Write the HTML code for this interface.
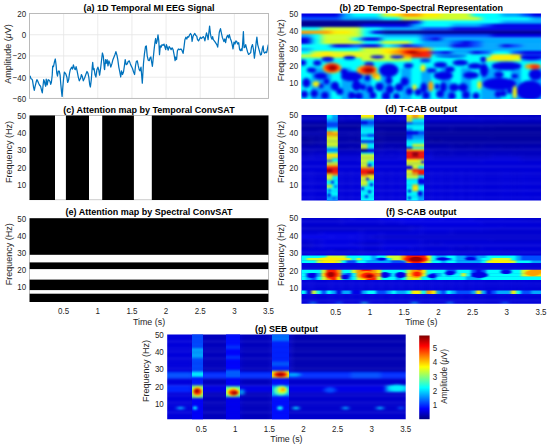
<!DOCTYPE html>
<html><head><meta charset="utf-8"><title>figure</title>
<style>html,body{margin:0;padding:0;background:#fff;width:550px;height:446px;overflow:hidden}svg{display:block}</style>
</head><body>
<svg width="550" height="446" viewBox="0 0 550 446">
<rect x="0" y="0" width="550" height="446" fill="#fff"/>
<line x1="63.64" y1="13.5" x2="63.64" y2="98.4" stroke="#e6e6e6" stroke-width="0.8"/>
<line x1="97.79" y1="13.5" x2="97.79" y2="98.4" stroke="#e6e6e6" stroke-width="0.8"/>
<line x1="131.93" y1="13.5" x2="131.93" y2="98.4" stroke="#e6e6e6" stroke-width="0.8"/>
<line x1="166.07" y1="13.5" x2="166.07" y2="98.4" stroke="#e6e6e6" stroke-width="0.8"/>
<line x1="200.21" y1="13.5" x2="200.21" y2="98.4" stroke="#e6e6e6" stroke-width="0.8"/>
<line x1="234.36" y1="13.5" x2="234.36" y2="98.4" stroke="#e6e6e6" stroke-width="0.8"/>
<line x1="29.5" y1="34.73" x2="268.5" y2="34.73" stroke="#e6e6e6" stroke-width="0.8"/>
<line x1="29.5" y1="55.95" x2="268.5" y2="55.95" stroke="#e6e6e6" stroke-width="0.8"/>
<line x1="29.5" y1="77.18" x2="268.5" y2="77.18" stroke="#e6e6e6" stroke-width="0.8"/>
<polyline points="29.5,77.2 30.2,76.2 31.0,78.7 32.0,79.2 32.5,80.3 33.6,87.3 34.3,90.4 35.1,86.3 36.1,82.3 36.9,79.7 37.6,80.8 38.6,83.3 39.6,85.3 40.6,86.3 41.6,90.4 42.3,92.9 43.2,84.3 43.7,79.7 44.4,81.3 45.0,84.3 45.7,86.3 46.2,79.2 46.7,81.3 47.2,84.8 48.2,79.7 49.2,80.3 50.0,81.3 50.7,84.3 51.4,82.3 52.2,75.2 52.7,66.1 53.5,66.6 54.5,61.6 55.3,59.0 56.1,65.1 56.8,73.2 57.5,76.2 58.3,71.2 59.3,71.2 60.1,75.2 60.8,84.3 61.6,92.4 62.1,96.4 62.8,87.3 63.6,78.2 64.4,72.2 65.9,74.2 66.9,77.2 67.6,82.3 67.9,82.0 68.7,79.6 69.5,73.4 70.3,69.7 71.6,67.2 72.4,69.1 73.4,64.8 74.4,68.5 75.3,69.7 76.1,66.6 77.1,70.9 78.3,77.1 79.3,80.8 80.6,78.3 81.4,74.6 82.3,76.5 83.3,80.8 84.5,78.3 85.8,74.6 87.0,71.5 88.0,73.4 88.8,77.1 89.7,84.5 90.4,87.0 91.3,79.6 92.2,67.2 92.7,62.3 93.4,69.7 94.1,68.5 95.0,74.6 95.9,77.1 96.9,69.7 97.9,67.2 98.7,69.7 99.6,75.2 100.6,68.5 101.6,59.8 102.4,53.0 103.3,56.1 104.3,68.5 104.6,69.6 105.5,59.7 106.2,63.4 107.1,59.7 108.0,65.9 108.9,60.9 109.9,63.4 110.8,67.1 112.0,63.4 112.9,59.7 113.9,57.2 114.9,54.8 115.9,51.7 117.0,55.4 117.8,59.7 118.8,67.1 119.8,72.0 120.7,77.0 121.5,70.8 122.5,74.5 123.5,72.0 124.4,65.9 125.2,59.7 126.2,64.6 127.2,64.0 128.2,61.5 129.3,60.9 130.2,63.4 131.2,65.9 132.4,68.3 133.6,72.0 134.6,74.5 135.5,65.9 136.3,61.5 137.3,60.9 138.3,65.9 139.2,69.6 140.0,70.8 141.0,67.1 141.7,75.7 142.3,83.1 143.5,63.2 144.5,53.3 145.5,46.5 146.3,45.9 147.2,55.8 148.2,60.1 149.2,60.7 150.1,57.7 150.9,57.0 151.6,62.0 152.4,66.3 153.1,59.5 154.1,49.6 155.0,42.2 155.6,38.5 156.3,43.5 157.1,41.0 158.0,34.8 158.8,41.0 159.5,54.6 160.3,45.9 161.1,47.2 162.0,44.7 163.0,45.3 164.0,44.1 164.8,46.5 165.7,49.6 166.4,44.7 167.3,47.2 168.2,50.2 169.2,46.5 170.1,47.8 171.1,49.6 172.1,47.8 173.1,49.6 174.1,54.6 175.1,60.7 175.8,57.0 176.6,59.5 177.4,50.9 178.4,49.0 179.7,49.6 180.9,49.0 181.9,50.2 183.1,53.3 184.0,47.1 184.9,39.7 185.9,37.2 186.8,39.1 187.7,36.6 188.6,37.2 189.6,34.8 190.5,33.5 191.4,34.8 192.1,41.5 193.0,36.6 193.8,34.8 194.8,33.5 195.8,35.4 196.7,36.0 197.5,39.7 198.5,40.9 199.5,39.1 200.4,37.2 201.2,38.5 202.2,37.8 203.2,36.6 204.1,37.8 204.9,40.9 205.7,36.6 206.5,32.9 207.4,36.0 208.1,39.7 208.9,32.3 209.6,26.1 210.4,33.5 211.1,37.2 211.9,39.1 212.6,36.6 213.3,39.7 214.3,40.9 215.2,42.2 216.0,43.4 216.8,44.6 217.7,47.1 218.5,39.7 219.3,32.3 220.5,28.6 221.5,33.5 222.3,37.2 223.2,39.6 223.9,41.5 224.8,39.0 225.6,42.7 226.6,37.2 227.6,35.3 228.5,37.8 229.3,34.7 230.3,38.4 231.3,40.9 232.2,44.6 233.0,48.9 234.0,42.1 235.0,44.0 235.9,40.9 236.7,41.5 237.7,44.0 238.7,42.7 239.6,49.5 240.4,50.7 241.2,48.9 242.0,50.7 242.6,44.6 243.4,31.6 244.1,47.7 244.9,47.0 245.7,44.6 246.6,48.3 247.6,52.0 248.6,54.4 249.5,53.8 250.7,52.6 251.5,47.0 252.5,44.6 253.5,49.5 254.4,58.1 255.2,52.0 256.2,42.1 256.9,37.2 257.7,44.6 258.7,48.3 259.7,52.0 260.5,55.0 261.4,54.4 262.4,48.3 263.1,45.8 263.8,52.0 264.6,53.2 265.6,52.0 266.6,52.6 267.3,49.5 268.3,44.6" fill="none" stroke="#0072bd" stroke-width="1.25" stroke-linejoin="round"/>
<rect x="29.5" y="13.5" width="239.0" height="84.90" fill="none" stroke="#b3b3b3" stroke-width="0.9"/>
<text x="149.00" y="10.60" font-family="Liberation Sans, sans-serif" font-size="9" font-weight="bold" fill="#000" text-anchor="middle">(a) 1D Temporal MI EEG Signal</text>
<text transform="translate(26.10,16.85) scale(1,1.15)" font-family="Liberation Sans, sans-serif" font-size="8.0" fill="#262626" text-anchor="end">20</text>
<text transform="translate(26.10,38.08) scale(1,1.15)" font-family="Liberation Sans, sans-serif" font-size="8.0" fill="#262626" text-anchor="end">0</text>
<text transform="translate(26.10,59.30) scale(1,1.15)" font-family="Liberation Sans, sans-serif" font-size="8.0" fill="#262626" text-anchor="end">−20</text>
<text transform="translate(26.10,80.53) scale(1,1.15)" font-family="Liberation Sans, sans-serif" font-size="8.0" fill="#262626" text-anchor="end">−40</text>
<text transform="translate(26.10,101.75) scale(1,1.15)" font-family="Liberation Sans, sans-serif" font-size="8.0" fill="#262626" text-anchor="end">−60</text>
<text transform="translate(11.10,53.95) rotate(-90)" x="0" y="0" font-family="Liberation Sans, sans-serif" font-size="9.0" fill="#262626" text-anchor="middle">Amplitude (<tspan font-style="italic">μ</tspan>V)</text>
<clipPath id="k1"><rect x="301.50" y="13.50" width="239.50" height="85.20"/></clipPath>
<filter id="k2" x="-10%" y="-10%" width="120%" height="120%" color-interpolation-filters="sRGB"><feGaussianBlur stdDeviation="3.2 1.3"/></filter>
<g clip-path="url(#k1)">
<g filter="url(#k2)">
<rect x="295.50" y="7.50" width="46.17" height="9.66" fill="#0000e6"/>
<rect x="341.42" y="7.50" width="10.23" height="9.66" fill="#00a8ff"/>
<rect x="351.40" y="7.50" width="30.19" height="9.66" fill="#00ffff"/>
<rect x="381.33" y="7.50" width="10.23" height="9.66" fill="#d1ff2e"/>
<rect x="391.31" y="7.50" width="10.23" height="9.66" fill="#fff000"/>
<rect x="401.29" y="7.50" width="20.21" height="9.66" fill="#ff9e00"/>
<rect x="421.25" y="7.50" width="20.21" height="9.66" fill="#fff000"/>
<rect x="441.21" y="7.50" width="30.19" height="9.66" fill="#d1ff2e"/>
<rect x="471.15" y="7.50" width="30.19" height="9.66" fill="#00ffff"/>
<rect x="501.08" y="7.50" width="20.21" height="9.66" fill="#00a8ff"/>
<rect x="521.04" y="7.50" width="10.23" height="9.66" fill="#004dff"/>
<rect x="531.02" y="7.50" width="16.23" height="9.66" fill="#0000e6"/>
<rect x="295.50" y="16.91" width="46.17" height="3.66" fill="#004dff"/>
<rect x="341.42" y="16.91" width="40.17" height="3.66" fill="#00a8ff"/>
<rect x="381.33" y="16.91" width="20.21" height="3.66" fill="#00ffff"/>
<rect x="401.29" y="16.91" width="80.08" height="3.66" fill="#d1ff2e"/>
<rect x="481.12" y="16.91" width="50.15" height="3.66" fill="#00ffff"/>
<rect x="531.02" y="16.91" width="16.23" height="3.66" fill="#00a8ff"/>
<rect x="295.50" y="20.32" width="116.02" height="3.66" fill="#000094"/>
<rect x="411.27" y="20.32" width="10.23" height="3.66" fill="#0000e6"/>
<rect x="421.25" y="20.32" width="80.08" height="3.66" fill="#00ffff"/>
<rect x="501.08" y="20.32" width="46.17" height="3.66" fill="#00a8ff"/>
<rect x="295.50" y="23.72" width="66.12" height="3.66" fill="#000094"/>
<rect x="361.38" y="23.72" width="50.15" height="3.66" fill="#0000e6"/>
<rect x="411.27" y="23.72" width="10.23" height="3.66" fill="#00a8ff"/>
<rect x="421.25" y="23.72" width="30.19" height="3.66" fill="#00ffff"/>
<rect x="451.19" y="23.72" width="30.19" height="3.66" fill="#00a8ff"/>
<rect x="481.12" y="23.72" width="10.23" height="3.66" fill="#004dff"/>
<rect x="491.10" y="23.72" width="56.15" height="3.66" fill="#0000e6"/>
<rect x="295.50" y="27.13" width="26.21" height="3.66" fill="#00ffff"/>
<rect x="321.46" y="27.13" width="40.17" height="3.66" fill="#d1ff2e"/>
<rect x="361.38" y="27.13" width="20.21" height="3.66" fill="#00ffff"/>
<rect x="381.33" y="27.13" width="40.17" height="3.66" fill="#00a8ff"/>
<rect x="421.25" y="27.13" width="30.19" height="3.66" fill="#004dff"/>
<rect x="451.19" y="27.13" width="96.06" height="3.66" fill="#0000e6"/>
<rect x="295.50" y="30.54" width="36.19" height="3.66" fill="#ff9e00"/>
<rect x="331.44" y="30.54" width="20.21" height="3.66" fill="#fff000"/>
<rect x="351.40" y="30.54" width="10.23" height="3.66" fill="#d1ff2e"/>
<rect x="361.38" y="30.54" width="10.23" height="3.66" fill="#00ffff"/>
<rect x="371.35" y="30.54" width="10.23" height="3.66" fill="#0000e6"/>
<rect x="381.33" y="30.54" width="165.92" height="3.66" fill="#000094"/>
<rect x="295.50" y="33.95" width="16.23" height="3.66" fill="#00a8ff"/>
<rect x="311.48" y="33.95" width="10.23" height="3.66" fill="#00ffff"/>
<rect x="321.46" y="33.95" width="40.17" height="3.66" fill="#d1ff2e"/>
<rect x="361.38" y="33.95" width="20.21" height="3.66" fill="#00ffff"/>
<rect x="381.33" y="33.95" width="40.17" height="3.66" fill="#00a8ff"/>
<rect x="421.25" y="33.95" width="70.10" height="3.66" fill="#004dff"/>
<rect x="491.10" y="33.95" width="56.15" height="3.66" fill="#0000e6"/>
<rect x="295.50" y="37.36" width="16.23" height="3.66" fill="#0000e6"/>
<rect x="311.48" y="37.36" width="10.23" height="3.66" fill="#00ffff"/>
<rect x="321.46" y="37.36" width="30.19" height="3.66" fill="#d1ff2e"/>
<rect x="351.40" y="37.36" width="10.23" height="3.66" fill="#00ffff"/>
<rect x="361.38" y="37.36" width="20.21" height="3.66" fill="#0000e6"/>
<rect x="381.33" y="37.36" width="40.17" height="3.66" fill="#00ffff"/>
<rect x="421.25" y="37.36" width="10.23" height="3.66" fill="#004dff"/>
<rect x="431.23" y="37.36" width="10.23" height="3.66" fill="#0000e6"/>
<rect x="441.21" y="37.36" width="106.04" height="3.66" fill="#00a8ff"/>
<rect x="295.50" y="40.76" width="16.23" height="3.66" fill="#0000e6"/>
<rect x="311.48" y="40.76" width="10.23" height="3.66" fill="#00ffff"/>
<rect x="321.46" y="40.76" width="40.17" height="3.66" fill="#d1ff2e"/>
<rect x="361.38" y="40.76" width="20.21" height="3.66" fill="#00ffff"/>
<rect x="381.33" y="40.76" width="30.19" height="3.66" fill="#d1ff2e"/>
<rect x="411.27" y="40.76" width="10.23" height="3.66" fill="#00ffff"/>
<rect x="421.25" y="40.76" width="30.19" height="3.66" fill="#00a8ff"/>
<rect x="451.19" y="40.76" width="10.23" height="3.66" fill="#004dff"/>
<rect x="461.17" y="40.76" width="10.23" height="3.66" fill="#0000e6"/>
<rect x="471.15" y="40.76" width="10.23" height="3.66" fill="#004dff"/>
<rect x="481.12" y="40.76" width="66.12" height="3.66" fill="#00a8ff"/>
<rect x="295.50" y="44.17" width="36.19" height="3.66" fill="#00ffff"/>
<rect x="331.44" y="44.17" width="20.21" height="3.66" fill="#0000e6"/>
<rect x="351.40" y="44.17" width="10.23" height="3.66" fill="#004dff"/>
<rect x="361.38" y="44.17" width="20.21" height="3.66" fill="#0000e6"/>
<rect x="381.33" y="44.17" width="10.23" height="3.66" fill="#00ffff"/>
<rect x="391.31" y="44.17" width="10.23" height="3.66" fill="#00a8ff"/>
<rect x="401.29" y="44.17" width="10.23" height="3.66" fill="#0000e6"/>
<rect x="411.27" y="44.17" width="10.23" height="3.66" fill="#004dff"/>
<rect x="421.25" y="44.17" width="30.19" height="3.66" fill="#00a8ff"/>
<rect x="451.19" y="44.17" width="20.21" height="3.66" fill="#0000e6"/>
<rect x="471.15" y="44.17" width="10.23" height="3.66" fill="#004dff"/>
<rect x="481.12" y="44.17" width="20.21" height="3.66" fill="#00a8ff"/>
<rect x="501.08" y="44.17" width="10.23" height="3.66" fill="#0000e6"/>
<rect x="511.06" y="44.17" width="10.23" height="3.66" fill="#004dff"/>
<rect x="521.04" y="44.17" width="26.21" height="3.66" fill="#00a8ff"/>
<rect x="295.50" y="47.58" width="16.23" height="3.66" fill="#00a8ff"/>
<rect x="311.48" y="47.58" width="50.15" height="3.66" fill="#00ffff"/>
<rect x="361.38" y="47.58" width="20.21" height="3.66" fill="#d1ff2e"/>
<rect x="381.33" y="47.58" width="20.21" height="3.66" fill="#fff000"/>
<rect x="401.29" y="47.58" width="10.23" height="3.66" fill="#ff9e00"/>
<rect x="411.27" y="47.58" width="10.23" height="3.66" fill="#ff1a00"/>
<rect x="421.25" y="47.58" width="10.23" height="3.66" fill="#ff9e00"/>
<rect x="431.23" y="47.58" width="20.21" height="3.66" fill="#00ffff"/>
<rect x="451.19" y="47.58" width="96.06" height="3.66" fill="#00a8ff"/>
<rect x="295.50" y="50.99" width="16.23" height="3.66" fill="#00ffff"/>
<rect x="311.48" y="50.99" width="10.23" height="3.66" fill="#d1ff2e"/>
<rect x="321.46" y="50.99" width="10.23" height="3.66" fill="#fff000"/>
<rect x="331.44" y="50.99" width="50.15" height="3.66" fill="#d1ff2e"/>
<rect x="381.33" y="50.99" width="10.23" height="3.66" fill="#fff000"/>
<rect x="391.31" y="50.99" width="10.23" height="3.66" fill="#ff9e00"/>
<rect x="401.29" y="50.99" width="10.23" height="3.66" fill="#ff1a00"/>
<rect x="411.27" y="50.99" width="10.23" height="3.66" fill="#9e0000"/>
<rect x="421.25" y="50.99" width="10.23" height="3.66" fill="#ff1a00"/>
<rect x="431.23" y="50.99" width="10.23" height="3.66" fill="#004dff"/>
<rect x="441.21" y="50.99" width="10.23" height="3.66" fill="#0000e6"/>
<rect x="451.19" y="50.99" width="20.21" height="3.66" fill="#00a8ff"/>
<rect x="471.15" y="50.99" width="10.23" height="3.66" fill="#0000e6"/>
<rect x="481.12" y="50.99" width="10.23" height="3.66" fill="#004dff"/>
<rect x="491.10" y="50.99" width="20.21" height="3.66" fill="#00ffff"/>
<rect x="511.06" y="50.99" width="10.23" height="3.66" fill="#004dff"/>
<rect x="521.04" y="50.99" width="26.21" height="3.66" fill="#0000e6"/>
<rect x="295.50" y="54.40" width="16.23" height="3.66" fill="#d1ff2e"/>
<rect x="311.48" y="54.40" width="50.15" height="3.66" fill="#fff000"/>
<rect x="361.38" y="54.40" width="40.17" height="3.66" fill="#d1ff2e"/>
<rect x="401.29" y="54.40" width="10.23" height="3.66" fill="#ff9e00"/>
<rect x="411.27" y="54.40" width="20.21" height="3.66" fill="#ff1a00"/>
<rect x="431.23" y="54.40" width="60.12" height="3.66" fill="#00ffff"/>
<rect x="491.10" y="54.40" width="30.19" height="3.66" fill="#fff000"/>
<rect x="521.04" y="54.40" width="26.21" height="3.66" fill="#004dff"/>
<rect x="295.50" y="57.80" width="66.12" height="3.66" fill="#00ffff"/>
<rect x="361.38" y="57.80" width="50.15" height="3.66" fill="#d1ff2e"/>
<rect x="411.27" y="57.80" width="70.10" height="3.66" fill="#00ffff"/>
<rect x="481.12" y="57.80" width="40.17" height="3.66" fill="#d1ff2e"/>
<rect x="521.04" y="57.80" width="26.21" height="3.66" fill="#00a8ff"/>
<rect x="295.50" y="61.21" width="251.75" height="3.66" fill="#00ffff"/>
<rect x="295.50" y="64.62" width="251.75" height="3.66" fill="#00ffff"/>
<rect x="295.50" y="68.03" width="16.23" height="3.66" fill="#00ffff"/>
<rect x="311.48" y="68.03" width="20.21" height="3.66" fill="#00a8ff"/>
<rect x="331.44" y="68.03" width="10.23" height="3.66" fill="#00ffff"/>
<rect x="341.42" y="68.03" width="10.23" height="3.66" fill="#00a8ff"/>
<rect x="351.40" y="68.03" width="10.23" height="3.66" fill="#00ffff"/>
<rect x="361.38" y="68.03" width="10.23" height="3.66" fill="#00a8ff"/>
<rect x="371.35" y="68.03" width="10.23" height="3.66" fill="#00ffff"/>
<rect x="381.33" y="68.03" width="10.23" height="3.66" fill="#00a8ff"/>
<rect x="391.31" y="68.03" width="10.23" height="3.66" fill="#00ffff"/>
<rect x="401.29" y="68.03" width="10.23" height="3.66" fill="#00a8ff"/>
<rect x="411.27" y="68.03" width="10.23" height="3.66" fill="#00ffff"/>
<rect x="421.25" y="68.03" width="10.23" height="3.66" fill="#00a8ff"/>
<rect x="431.23" y="68.03" width="10.23" height="3.66" fill="#00ffff"/>
<rect x="441.21" y="68.03" width="10.23" height="3.66" fill="#00a8ff"/>
<rect x="451.19" y="68.03" width="10.23" height="3.66" fill="#00ffff"/>
<rect x="461.17" y="68.03" width="10.23" height="3.66" fill="#00a8ff"/>
<rect x="471.15" y="68.03" width="10.23" height="3.66" fill="#00ffff"/>
<rect x="481.12" y="68.03" width="20.21" height="3.66" fill="#00a8ff"/>
<rect x="501.08" y="68.03" width="10.23" height="3.66" fill="#00ffff"/>
<rect x="511.06" y="68.03" width="10.23" height="3.66" fill="#00a8ff"/>
<rect x="521.04" y="68.03" width="10.23" height="3.66" fill="#00ffff"/>
<rect x="531.02" y="68.03" width="16.23" height="3.66" fill="#00a8ff"/>
<rect x="295.50" y="71.44" width="16.23" height="3.66" fill="#00ffff"/>
<rect x="311.48" y="71.44" width="20.21" height="3.66" fill="#00a8ff"/>
<rect x="331.44" y="71.44" width="10.23" height="3.66" fill="#00ffff"/>
<rect x="341.42" y="71.44" width="10.23" height="3.66" fill="#00a8ff"/>
<rect x="351.40" y="71.44" width="10.23" height="3.66" fill="#00ffff"/>
<rect x="361.38" y="71.44" width="10.23" height="3.66" fill="#00a8ff"/>
<rect x="371.35" y="71.44" width="10.23" height="3.66" fill="#00ffff"/>
<rect x="381.33" y="71.44" width="10.23" height="3.66" fill="#00a8ff"/>
<rect x="391.31" y="71.44" width="10.23" height="3.66" fill="#00ffff"/>
<rect x="401.29" y="71.44" width="10.23" height="3.66" fill="#00a8ff"/>
<rect x="411.27" y="71.44" width="10.23" height="3.66" fill="#00ffff"/>
<rect x="421.25" y="71.44" width="10.23" height="3.66" fill="#00a8ff"/>
<rect x="431.23" y="71.44" width="10.23" height="3.66" fill="#00ffff"/>
<rect x="441.21" y="71.44" width="10.23" height="3.66" fill="#00a8ff"/>
<rect x="451.19" y="71.44" width="10.23" height="3.66" fill="#00ffff"/>
<rect x="461.17" y="71.44" width="10.23" height="3.66" fill="#00a8ff"/>
<rect x="471.15" y="71.44" width="10.23" height="3.66" fill="#00ffff"/>
<rect x="481.12" y="71.44" width="20.21" height="3.66" fill="#00a8ff"/>
<rect x="501.08" y="71.44" width="10.23" height="3.66" fill="#00ffff"/>
<rect x="511.06" y="71.44" width="10.23" height="3.66" fill="#00a8ff"/>
<rect x="521.04" y="71.44" width="10.23" height="3.66" fill="#00ffff"/>
<rect x="531.02" y="71.44" width="16.23" height="3.66" fill="#00a8ff"/>
<rect x="295.50" y="74.84" width="16.23" height="3.66" fill="#00ffff"/>
<rect x="311.48" y="74.84" width="20.21" height="3.66" fill="#00a8ff"/>
<rect x="331.44" y="74.84" width="10.23" height="3.66" fill="#00ffff"/>
<rect x="341.42" y="74.84" width="10.23" height="3.66" fill="#00a8ff"/>
<rect x="351.40" y="74.84" width="10.23" height="3.66" fill="#00ffff"/>
<rect x="361.38" y="74.84" width="10.23" height="3.66" fill="#00a8ff"/>
<rect x="371.35" y="74.84" width="10.23" height="3.66" fill="#00ffff"/>
<rect x="381.33" y="74.84" width="10.23" height="3.66" fill="#00a8ff"/>
<rect x="391.31" y="74.84" width="10.23" height="3.66" fill="#00ffff"/>
<rect x="401.29" y="74.84" width="10.23" height="3.66" fill="#00a8ff"/>
<rect x="411.27" y="74.84" width="10.23" height="3.66" fill="#00ffff"/>
<rect x="421.25" y="74.84" width="10.23" height="3.66" fill="#00a8ff"/>
<rect x="431.23" y="74.84" width="10.23" height="3.66" fill="#00ffff"/>
<rect x="441.21" y="74.84" width="10.23" height="3.66" fill="#00a8ff"/>
<rect x="451.19" y="74.84" width="10.23" height="3.66" fill="#00ffff"/>
<rect x="461.17" y="74.84" width="10.23" height="3.66" fill="#00a8ff"/>
<rect x="471.15" y="74.84" width="10.23" height="3.66" fill="#00ffff"/>
<rect x="481.12" y="74.84" width="20.21" height="3.66" fill="#00a8ff"/>
<rect x="501.08" y="74.84" width="10.23" height="3.66" fill="#00ffff"/>
<rect x="511.06" y="74.84" width="10.23" height="3.66" fill="#00a8ff"/>
<rect x="521.04" y="74.84" width="10.23" height="3.66" fill="#00ffff"/>
<rect x="531.02" y="74.84" width="16.23" height="3.66" fill="#00a8ff"/>
<rect x="295.50" y="78.25" width="16.23" height="3.66" fill="#00ffff"/>
<rect x="311.48" y="78.25" width="20.21" height="3.66" fill="#00a8ff"/>
<rect x="331.44" y="78.25" width="10.23" height="3.66" fill="#00ffff"/>
<rect x="341.42" y="78.25" width="10.23" height="3.66" fill="#00a8ff"/>
<rect x="351.40" y="78.25" width="10.23" height="3.66" fill="#00ffff"/>
<rect x="361.38" y="78.25" width="10.23" height="3.66" fill="#00a8ff"/>
<rect x="371.35" y="78.25" width="10.23" height="3.66" fill="#00ffff"/>
<rect x="381.33" y="78.25" width="10.23" height="3.66" fill="#00a8ff"/>
<rect x="391.31" y="78.25" width="10.23" height="3.66" fill="#00ffff"/>
<rect x="401.29" y="78.25" width="10.23" height="3.66" fill="#00a8ff"/>
<rect x="411.27" y="78.25" width="10.23" height="3.66" fill="#00ffff"/>
<rect x="421.25" y="78.25" width="10.23" height="3.66" fill="#00a8ff"/>
<rect x="431.23" y="78.25" width="10.23" height="3.66" fill="#00ffff"/>
<rect x="441.21" y="78.25" width="10.23" height="3.66" fill="#00a8ff"/>
<rect x="451.19" y="78.25" width="10.23" height="3.66" fill="#00ffff"/>
<rect x="461.17" y="78.25" width="10.23" height="3.66" fill="#00a8ff"/>
<rect x="471.15" y="78.25" width="10.23" height="3.66" fill="#00ffff"/>
<rect x="481.12" y="78.25" width="20.21" height="3.66" fill="#00a8ff"/>
<rect x="501.08" y="78.25" width="10.23" height="3.66" fill="#00ffff"/>
<rect x="511.06" y="78.25" width="10.23" height="3.66" fill="#00a8ff"/>
<rect x="521.04" y="78.25" width="10.23" height="3.66" fill="#00ffff"/>
<rect x="531.02" y="78.25" width="16.23" height="3.66" fill="#00a8ff"/>
<rect x="295.50" y="81.66" width="16.23" height="3.66" fill="#00ffff"/>
<rect x="311.48" y="81.66" width="20.21" height="3.66" fill="#00a8ff"/>
<rect x="331.44" y="81.66" width="10.23" height="3.66" fill="#00ffff"/>
<rect x="341.42" y="81.66" width="10.23" height="3.66" fill="#00a8ff"/>
<rect x="351.40" y="81.66" width="10.23" height="3.66" fill="#00ffff"/>
<rect x="361.38" y="81.66" width="10.23" height="3.66" fill="#00a8ff"/>
<rect x="371.35" y="81.66" width="10.23" height="3.66" fill="#00ffff"/>
<rect x="381.33" y="81.66" width="10.23" height="3.66" fill="#00a8ff"/>
<rect x="391.31" y="81.66" width="10.23" height="3.66" fill="#00ffff"/>
<rect x="401.29" y="81.66" width="10.23" height="3.66" fill="#00a8ff"/>
<rect x="411.27" y="81.66" width="10.23" height="3.66" fill="#00ffff"/>
<rect x="421.25" y="81.66" width="10.23" height="3.66" fill="#00a8ff"/>
<rect x="431.23" y="81.66" width="10.23" height="3.66" fill="#00ffff"/>
<rect x="441.21" y="81.66" width="10.23" height="3.66" fill="#00a8ff"/>
<rect x="451.19" y="81.66" width="10.23" height="3.66" fill="#00ffff"/>
<rect x="461.17" y="81.66" width="10.23" height="3.66" fill="#00a8ff"/>
<rect x="471.15" y="81.66" width="10.23" height="3.66" fill="#00ffff"/>
<rect x="481.12" y="81.66" width="20.21" height="3.66" fill="#00a8ff"/>
<rect x="501.08" y="81.66" width="10.23" height="3.66" fill="#00ffff"/>
<rect x="511.06" y="81.66" width="10.23" height="3.66" fill="#00a8ff"/>
<rect x="521.04" y="81.66" width="10.23" height="3.66" fill="#00ffff"/>
<rect x="531.02" y="81.66" width="16.23" height="3.66" fill="#00a8ff"/>
<rect x="295.50" y="85.07" width="16.23" height="3.66" fill="#00ffff"/>
<rect x="311.48" y="85.07" width="20.21" height="3.66" fill="#00a8ff"/>
<rect x="331.44" y="85.07" width="10.23" height="3.66" fill="#00ffff"/>
<rect x="341.42" y="85.07" width="10.23" height="3.66" fill="#00a8ff"/>
<rect x="351.40" y="85.07" width="10.23" height="3.66" fill="#00ffff"/>
<rect x="361.38" y="85.07" width="10.23" height="3.66" fill="#00a8ff"/>
<rect x="371.35" y="85.07" width="10.23" height="3.66" fill="#00ffff"/>
<rect x="381.33" y="85.07" width="10.23" height="3.66" fill="#00a8ff"/>
<rect x="391.31" y="85.07" width="10.23" height="3.66" fill="#00ffff"/>
<rect x="401.29" y="85.07" width="10.23" height="3.66" fill="#00a8ff"/>
<rect x="411.27" y="85.07" width="10.23" height="3.66" fill="#00ffff"/>
<rect x="421.25" y="85.07" width="10.23" height="3.66" fill="#00a8ff"/>
<rect x="431.23" y="85.07" width="10.23" height="3.66" fill="#00ffff"/>
<rect x="441.21" y="85.07" width="10.23" height="3.66" fill="#00a8ff"/>
<rect x="451.19" y="85.07" width="10.23" height="3.66" fill="#00ffff"/>
<rect x="461.17" y="85.07" width="10.23" height="3.66" fill="#00a8ff"/>
<rect x="471.15" y="85.07" width="10.23" height="3.66" fill="#00ffff"/>
<rect x="481.12" y="85.07" width="20.21" height="3.66" fill="#00a8ff"/>
<rect x="501.08" y="85.07" width="10.23" height="3.66" fill="#00ffff"/>
<rect x="511.06" y="85.07" width="10.23" height="3.66" fill="#00a8ff"/>
<rect x="521.04" y="85.07" width="10.23" height="3.66" fill="#00ffff"/>
<rect x="531.02" y="85.07" width="16.23" height="3.66" fill="#00a8ff"/>
<rect x="295.50" y="88.48" width="16.23" height="3.66" fill="#00ffff"/>
<rect x="311.48" y="88.48" width="20.21" height="3.66" fill="#00a8ff"/>
<rect x="331.44" y="88.48" width="10.23" height="3.66" fill="#00ffff"/>
<rect x="341.42" y="88.48" width="10.23" height="3.66" fill="#00a8ff"/>
<rect x="351.40" y="88.48" width="10.23" height="3.66" fill="#00ffff"/>
<rect x="361.38" y="88.48" width="10.23" height="3.66" fill="#00a8ff"/>
<rect x="371.35" y="88.48" width="10.23" height="3.66" fill="#00ffff"/>
<rect x="381.33" y="88.48" width="10.23" height="3.66" fill="#00a8ff"/>
<rect x="391.31" y="88.48" width="10.23" height="3.66" fill="#00ffff"/>
<rect x="401.29" y="88.48" width="10.23" height="3.66" fill="#00a8ff"/>
<rect x="411.27" y="88.48" width="10.23" height="3.66" fill="#00ffff"/>
<rect x="421.25" y="88.48" width="10.23" height="3.66" fill="#00a8ff"/>
<rect x="431.23" y="88.48" width="10.23" height="3.66" fill="#00ffff"/>
<rect x="441.21" y="88.48" width="10.23" height="3.66" fill="#00a8ff"/>
<rect x="451.19" y="88.48" width="10.23" height="3.66" fill="#00ffff"/>
<rect x="461.17" y="88.48" width="10.23" height="3.66" fill="#00a8ff"/>
<rect x="471.15" y="88.48" width="10.23" height="3.66" fill="#00ffff"/>
<rect x="481.12" y="88.48" width="20.21" height="3.66" fill="#00a8ff"/>
<rect x="501.08" y="88.48" width="10.23" height="3.66" fill="#00ffff"/>
<rect x="511.06" y="88.48" width="10.23" height="3.66" fill="#00a8ff"/>
<rect x="521.04" y="88.48" width="10.23" height="3.66" fill="#00ffff"/>
<rect x="531.02" y="88.48" width="16.23" height="3.66" fill="#00a8ff"/>
<rect x="295.50" y="91.88" width="16.23" height="3.66" fill="#00ffff"/>
<rect x="311.48" y="91.88" width="20.21" height="3.66" fill="#00a8ff"/>
<rect x="331.44" y="91.88" width="10.23" height="3.66" fill="#00ffff"/>
<rect x="341.42" y="91.88" width="10.23" height="3.66" fill="#00a8ff"/>
<rect x="351.40" y="91.88" width="10.23" height="3.66" fill="#00ffff"/>
<rect x="361.38" y="91.88" width="10.23" height="3.66" fill="#00a8ff"/>
<rect x="371.35" y="91.88" width="10.23" height="3.66" fill="#00ffff"/>
<rect x="381.33" y="91.88" width="10.23" height="3.66" fill="#00a8ff"/>
<rect x="391.31" y="91.88" width="10.23" height="3.66" fill="#00ffff"/>
<rect x="401.29" y="91.88" width="10.23" height="3.66" fill="#00a8ff"/>
<rect x="411.27" y="91.88" width="10.23" height="3.66" fill="#00ffff"/>
<rect x="421.25" y="91.88" width="10.23" height="3.66" fill="#00a8ff"/>
<rect x="431.23" y="91.88" width="10.23" height="3.66" fill="#00ffff"/>
<rect x="441.21" y="91.88" width="10.23" height="3.66" fill="#00a8ff"/>
<rect x="451.19" y="91.88" width="10.23" height="3.66" fill="#00ffff"/>
<rect x="461.17" y="91.88" width="10.23" height="3.66" fill="#00a8ff"/>
<rect x="471.15" y="91.88" width="10.23" height="3.66" fill="#00ffff"/>
<rect x="481.12" y="91.88" width="20.21" height="3.66" fill="#00a8ff"/>
<rect x="501.08" y="91.88" width="10.23" height="3.66" fill="#00ffff"/>
<rect x="511.06" y="91.88" width="10.23" height="3.66" fill="#00a8ff"/>
<rect x="521.04" y="91.88" width="10.23" height="3.66" fill="#00ffff"/>
<rect x="531.02" y="91.88" width="16.23" height="3.66" fill="#00a8ff"/>
<rect x="295.50" y="95.29" width="16.23" height="9.66" fill="#00ffff"/>
<rect x="311.48" y="95.29" width="20.21" height="9.66" fill="#00a8ff"/>
<rect x="331.44" y="95.29" width="10.23" height="9.66" fill="#00ffff"/>
<rect x="341.42" y="95.29" width="10.23" height="9.66" fill="#00a8ff"/>
<rect x="351.40" y="95.29" width="10.23" height="9.66" fill="#00ffff"/>
<rect x="361.38" y="95.29" width="10.23" height="9.66" fill="#00a8ff"/>
<rect x="371.35" y="95.29" width="10.23" height="9.66" fill="#00ffff"/>
<rect x="381.33" y="95.29" width="10.23" height="9.66" fill="#00a8ff"/>
<rect x="391.31" y="95.29" width="10.23" height="9.66" fill="#00ffff"/>
<rect x="401.29" y="95.29" width="10.23" height="9.66" fill="#00a8ff"/>
<rect x="411.27" y="95.29" width="10.23" height="9.66" fill="#00ffff"/>
<rect x="421.25" y="95.29" width="10.23" height="9.66" fill="#00a8ff"/>
<rect x="431.23" y="95.29" width="10.23" height="9.66" fill="#00ffff"/>
<rect x="441.21" y="95.29" width="10.23" height="9.66" fill="#00a8ff"/>
<rect x="451.19" y="95.29" width="10.23" height="9.66" fill="#00ffff"/>
<rect x="461.17" y="95.29" width="10.23" height="9.66" fill="#00a8ff"/>
<rect x="471.15" y="95.29" width="10.23" height="9.66" fill="#00ffff"/>
<rect x="481.12" y="95.29" width="20.21" height="9.66" fill="#00a8ff"/>
<rect x="501.08" y="95.29" width="10.23" height="9.66" fill="#00ffff"/>
<rect x="511.06" y="95.29" width="10.23" height="9.66" fill="#00a8ff"/>
<rect x="521.04" y="95.29" width="10.23" height="9.66" fill="#00ffff"/>
<rect x="531.02" y="95.29" width="16.23" height="9.66" fill="#00a8ff"/>
<ellipse cx="408.00" cy="51.50" rx="13.00" ry="3.80" fill="#ff9e00"/>
<ellipse cx="411.00" cy="52.00" rx="9.00" ry="2.60" fill="#ff1a00"/>
<ellipse cx="413.00" cy="52.50" rx="5.00" ry="1.60" fill="#9e0000"/>
</g></g>
<clipPath id="k3"><rect x="301.50" y="52.00" width="239.50" height="46.70"/></clipPath>
<filter id="k4" x="-10%" y="-10%" width="120%" height="120%" color-interpolation-filters="sRGB"><feGaussianBlur stdDeviation="1.7 1.4"/></filter>
<linearGradient id="k6" gradientUnits="userSpaceOnUse" x1="0" y1="52.5" x2="0" y2="57.5"><stop offset="0" stop-color="#000"/><stop offset="1" stop-color="#fff"/></linearGradient>
<mask id="k5" maskUnits="userSpaceOnUse" x="0" y="0" width="550" height="446"><rect x="0" y="0" width="550" height="446" fill="url(#k6)"/></mask>
<g clip-path="url(#k3)" mask="url(#k5)">
<g filter="url(#k4)">
<rect x="295.50" y="44.90" width="16.23" height="9.66" fill="#00ffff"/>
<rect x="311.48" y="44.90" width="10.23" height="9.66" fill="#d1ff2e"/>
<rect x="321.46" y="44.90" width="10.23" height="9.66" fill="#fff000"/>
<rect x="331.44" y="44.90" width="50.15" height="9.66" fill="#d1ff2e"/>
<rect x="381.33" y="44.90" width="10.23" height="9.66" fill="#fff000"/>
<rect x="391.31" y="44.90" width="10.23" height="9.66" fill="#ff9e00"/>
<rect x="401.29" y="44.90" width="10.23" height="9.66" fill="#ff1a00"/>
<rect x="411.27" y="44.90" width="10.23" height="9.66" fill="#9e0000"/>
<rect x="421.25" y="44.90" width="10.23" height="9.66" fill="#ff1a00"/>
<rect x="431.23" y="44.90" width="10.23" height="9.66" fill="#004dff"/>
<rect x="441.21" y="44.90" width="10.23" height="9.66" fill="#0000e6"/>
<rect x="451.19" y="44.90" width="20.21" height="9.66" fill="#00a8ff"/>
<rect x="471.15" y="44.90" width="10.23" height="9.66" fill="#0000e6"/>
<rect x="481.12" y="44.90" width="10.23" height="9.66" fill="#004dff"/>
<rect x="491.10" y="44.90" width="20.21" height="9.66" fill="#00ffff"/>
<rect x="511.06" y="44.90" width="10.23" height="9.66" fill="#004dff"/>
<rect x="521.04" y="44.90" width="26.21" height="9.66" fill="#0000e6"/>
<rect x="295.50" y="54.31" width="16.23" height="3.66" fill="#d1ff2e"/>
<rect x="311.48" y="54.31" width="50.15" height="3.66" fill="#fff000"/>
<rect x="361.38" y="54.31" width="40.17" height="3.66" fill="#d1ff2e"/>
<rect x="401.29" y="54.31" width="10.23" height="3.66" fill="#ff9e00"/>
<rect x="411.27" y="54.31" width="20.21" height="3.66" fill="#ff1a00"/>
<rect x="431.23" y="54.31" width="60.12" height="3.66" fill="#00ffff"/>
<rect x="491.10" y="54.31" width="30.19" height="3.66" fill="#fff000"/>
<rect x="521.04" y="54.31" width="26.21" height="3.66" fill="#004dff"/>
<rect x="295.50" y="57.73" width="66.12" height="3.66" fill="#00ffff"/>
<rect x="361.38" y="57.73" width="50.15" height="3.66" fill="#d1ff2e"/>
<rect x="411.27" y="57.73" width="70.10" height="3.66" fill="#00ffff"/>
<rect x="481.12" y="57.73" width="40.17" height="3.66" fill="#d1ff2e"/>
<rect x="521.04" y="57.73" width="26.21" height="3.66" fill="#00a8ff"/>
<rect x="295.50" y="61.14" width="251.75" height="3.66" fill="#00ffff"/>
<rect x="295.50" y="64.56" width="251.75" height="3.66" fill="#00ffff"/>
<rect x="295.50" y="67.97" width="16.23" height="3.66" fill="#00ffff"/>
<rect x="311.48" y="67.97" width="20.21" height="3.66" fill="#00a8ff"/>
<rect x="331.44" y="67.97" width="10.23" height="3.66" fill="#00ffff"/>
<rect x="341.42" y="67.97" width="10.23" height="3.66" fill="#00a8ff"/>
<rect x="351.40" y="67.97" width="10.23" height="3.66" fill="#00ffff"/>
<rect x="361.38" y="67.97" width="10.23" height="3.66" fill="#00a8ff"/>
<rect x="371.35" y="67.97" width="10.23" height="3.66" fill="#00ffff"/>
<rect x="381.33" y="67.97" width="10.23" height="3.66" fill="#00a8ff"/>
<rect x="391.31" y="67.97" width="10.23" height="3.66" fill="#00ffff"/>
<rect x="401.29" y="67.97" width="10.23" height="3.66" fill="#00a8ff"/>
<rect x="411.27" y="67.97" width="10.23" height="3.66" fill="#00ffff"/>
<rect x="421.25" y="67.97" width="10.23" height="3.66" fill="#00a8ff"/>
<rect x="431.23" y="67.97" width="10.23" height="3.66" fill="#00ffff"/>
<rect x="441.21" y="67.97" width="10.23" height="3.66" fill="#00a8ff"/>
<rect x="451.19" y="67.97" width="10.23" height="3.66" fill="#00ffff"/>
<rect x="461.17" y="67.97" width="10.23" height="3.66" fill="#00a8ff"/>
<rect x="471.15" y="67.97" width="10.23" height="3.66" fill="#00ffff"/>
<rect x="481.12" y="67.97" width="20.21" height="3.66" fill="#00a8ff"/>
<rect x="501.08" y="67.97" width="10.23" height="3.66" fill="#00ffff"/>
<rect x="511.06" y="67.97" width="10.23" height="3.66" fill="#00a8ff"/>
<rect x="521.04" y="67.97" width="10.23" height="3.66" fill="#00ffff"/>
<rect x="531.02" y="67.97" width="16.23" height="3.66" fill="#00a8ff"/>
<rect x="295.50" y="71.39" width="16.23" height="3.66" fill="#00ffff"/>
<rect x="311.48" y="71.39" width="20.21" height="3.66" fill="#00a8ff"/>
<rect x="331.44" y="71.39" width="10.23" height="3.66" fill="#00ffff"/>
<rect x="341.42" y="71.39" width="10.23" height="3.66" fill="#00a8ff"/>
<rect x="351.40" y="71.39" width="10.23" height="3.66" fill="#00ffff"/>
<rect x="361.38" y="71.39" width="10.23" height="3.66" fill="#00a8ff"/>
<rect x="371.35" y="71.39" width="10.23" height="3.66" fill="#00ffff"/>
<rect x="381.33" y="71.39" width="10.23" height="3.66" fill="#00a8ff"/>
<rect x="391.31" y="71.39" width="10.23" height="3.66" fill="#00ffff"/>
<rect x="401.29" y="71.39" width="10.23" height="3.66" fill="#00a8ff"/>
<rect x="411.27" y="71.39" width="10.23" height="3.66" fill="#00ffff"/>
<rect x="421.25" y="71.39" width="10.23" height="3.66" fill="#00a8ff"/>
<rect x="431.23" y="71.39" width="10.23" height="3.66" fill="#00ffff"/>
<rect x="441.21" y="71.39" width="10.23" height="3.66" fill="#00a8ff"/>
<rect x="451.19" y="71.39" width="10.23" height="3.66" fill="#00ffff"/>
<rect x="461.17" y="71.39" width="10.23" height="3.66" fill="#00a8ff"/>
<rect x="471.15" y="71.39" width="10.23" height="3.66" fill="#00ffff"/>
<rect x="481.12" y="71.39" width="20.21" height="3.66" fill="#00a8ff"/>
<rect x="501.08" y="71.39" width="10.23" height="3.66" fill="#00ffff"/>
<rect x="511.06" y="71.39" width="10.23" height="3.66" fill="#00a8ff"/>
<rect x="521.04" y="71.39" width="10.23" height="3.66" fill="#00ffff"/>
<rect x="531.02" y="71.39" width="16.23" height="3.66" fill="#00a8ff"/>
<rect x="295.50" y="74.80" width="16.23" height="3.66" fill="#00ffff"/>
<rect x="311.48" y="74.80" width="20.21" height="3.66" fill="#00a8ff"/>
<rect x="331.44" y="74.80" width="10.23" height="3.66" fill="#00ffff"/>
<rect x="341.42" y="74.80" width="10.23" height="3.66" fill="#00a8ff"/>
<rect x="351.40" y="74.80" width="10.23" height="3.66" fill="#00ffff"/>
<rect x="361.38" y="74.80" width="10.23" height="3.66" fill="#00a8ff"/>
<rect x="371.35" y="74.80" width="10.23" height="3.66" fill="#00ffff"/>
<rect x="381.33" y="74.80" width="10.23" height="3.66" fill="#00a8ff"/>
<rect x="391.31" y="74.80" width="10.23" height="3.66" fill="#00ffff"/>
<rect x="401.29" y="74.80" width="10.23" height="3.66" fill="#00a8ff"/>
<rect x="411.27" y="74.80" width="10.23" height="3.66" fill="#00ffff"/>
<rect x="421.25" y="74.80" width="10.23" height="3.66" fill="#00a8ff"/>
<rect x="431.23" y="74.80" width="10.23" height="3.66" fill="#00ffff"/>
<rect x="441.21" y="74.80" width="10.23" height="3.66" fill="#00a8ff"/>
<rect x="451.19" y="74.80" width="10.23" height="3.66" fill="#00ffff"/>
<rect x="461.17" y="74.80" width="10.23" height="3.66" fill="#00a8ff"/>
<rect x="471.15" y="74.80" width="10.23" height="3.66" fill="#00ffff"/>
<rect x="481.12" y="74.80" width="20.21" height="3.66" fill="#00a8ff"/>
<rect x="501.08" y="74.80" width="10.23" height="3.66" fill="#00ffff"/>
<rect x="511.06" y="74.80" width="10.23" height="3.66" fill="#00a8ff"/>
<rect x="521.04" y="74.80" width="10.23" height="3.66" fill="#00ffff"/>
<rect x="531.02" y="74.80" width="16.23" height="3.66" fill="#00a8ff"/>
<rect x="295.50" y="78.21" width="16.23" height="3.66" fill="#00ffff"/>
<rect x="311.48" y="78.21" width="20.21" height="3.66" fill="#00a8ff"/>
<rect x="331.44" y="78.21" width="10.23" height="3.66" fill="#00ffff"/>
<rect x="341.42" y="78.21" width="10.23" height="3.66" fill="#00a8ff"/>
<rect x="351.40" y="78.21" width="10.23" height="3.66" fill="#00ffff"/>
<rect x="361.38" y="78.21" width="10.23" height="3.66" fill="#00a8ff"/>
<rect x="371.35" y="78.21" width="10.23" height="3.66" fill="#00ffff"/>
<rect x="381.33" y="78.21" width="10.23" height="3.66" fill="#00a8ff"/>
<rect x="391.31" y="78.21" width="10.23" height="3.66" fill="#00ffff"/>
<rect x="401.29" y="78.21" width="10.23" height="3.66" fill="#00a8ff"/>
<rect x="411.27" y="78.21" width="10.23" height="3.66" fill="#00ffff"/>
<rect x="421.25" y="78.21" width="10.23" height="3.66" fill="#00a8ff"/>
<rect x="431.23" y="78.21" width="10.23" height="3.66" fill="#00ffff"/>
<rect x="441.21" y="78.21" width="10.23" height="3.66" fill="#00a8ff"/>
<rect x="451.19" y="78.21" width="10.23" height="3.66" fill="#00ffff"/>
<rect x="461.17" y="78.21" width="10.23" height="3.66" fill="#00a8ff"/>
<rect x="471.15" y="78.21" width="10.23" height="3.66" fill="#00ffff"/>
<rect x="481.12" y="78.21" width="20.21" height="3.66" fill="#00a8ff"/>
<rect x="501.08" y="78.21" width="10.23" height="3.66" fill="#00ffff"/>
<rect x="511.06" y="78.21" width="10.23" height="3.66" fill="#00a8ff"/>
<rect x="521.04" y="78.21" width="10.23" height="3.66" fill="#00ffff"/>
<rect x="531.02" y="78.21" width="16.23" height="3.66" fill="#00a8ff"/>
<rect x="295.50" y="81.63" width="16.23" height="3.66" fill="#00ffff"/>
<rect x="311.48" y="81.63" width="20.21" height="3.66" fill="#00a8ff"/>
<rect x="331.44" y="81.63" width="10.23" height="3.66" fill="#00ffff"/>
<rect x="341.42" y="81.63" width="10.23" height="3.66" fill="#00a8ff"/>
<rect x="351.40" y="81.63" width="10.23" height="3.66" fill="#00ffff"/>
<rect x="361.38" y="81.63" width="10.23" height="3.66" fill="#00a8ff"/>
<rect x="371.35" y="81.63" width="10.23" height="3.66" fill="#00ffff"/>
<rect x="381.33" y="81.63" width="10.23" height="3.66" fill="#00a8ff"/>
<rect x="391.31" y="81.63" width="10.23" height="3.66" fill="#00ffff"/>
<rect x="401.29" y="81.63" width="10.23" height="3.66" fill="#00a8ff"/>
<rect x="411.27" y="81.63" width="10.23" height="3.66" fill="#00ffff"/>
<rect x="421.25" y="81.63" width="10.23" height="3.66" fill="#00a8ff"/>
<rect x="431.23" y="81.63" width="10.23" height="3.66" fill="#00ffff"/>
<rect x="441.21" y="81.63" width="10.23" height="3.66" fill="#00a8ff"/>
<rect x="451.19" y="81.63" width="10.23" height="3.66" fill="#00ffff"/>
<rect x="461.17" y="81.63" width="10.23" height="3.66" fill="#00a8ff"/>
<rect x="471.15" y="81.63" width="10.23" height="3.66" fill="#00ffff"/>
<rect x="481.12" y="81.63" width="20.21" height="3.66" fill="#00a8ff"/>
<rect x="501.08" y="81.63" width="10.23" height="3.66" fill="#00ffff"/>
<rect x="511.06" y="81.63" width="10.23" height="3.66" fill="#00a8ff"/>
<rect x="521.04" y="81.63" width="10.23" height="3.66" fill="#00ffff"/>
<rect x="531.02" y="81.63" width="16.23" height="3.66" fill="#00a8ff"/>
<rect x="295.50" y="85.04" width="16.23" height="3.66" fill="#00ffff"/>
<rect x="311.48" y="85.04" width="20.21" height="3.66" fill="#00a8ff"/>
<rect x="331.44" y="85.04" width="10.23" height="3.66" fill="#00ffff"/>
<rect x="341.42" y="85.04" width="10.23" height="3.66" fill="#00a8ff"/>
<rect x="351.40" y="85.04" width="10.23" height="3.66" fill="#00ffff"/>
<rect x="361.38" y="85.04" width="10.23" height="3.66" fill="#00a8ff"/>
<rect x="371.35" y="85.04" width="10.23" height="3.66" fill="#00ffff"/>
<rect x="381.33" y="85.04" width="10.23" height="3.66" fill="#00a8ff"/>
<rect x="391.31" y="85.04" width="10.23" height="3.66" fill="#00ffff"/>
<rect x="401.29" y="85.04" width="10.23" height="3.66" fill="#00a8ff"/>
<rect x="411.27" y="85.04" width="10.23" height="3.66" fill="#00ffff"/>
<rect x="421.25" y="85.04" width="10.23" height="3.66" fill="#00a8ff"/>
<rect x="431.23" y="85.04" width="10.23" height="3.66" fill="#00ffff"/>
<rect x="441.21" y="85.04" width="10.23" height="3.66" fill="#00a8ff"/>
<rect x="451.19" y="85.04" width="10.23" height="3.66" fill="#00ffff"/>
<rect x="461.17" y="85.04" width="10.23" height="3.66" fill="#00a8ff"/>
<rect x="471.15" y="85.04" width="10.23" height="3.66" fill="#00ffff"/>
<rect x="481.12" y="85.04" width="20.21" height="3.66" fill="#00a8ff"/>
<rect x="501.08" y="85.04" width="10.23" height="3.66" fill="#00ffff"/>
<rect x="511.06" y="85.04" width="10.23" height="3.66" fill="#00a8ff"/>
<rect x="521.04" y="85.04" width="10.23" height="3.66" fill="#00ffff"/>
<rect x="531.02" y="85.04" width="16.23" height="3.66" fill="#00a8ff"/>
<rect x="295.50" y="88.46" width="16.23" height="3.66" fill="#00ffff"/>
<rect x="311.48" y="88.46" width="20.21" height="3.66" fill="#00a8ff"/>
<rect x="331.44" y="88.46" width="10.23" height="3.66" fill="#00ffff"/>
<rect x="341.42" y="88.46" width="10.23" height="3.66" fill="#00a8ff"/>
<rect x="351.40" y="88.46" width="10.23" height="3.66" fill="#00ffff"/>
<rect x="361.38" y="88.46" width="10.23" height="3.66" fill="#00a8ff"/>
<rect x="371.35" y="88.46" width="10.23" height="3.66" fill="#00ffff"/>
<rect x="381.33" y="88.46" width="10.23" height="3.66" fill="#00a8ff"/>
<rect x="391.31" y="88.46" width="10.23" height="3.66" fill="#00ffff"/>
<rect x="401.29" y="88.46" width="10.23" height="3.66" fill="#00a8ff"/>
<rect x="411.27" y="88.46" width="10.23" height="3.66" fill="#00ffff"/>
<rect x="421.25" y="88.46" width="10.23" height="3.66" fill="#00a8ff"/>
<rect x="431.23" y="88.46" width="10.23" height="3.66" fill="#00ffff"/>
<rect x="441.21" y="88.46" width="10.23" height="3.66" fill="#00a8ff"/>
<rect x="451.19" y="88.46" width="10.23" height="3.66" fill="#00ffff"/>
<rect x="461.17" y="88.46" width="10.23" height="3.66" fill="#00a8ff"/>
<rect x="471.15" y="88.46" width="10.23" height="3.66" fill="#00ffff"/>
<rect x="481.12" y="88.46" width="20.21" height="3.66" fill="#00a8ff"/>
<rect x="501.08" y="88.46" width="10.23" height="3.66" fill="#00ffff"/>
<rect x="511.06" y="88.46" width="10.23" height="3.66" fill="#00a8ff"/>
<rect x="521.04" y="88.46" width="10.23" height="3.66" fill="#00ffff"/>
<rect x="531.02" y="88.46" width="16.23" height="3.66" fill="#00a8ff"/>
<rect x="295.50" y="91.87" width="16.23" height="3.66" fill="#00ffff"/>
<rect x="311.48" y="91.87" width="20.21" height="3.66" fill="#00a8ff"/>
<rect x="331.44" y="91.87" width="10.23" height="3.66" fill="#00ffff"/>
<rect x="341.42" y="91.87" width="10.23" height="3.66" fill="#00a8ff"/>
<rect x="351.40" y="91.87" width="10.23" height="3.66" fill="#00ffff"/>
<rect x="361.38" y="91.87" width="10.23" height="3.66" fill="#00a8ff"/>
<rect x="371.35" y="91.87" width="10.23" height="3.66" fill="#00ffff"/>
<rect x="381.33" y="91.87" width="10.23" height="3.66" fill="#00a8ff"/>
<rect x="391.31" y="91.87" width="10.23" height="3.66" fill="#00ffff"/>
<rect x="401.29" y="91.87" width="10.23" height="3.66" fill="#00a8ff"/>
<rect x="411.27" y="91.87" width="10.23" height="3.66" fill="#00ffff"/>
<rect x="421.25" y="91.87" width="10.23" height="3.66" fill="#00a8ff"/>
<rect x="431.23" y="91.87" width="10.23" height="3.66" fill="#00ffff"/>
<rect x="441.21" y="91.87" width="10.23" height="3.66" fill="#00a8ff"/>
<rect x="451.19" y="91.87" width="10.23" height="3.66" fill="#00ffff"/>
<rect x="461.17" y="91.87" width="10.23" height="3.66" fill="#00a8ff"/>
<rect x="471.15" y="91.87" width="10.23" height="3.66" fill="#00ffff"/>
<rect x="481.12" y="91.87" width="20.21" height="3.66" fill="#00a8ff"/>
<rect x="501.08" y="91.87" width="10.23" height="3.66" fill="#00ffff"/>
<rect x="511.06" y="91.87" width="10.23" height="3.66" fill="#00a8ff"/>
<rect x="521.04" y="91.87" width="10.23" height="3.66" fill="#00ffff"/>
<rect x="531.02" y="91.87" width="16.23" height="3.66" fill="#00a8ff"/>
<rect x="295.50" y="95.29" width="16.23" height="9.66" fill="#00ffff"/>
<rect x="311.48" y="95.29" width="20.21" height="9.66" fill="#00a8ff"/>
<rect x="331.44" y="95.29" width="10.23" height="9.66" fill="#00ffff"/>
<rect x="341.42" y="95.29" width="10.23" height="9.66" fill="#00a8ff"/>
<rect x="351.40" y="95.29" width="10.23" height="9.66" fill="#00ffff"/>
<rect x="361.38" y="95.29" width="10.23" height="9.66" fill="#00a8ff"/>
<rect x="371.35" y="95.29" width="10.23" height="9.66" fill="#00ffff"/>
<rect x="381.33" y="95.29" width="10.23" height="9.66" fill="#00a8ff"/>
<rect x="391.31" y="95.29" width="10.23" height="9.66" fill="#00ffff"/>
<rect x="401.29" y="95.29" width="10.23" height="9.66" fill="#00a8ff"/>
<rect x="411.27" y="95.29" width="10.23" height="9.66" fill="#00ffff"/>
<rect x="421.25" y="95.29" width="10.23" height="9.66" fill="#00a8ff"/>
<rect x="431.23" y="95.29" width="10.23" height="9.66" fill="#00ffff"/>
<rect x="441.21" y="95.29" width="10.23" height="9.66" fill="#00a8ff"/>
<rect x="451.19" y="95.29" width="10.23" height="9.66" fill="#00ffff"/>
<rect x="461.17" y="95.29" width="10.23" height="9.66" fill="#00a8ff"/>
<rect x="471.15" y="95.29" width="10.23" height="9.66" fill="#00ffff"/>
<rect x="481.12" y="95.29" width="20.21" height="9.66" fill="#00a8ff"/>
<rect x="501.08" y="95.29" width="10.23" height="9.66" fill="#00ffff"/>
<rect x="511.06" y="95.29" width="10.23" height="9.66" fill="#00a8ff"/>
<rect x="521.04" y="95.29" width="10.23" height="9.66" fill="#00ffff"/>
<rect x="531.02" y="95.29" width="16.23" height="9.66" fill="#00a8ff"/>
<ellipse cx="327.70" cy="59.20" rx="6.20" ry="2.66" fill="#0000e6"/>
<ellipse cx="349.50" cy="57.30" rx="6.20" ry="2.31" fill="#0000e6"/>
<ellipse cx="302.50" cy="62.70" rx="3.84" ry="2.90" fill="#0000e6"/>
<ellipse cx="317.30" cy="63.00" rx="4.19" ry="2.66" fill="#0000e6"/>
<ellipse cx="311.40" cy="70.10" rx="4.78" ry="2.54" fill="#0000e6"/>
<ellipse cx="344.00" cy="71.50" rx="3.60" ry="2.90" fill="#0000e6"/>
<ellipse cx="320.60" cy="76.00" rx="6.79" ry="3.25" fill="#0000e6"/>
<ellipse cx="351.70" cy="76.40" rx="10.92" ry="4.78" fill="#0000e6"/>
<ellipse cx="306.30" cy="82.90" rx="4.19" ry="4.78" fill="#0000e6"/>
<ellipse cx="321.00" cy="85.90" rx="2.66" ry="2.31" fill="#0000e6"/>
<ellipse cx="326.50" cy="81.40" rx="2.90" ry="2.90" fill="#0000e6"/>
<ellipse cx="335.00" cy="86.20" rx="4.19" ry="4.78" fill="#0000e6"/>
<ellipse cx="356.50" cy="85.60" rx="4.78" ry="5.49" fill="#0000e6"/>
<ellipse cx="304.30" cy="94.30" rx="3.84" ry="3.84" fill="#0000e6"/>
<ellipse cx="314.10" cy="93.60" rx="3.84" ry="3.84" fill="#0000e6"/>
<ellipse cx="324.90" cy="95.50" rx="3.84" ry="3.84" fill="#0000e6"/>
<ellipse cx="339.70" cy="91.40" rx="3.49" ry="3.49" fill="#0000e6"/>
<ellipse cx="351.90" cy="95.50" rx="3.84" ry="3.84" fill="#0000e6"/>
<ellipse cx="358.80" cy="96.20" rx="3.84" ry="3.84" fill="#0000e6"/>
<ellipse cx="377.30" cy="56.20" rx="6.79" ry="2.31" fill="#0000e6"/>
<ellipse cx="397.00" cy="56.20" rx="6.79" ry="2.31" fill="#0000e6"/>
<ellipse cx="369.20" cy="64.40" rx="4.78" ry="2.31" fill="#0000e6"/>
<ellipse cx="408.50" cy="65.50" rx="4.78" ry="2.31" fill="#0000e6"/>
<ellipse cx="388.80" cy="70.30" rx="9.74" ry="6.79" fill="#0000e6"/>
<ellipse cx="367.50" cy="78.00" rx="2.90" ry="2.90" fill="#0000e6"/>
<ellipse cx="389.00" cy="80.60" rx="3.49" ry="3.49" fill="#0000e6"/>
<ellipse cx="404.60" cy="81.50" rx="4.19" ry="4.19" fill="#0000e6"/>
<ellipse cx="363.00" cy="87.20" rx="2.90" ry="2.90" fill="#0000e6"/>
<ellipse cx="370.30" cy="89.40" rx="3.49" ry="3.49" fill="#0000e6"/>
<ellipse cx="379.40" cy="86.70" rx="4.19" ry="4.19" fill="#0000e6"/>
<ellipse cx="390.00" cy="89.40" rx="4.19" ry="4.19" fill="#0000e6"/>
<ellipse cx="399.00" cy="87.40" rx="4.19" ry="4.19" fill="#0000e6"/>
<ellipse cx="409.50" cy="91.40" rx="3.49" ry="3.49" fill="#0000e6"/>
<ellipse cx="418.00" cy="92.30" rx="3.49" ry="3.49" fill="#0000e6"/>
<ellipse cx="373.00" cy="95.50" rx="3.49" ry="3.49" fill="#0000e6"/>
<ellipse cx="386.00" cy="96.50" rx="4.19" ry="4.19" fill="#0000e6"/>
<ellipse cx="396.50" cy="96.50" rx="3.49" ry="3.49" fill="#0000e6"/>
<ellipse cx="451.00" cy="55.10" rx="16.23" ry="2.07" fill="#0000e6"/>
<ellipse cx="425.40" cy="60.50" rx="5.49" ry="1.60" fill="#0000e6"/>
<ellipse cx="460.30" cy="62.70" rx="7.97" ry="2.90" fill="#0000e6"/>
<ellipse cx="440.50" cy="64.90" rx="6.79" ry="2.90" fill="#0000e6"/>
<ellipse cx="475.00" cy="66.00" rx="7.38" ry="2.90" fill="#0000e6"/>
<ellipse cx="431.80" cy="70.40" rx="4.78" ry="2.19" fill="#0000e6"/>
<ellipse cx="443.30" cy="75.80" rx="9.74" ry="4.19" fill="#0000e6"/>
<ellipse cx="449.90" cy="69.30" rx="4.78" ry="2.90" fill="#0000e6"/>
<ellipse cx="471.00" cy="75.30" rx="7.97" ry="3.49" fill="#0000e6"/>
<ellipse cx="423.70" cy="87.60" rx="3.49" ry="4.78" fill="#0000e6"/>
<ellipse cx="437.00" cy="86.50" rx="2.19" ry="2.90" fill="#0000e6"/>
<ellipse cx="443.30" cy="87.00" rx="3.49" ry="4.78" fill="#0000e6"/>
<ellipse cx="454.00" cy="87.40" rx="4.78" ry="4.19" fill="#0000e6"/>
<ellipse cx="463.00" cy="87.40" rx="4.78" ry="4.19" fill="#0000e6"/>
<ellipse cx="426.00" cy="95.50" rx="3.49" ry="3.49" fill="#0000e6"/>
<ellipse cx="440.00" cy="94.00" rx="3.84" ry="3.84" fill="#0000e6"/>
<ellipse cx="452.00" cy="96.00" rx="3.84" ry="3.84" fill="#0000e6"/>
<ellipse cx="466.00" cy="95.00" rx="3.84" ry="3.84" fill="#0000e6"/>
<ellipse cx="476.00" cy="96.00" rx="3.49" ry="3.49" fill="#0000e6"/>
<ellipse cx="483.20" cy="59.50" rx="2.90" ry="2.90" fill="#0000e6"/>
<ellipse cx="531.70" cy="56.70" rx="11.51" ry="3.49" fill="#0000e6"/>
<ellipse cx="506.60" cy="66.00" rx="15.05" ry="4.19" fill="#0000e6"/>
<ellipse cx="484.00" cy="70.30" rx="4.19" ry="6.79" fill="#0000e6"/>
<ellipse cx="499.00" cy="74.60" rx="4.78" ry="2.90" fill="#0000e6"/>
<ellipse cx="514.70" cy="76.10" rx="3.49" ry="2.19" fill="#0000e6"/>
<ellipse cx="535.50" cy="74.50" rx="6.79" ry="5.49" fill="#0000e6"/>
<ellipse cx="499.50" cy="84.00" rx="16.82" ry="6.20" fill="#0000e6"/>
<ellipse cx="530.00" cy="90.70" rx="13.28" ry="10.09" fill="#0000e6"/>
<ellipse cx="498.00" cy="94.30" rx="3.25" ry="3.25" fill="#0000e6"/>
<ellipse cx="503.40" cy="93.60" rx="3.25" ry="3.25" fill="#0000e6"/>
<ellipse cx="509.70" cy="91.20" rx="2.66" ry="2.66" fill="#0000e6"/>
<ellipse cx="503.00" cy="57.70" rx="13.50" ry="2.70" fill="#fff000"/>
<ellipse cx="332.00" cy="68.00" rx="9.50" ry="5.30" fill="#ff9e00"/>
<ellipse cx="332.00" cy="67.50" rx="7.00" ry="4.00" fill="#ff1a00"/>
<ellipse cx="332.50" cy="68.00" rx="4.00" ry="2.50" fill="#9e0000"/>
<ellipse cx="367.00" cy="70.00" rx="10.50" ry="4.80" fill="#ff9e00"/>
<ellipse cx="376.00" cy="76.00" rx="4.00" ry="3.00" fill="#ff9e00"/>
<ellipse cx="368.00" cy="70.00" rx="7.50" ry="3.40" fill="#ff1a00"/>
<ellipse cx="369.00" cy="70.30" rx="4.50" ry="2.10" fill="#9e0000"/>
<ellipse cx="533.00" cy="66.50" rx="8.50" ry="2.80" fill="#ff9e00"/>
<ellipse cx="535.00" cy="66.50" rx="5.00" ry="1.80" fill="#ff1a00"/>
<ellipse cx="423.00" cy="68.00" rx="2.50" ry="3.50" fill="#fff000"/>
<ellipse cx="430.80" cy="86.20" rx="2.50" ry="5.00" fill="#ff9e00"/>
<ellipse cx="479.50" cy="85.00" rx="2.00" ry="4.00" fill="#fff000"/>
<ellipse cx="514.80" cy="92.30" rx="2.00" ry="6.70" fill="#fff000"/>
<ellipse cx="414.50" cy="87.30" rx="2.00" ry="2.80" fill="#fff000"/>
<ellipse cx="377.80" cy="78.00" rx="2.80" ry="2.20" fill="#fff000"/>
<ellipse cx="316.00" cy="84.00" rx="3.50" ry="2.70" fill="#fff000"/>
</g></g>
<text x="421.25" y="10.60" font-family="Liberation Sans, sans-serif" font-size="9" font-weight="bold" fill="#000" text-anchor="middle">(b) 2D Tempo-Spectral Representation</text>
<text transform="translate(298.10,86.40) scale(1,1.15)" font-family="Liberation Sans, sans-serif" font-size="8.0" fill="#262626" text-anchor="end">10</text>
<text transform="translate(298.10,69.01) scale(1,1.15)" font-family="Liberation Sans, sans-serif" font-size="8.0" fill="#262626" text-anchor="end">20</text>
<text transform="translate(298.10,51.63) scale(1,1.15)" font-family="Liberation Sans, sans-serif" font-size="8.0" fill="#262626" text-anchor="end">30</text>
<text transform="translate(298.10,34.24) scale(1,1.15)" font-family="Liberation Sans, sans-serif" font-size="8.0" fill="#262626" text-anchor="end">40</text>
<text transform="translate(298.10,16.85) scale(1,1.15)" font-family="Liberation Sans, sans-serif" font-size="8.0" fill="#262626" text-anchor="end">50</text>
<text transform="translate(283.70,50.30) rotate(-90)" x="0" y="0" font-family="Liberation Sans, sans-serif" font-size="9.0" fill="#262626" text-anchor="middle">Frequency (Hz)</text>
<rect x="29.5" y="115.4" width="239.0" height="84.60" fill="#000"/>
<rect x="55.0" y="115.4" width="10.90" height="84.60" fill="#fff"/>
<rect x="89.0" y="115.4" width="13.20" height="84.60" fill="#fff"/>
<rect x="133.9" y="115.4" width="17.90" height="84.60" fill="#fff"/>
<line x1="29.5" y1="199.70" x2="268.5" y2="199.70" stroke="#000" stroke-opacity="0.25" stroke-width="0.8"/>
<text x="149.00" y="112.50" font-family="Liberation Sans, sans-serif" font-size="9" font-weight="bold" fill="#000" text-anchor="middle">(c) Attention map by Temporal ConvSAT</text>
<text transform="translate(26.10,187.81) scale(1,1.15)" font-family="Liberation Sans, sans-serif" font-size="8.0" fill="#262626" text-anchor="end">10</text>
<text transform="translate(26.10,170.55) scale(1,1.15)" font-family="Liberation Sans, sans-serif" font-size="8.0" fill="#262626" text-anchor="end">20</text>
<text transform="translate(26.10,153.28) scale(1,1.15)" font-family="Liberation Sans, sans-serif" font-size="8.0" fill="#262626" text-anchor="end">30</text>
<text transform="translate(26.10,136.02) scale(1,1.15)" font-family="Liberation Sans, sans-serif" font-size="8.0" fill="#262626" text-anchor="end">40</text>
<text transform="translate(26.10,118.75) scale(1,1.15)" font-family="Liberation Sans, sans-serif" font-size="8.0" fill="#262626" text-anchor="end">50</text>
<text transform="translate(11.70,151.90) rotate(-90)" x="0" y="0" font-family="Liberation Sans, sans-serif" font-size="9.0" fill="#262626" text-anchor="middle">Frequency (Hz)</text>
<clipPath id="k7"><rect x="301.50" y="115.10" width="239.50" height="85.50"/></clipPath>
<filter id="k8" x="-10%" y="-10%" width="120%" height="120%" color-interpolation-filters="sRGB"><feGaussianBlur stdDeviation="2.5 1.2"/></filter>
<g clip-path="url(#k7)">
<g filter="url(#k8)">
<rect x="295.50" y="109.10" width="46.17" height="9.67" fill="#0000c5"/>
<rect x="341.42" y="109.10" width="10.23" height="9.67" fill="#0000ca"/>
<rect x="351.40" y="109.10" width="30.19" height="9.67" fill="#0000cc"/>
<rect x="381.33" y="109.10" width="10.23" height="9.67" fill="#0000d1"/>
<rect x="391.31" y="109.10" width="10.23" height="9.67" fill="#0000d2"/>
<rect x="401.29" y="109.10" width="20.21" height="9.67" fill="#0000d4"/>
<rect x="421.25" y="109.10" width="20.21" height="9.67" fill="#0000d2"/>
<rect x="441.21" y="109.10" width="30.19" height="9.67" fill="#0000d1"/>
<rect x="471.15" y="109.10" width="30.19" height="9.67" fill="#0000cc"/>
<rect x="501.08" y="109.10" width="20.21" height="9.67" fill="#0000ca"/>
<rect x="521.04" y="109.10" width="10.23" height="9.67" fill="#0000c7"/>
<rect x="531.02" y="109.10" width="16.23" height="9.67" fill="#0000c5"/>
<rect x="295.50" y="118.52" width="46.17" height="3.67" fill="#0000c0"/>
<rect x="341.42" y="118.52" width="40.17" height="3.67" fill="#0000c2"/>
<rect x="381.33" y="118.52" width="20.21" height="3.67" fill="#0000c5"/>
<rect x="401.29" y="118.52" width="80.08" height="3.67" fill="#0000ca"/>
<rect x="481.12" y="118.52" width="50.15" height="3.67" fill="#0000c5"/>
<rect x="531.02" y="118.52" width="16.23" height="3.67" fill="#0000c2"/>
<rect x="295.50" y="121.94" width="116.02" height="3.67" fill="#0000aa"/>
<rect x="411.27" y="121.94" width="10.23" height="3.67" fill="#0000ac"/>
<rect x="421.25" y="121.94" width="80.08" height="3.67" fill="#0000b2"/>
<rect x="501.08" y="121.94" width="46.17" height="3.67" fill="#0000b0"/>
<rect x="295.50" y="125.36" width="66.12" height="3.67" fill="#0000a0"/>
<rect x="361.38" y="125.36" width="50.15" height="3.67" fill="#0000a2"/>
<rect x="411.27" y="125.36" width="10.23" height="3.67" fill="#0000a7"/>
<rect x="421.25" y="125.36" width="30.19" height="3.67" fill="#0000a9"/>
<rect x="451.19" y="125.36" width="30.19" height="3.67" fill="#0000a7"/>
<rect x="481.12" y="125.36" width="10.23" height="3.67" fill="#0000a5"/>
<rect x="491.10" y="125.36" width="56.15" height="3.67" fill="#0000a2"/>
<rect x="295.50" y="128.78" width="26.21" height="3.67" fill="#0000a8"/>
<rect x="321.46" y="128.78" width="40.17" height="3.67" fill="#0000ad"/>
<rect x="361.38" y="128.78" width="20.21" height="3.67" fill="#0000a8"/>
<rect x="381.33" y="128.78" width="40.17" height="3.67" fill="#0000a6"/>
<rect x="421.25" y="128.78" width="30.19" height="3.67" fill="#0000a4"/>
<rect x="451.19" y="128.78" width="96.06" height="3.67" fill="#0000a1"/>
<rect x="295.50" y="132.20" width="36.19" height="3.67" fill="#0000b0"/>
<rect x="331.44" y="132.20" width="20.21" height="3.67" fill="#0000ae"/>
<rect x="351.40" y="132.20" width="10.23" height="3.67" fill="#0000ac"/>
<rect x="361.38" y="132.20" width="10.23" height="3.67" fill="#0000a7"/>
<rect x="371.35" y="132.20" width="10.23" height="3.67" fill="#0000a0"/>
<rect x="381.33" y="132.20" width="165.92" height="3.67" fill="#00009e"/>
<rect x="295.50" y="135.62" width="16.23" height="3.67" fill="#0000a4"/>
<rect x="311.48" y="135.62" width="10.23" height="3.67" fill="#0000a6"/>
<rect x="321.46" y="135.62" width="40.17" height="3.67" fill="#0000ab"/>
<rect x="361.38" y="135.62" width="20.21" height="3.67" fill="#0000a6"/>
<rect x="381.33" y="135.62" width="40.17" height="3.67" fill="#0000a4"/>
<rect x="421.25" y="135.62" width="70.10" height="3.67" fill="#0000a2"/>
<rect x="491.10" y="135.62" width="56.15" height="3.67" fill="#00009f"/>
<rect x="295.50" y="139.04" width="16.23" height="3.67" fill="#00009e"/>
<rect x="311.48" y="139.04" width="10.23" height="3.67" fill="#0000a5"/>
<rect x="321.46" y="139.04" width="30.19" height="3.67" fill="#0000aa"/>
<rect x="351.40" y="139.04" width="10.23" height="3.67" fill="#0000a5"/>
<rect x="361.38" y="139.04" width="20.21" height="3.67" fill="#00009e"/>
<rect x="381.33" y="139.04" width="40.17" height="3.67" fill="#0000a5"/>
<rect x="421.25" y="139.04" width="10.23" height="3.67" fill="#0000a1"/>
<rect x="431.23" y="139.04" width="10.23" height="3.67" fill="#00009e"/>
<rect x="441.21" y="139.04" width="106.04" height="3.67" fill="#0000a3"/>
<rect x="295.50" y="142.46" width="16.23" height="3.67" fill="#0000a6"/>
<rect x="311.48" y="142.46" width="10.23" height="3.67" fill="#0000ad"/>
<rect x="321.46" y="142.46" width="40.17" height="3.67" fill="#0000b2"/>
<rect x="361.38" y="142.46" width="20.21" height="3.67" fill="#0000ad"/>
<rect x="381.33" y="142.46" width="30.19" height="3.67" fill="#0000b2"/>
<rect x="411.27" y="142.46" width="10.23" height="3.67" fill="#0000ad"/>
<rect x="421.25" y="142.46" width="30.19" height="3.67" fill="#0000ab"/>
<rect x="451.19" y="142.46" width="10.23" height="3.67" fill="#0000a9"/>
<rect x="461.17" y="142.46" width="10.23" height="3.67" fill="#0000a6"/>
<rect x="471.15" y="142.46" width="10.23" height="3.67" fill="#0000a9"/>
<rect x="481.12" y="142.46" width="66.12" height="3.67" fill="#0000ab"/>
<rect x="295.50" y="145.88" width="36.19" height="3.67" fill="#0000b7"/>
<rect x="331.44" y="145.88" width="20.21" height="3.67" fill="#0000af"/>
<rect x="351.40" y="145.88" width="10.23" height="3.67" fill="#0000b1"/>
<rect x="361.38" y="145.88" width="20.21" height="3.67" fill="#0000af"/>
<rect x="381.33" y="145.88" width="10.23" height="3.67" fill="#0000b7"/>
<rect x="391.31" y="145.88" width="10.23" height="3.67" fill="#0000b4"/>
<rect x="401.29" y="145.88" width="10.23" height="3.67" fill="#0000af"/>
<rect x="411.27" y="145.88" width="10.23" height="3.67" fill="#0000b1"/>
<rect x="421.25" y="145.88" width="30.19" height="3.67" fill="#0000b4"/>
<rect x="451.19" y="145.88" width="20.21" height="3.67" fill="#0000af"/>
<rect x="471.15" y="145.88" width="10.23" height="3.67" fill="#0000b1"/>
<rect x="481.12" y="145.88" width="20.21" height="3.67" fill="#0000b4"/>
<rect x="501.08" y="145.88" width="10.23" height="3.67" fill="#0000af"/>
<rect x="511.06" y="145.88" width="10.23" height="3.67" fill="#0000b1"/>
<rect x="521.04" y="145.88" width="26.21" height="3.67" fill="#0000b4"/>
<rect x="295.50" y="149.30" width="16.23" height="3.67" fill="#0000bd"/>
<rect x="311.48" y="149.30" width="50.15" height="3.67" fill="#0000bf"/>
<rect x="361.38" y="149.30" width="20.21" height="3.67" fill="#0000c4"/>
<rect x="381.33" y="149.30" width="20.21" height="3.67" fill="#0000c6"/>
<rect x="401.29" y="149.30" width="10.23" height="3.67" fill="#0000c7"/>
<rect x="411.27" y="149.30" width="10.23" height="3.67" fill="#0000cb"/>
<rect x="421.25" y="149.30" width="10.23" height="3.67" fill="#0000c7"/>
<rect x="431.23" y="149.30" width="20.21" height="3.67" fill="#0000bf"/>
<rect x="451.19" y="149.30" width="96.06" height="3.67" fill="#0000bd"/>
<rect x="295.50" y="152.72" width="16.23" height="3.67" fill="#0000c7"/>
<rect x="311.48" y="152.72" width="10.23" height="3.67" fill="#0000cc"/>
<rect x="321.46" y="152.72" width="10.23" height="3.67" fill="#0000cd"/>
<rect x="331.44" y="152.72" width="50.15" height="3.67" fill="#0000cc"/>
<rect x="381.33" y="152.72" width="10.23" height="3.67" fill="#0000cd"/>
<rect x="391.31" y="152.72" width="10.23" height="3.67" fill="#0000cf"/>
<rect x="401.29" y="152.72" width="10.23" height="3.67" fill="#0000d2"/>
<rect x="411.27" y="152.72" width="10.23" height="3.67" fill="#0000d5"/>
<rect x="421.25" y="152.72" width="10.23" height="3.67" fill="#0000d2"/>
<rect x="431.23" y="152.72" width="10.23" height="3.67" fill="#0000c2"/>
<rect x="441.21" y="152.72" width="10.23" height="3.67" fill="#0000c0"/>
<rect x="451.19" y="152.72" width="20.21" height="3.67" fill="#0000c4"/>
<rect x="471.15" y="152.72" width="10.23" height="3.67" fill="#0000c0"/>
<rect x="481.12" y="152.72" width="10.23" height="3.67" fill="#0000c2"/>
<rect x="491.10" y="152.72" width="20.21" height="3.67" fill="#0000c7"/>
<rect x="511.06" y="152.72" width="10.23" height="3.67" fill="#0000c2"/>
<rect x="521.04" y="152.72" width="26.21" height="3.67" fill="#0000c0"/>
<rect x="295.50" y="156.14" width="16.23" height="3.67" fill="#0000d3"/>
<rect x="311.48" y="156.14" width="50.15" height="3.67" fill="#0000d5"/>
<rect x="361.38" y="156.14" width="40.17" height="3.67" fill="#0000d3"/>
<rect x="401.29" y="156.14" width="10.23" height="3.67" fill="#0000d7"/>
<rect x="411.27" y="156.14" width="20.21" height="3.67" fill="#0000da"/>
<rect x="431.23" y="156.14" width="60.12" height="3.67" fill="#0000ce"/>
<rect x="491.10" y="156.14" width="30.19" height="3.67" fill="#0000d5"/>
<rect x="521.04" y="156.14" width="26.21" height="3.67" fill="#0000ca"/>
<rect x="295.50" y="159.56" width="66.12" height="3.67" fill="#0000d6"/>
<rect x="361.38" y="159.56" width="50.15" height="3.67" fill="#0000db"/>
<rect x="411.27" y="159.56" width="70.10" height="3.67" fill="#0000d6"/>
<rect x="481.12" y="159.56" width="40.17" height="3.67" fill="#0000db"/>
<rect x="521.04" y="159.56" width="26.21" height="3.67" fill="#0000d4"/>
<rect x="295.50" y="162.98" width="251.75" height="3.67" fill="#0000d8"/>
<rect x="295.50" y="166.40" width="251.75" height="3.67" fill="#0000d9"/>
<rect x="295.50" y="169.82" width="16.23" height="3.67" fill="#0000d9"/>
<rect x="311.48" y="169.82" width="20.21" height="3.67" fill="#0000d7"/>
<rect x="331.44" y="169.82" width="10.23" height="3.67" fill="#0000d9"/>
<rect x="341.42" y="169.82" width="10.23" height="3.67" fill="#0000d7"/>
<rect x="351.40" y="169.82" width="10.23" height="3.67" fill="#0000d9"/>
<rect x="361.38" y="169.82" width="10.23" height="3.67" fill="#0000d7"/>
<rect x="371.35" y="169.82" width="10.23" height="3.67" fill="#0000d9"/>
<rect x="381.33" y="169.82" width="10.23" height="3.67" fill="#0000d7"/>
<rect x="391.31" y="169.82" width="10.23" height="3.67" fill="#0000d9"/>
<rect x="401.29" y="169.82" width="10.23" height="3.67" fill="#0000d7"/>
<rect x="411.27" y="169.82" width="10.23" height="3.67" fill="#0000d9"/>
<rect x="421.25" y="169.82" width="10.23" height="3.67" fill="#0000d7"/>
<rect x="431.23" y="169.82" width="10.23" height="3.67" fill="#0000d9"/>
<rect x="441.21" y="169.82" width="10.23" height="3.67" fill="#0000d7"/>
<rect x="451.19" y="169.82" width="10.23" height="3.67" fill="#0000d9"/>
<rect x="461.17" y="169.82" width="10.23" height="3.67" fill="#0000d7"/>
<rect x="471.15" y="169.82" width="10.23" height="3.67" fill="#0000d9"/>
<rect x="481.12" y="169.82" width="20.21" height="3.67" fill="#0000d7"/>
<rect x="501.08" y="169.82" width="10.23" height="3.67" fill="#0000d9"/>
<rect x="511.06" y="169.82" width="10.23" height="3.67" fill="#0000d7"/>
<rect x="521.04" y="169.82" width="10.23" height="3.67" fill="#0000d9"/>
<rect x="531.02" y="169.82" width="16.23" height="3.67" fill="#0000d7"/>
<rect x="295.50" y="173.24" width="16.23" height="3.67" fill="#0000da"/>
<rect x="311.48" y="173.24" width="20.21" height="3.67" fill="#0000d7"/>
<rect x="331.44" y="173.24" width="10.23" height="3.67" fill="#0000da"/>
<rect x="341.42" y="173.24" width="10.23" height="3.67" fill="#0000d7"/>
<rect x="351.40" y="173.24" width="10.23" height="3.67" fill="#0000da"/>
<rect x="361.38" y="173.24" width="10.23" height="3.67" fill="#0000d7"/>
<rect x="371.35" y="173.24" width="10.23" height="3.67" fill="#0000da"/>
<rect x="381.33" y="173.24" width="10.23" height="3.67" fill="#0000d7"/>
<rect x="391.31" y="173.24" width="10.23" height="3.67" fill="#0000da"/>
<rect x="401.29" y="173.24" width="10.23" height="3.67" fill="#0000d7"/>
<rect x="411.27" y="173.24" width="10.23" height="3.67" fill="#0000da"/>
<rect x="421.25" y="173.24" width="10.23" height="3.67" fill="#0000d7"/>
<rect x="431.23" y="173.24" width="10.23" height="3.67" fill="#0000da"/>
<rect x="441.21" y="173.24" width="10.23" height="3.67" fill="#0000d7"/>
<rect x="451.19" y="173.24" width="10.23" height="3.67" fill="#0000da"/>
<rect x="461.17" y="173.24" width="10.23" height="3.67" fill="#0000d7"/>
<rect x="471.15" y="173.24" width="10.23" height="3.67" fill="#0000da"/>
<rect x="481.12" y="173.24" width="20.21" height="3.67" fill="#0000d7"/>
<rect x="501.08" y="173.24" width="10.23" height="3.67" fill="#0000da"/>
<rect x="511.06" y="173.24" width="10.23" height="3.67" fill="#0000d7"/>
<rect x="521.04" y="173.24" width="10.23" height="3.67" fill="#0000da"/>
<rect x="531.02" y="173.24" width="16.23" height="3.67" fill="#0000d7"/>
<rect x="295.50" y="176.66" width="16.23" height="3.67" fill="#0000da"/>
<rect x="311.48" y="176.66" width="20.21" height="3.67" fill="#0000d8"/>
<rect x="331.44" y="176.66" width="10.23" height="3.67" fill="#0000da"/>
<rect x="341.42" y="176.66" width="10.23" height="3.67" fill="#0000d8"/>
<rect x="351.40" y="176.66" width="10.23" height="3.67" fill="#0000da"/>
<rect x="361.38" y="176.66" width="10.23" height="3.67" fill="#0000d8"/>
<rect x="371.35" y="176.66" width="10.23" height="3.67" fill="#0000da"/>
<rect x="381.33" y="176.66" width="10.23" height="3.67" fill="#0000d8"/>
<rect x="391.31" y="176.66" width="10.23" height="3.67" fill="#0000da"/>
<rect x="401.29" y="176.66" width="10.23" height="3.67" fill="#0000d8"/>
<rect x="411.27" y="176.66" width="10.23" height="3.67" fill="#0000da"/>
<rect x="421.25" y="176.66" width="10.23" height="3.67" fill="#0000d8"/>
<rect x="431.23" y="176.66" width="10.23" height="3.67" fill="#0000da"/>
<rect x="441.21" y="176.66" width="10.23" height="3.67" fill="#0000d8"/>
<rect x="451.19" y="176.66" width="10.23" height="3.67" fill="#0000da"/>
<rect x="461.17" y="176.66" width="10.23" height="3.67" fill="#0000d8"/>
<rect x="471.15" y="176.66" width="10.23" height="3.67" fill="#0000da"/>
<rect x="481.12" y="176.66" width="20.21" height="3.67" fill="#0000d8"/>
<rect x="501.08" y="176.66" width="10.23" height="3.67" fill="#0000da"/>
<rect x="511.06" y="176.66" width="10.23" height="3.67" fill="#0000d8"/>
<rect x="521.04" y="176.66" width="10.23" height="3.67" fill="#0000da"/>
<rect x="531.02" y="176.66" width="16.23" height="3.67" fill="#0000d8"/>
<rect x="295.50" y="180.08" width="16.23" height="3.67" fill="#0000da"/>
<rect x="311.48" y="180.08" width="20.21" height="3.67" fill="#0000d8"/>
<rect x="331.44" y="180.08" width="10.23" height="3.67" fill="#0000da"/>
<rect x="341.42" y="180.08" width="10.23" height="3.67" fill="#0000d8"/>
<rect x="351.40" y="180.08" width="10.23" height="3.67" fill="#0000da"/>
<rect x="361.38" y="180.08" width="10.23" height="3.67" fill="#0000d8"/>
<rect x="371.35" y="180.08" width="10.23" height="3.67" fill="#0000da"/>
<rect x="381.33" y="180.08" width="10.23" height="3.67" fill="#0000d8"/>
<rect x="391.31" y="180.08" width="10.23" height="3.67" fill="#0000da"/>
<rect x="401.29" y="180.08" width="10.23" height="3.67" fill="#0000d8"/>
<rect x="411.27" y="180.08" width="10.23" height="3.67" fill="#0000da"/>
<rect x="421.25" y="180.08" width="10.23" height="3.67" fill="#0000d8"/>
<rect x="431.23" y="180.08" width="10.23" height="3.67" fill="#0000da"/>
<rect x="441.21" y="180.08" width="10.23" height="3.67" fill="#0000d8"/>
<rect x="451.19" y="180.08" width="10.23" height="3.67" fill="#0000da"/>
<rect x="461.17" y="180.08" width="10.23" height="3.67" fill="#0000d8"/>
<rect x="471.15" y="180.08" width="10.23" height="3.67" fill="#0000da"/>
<rect x="481.12" y="180.08" width="20.21" height="3.67" fill="#0000d8"/>
<rect x="501.08" y="180.08" width="10.23" height="3.67" fill="#0000da"/>
<rect x="511.06" y="180.08" width="10.23" height="3.67" fill="#0000d8"/>
<rect x="521.04" y="180.08" width="10.23" height="3.67" fill="#0000da"/>
<rect x="531.02" y="180.08" width="16.23" height="3.67" fill="#0000d8"/>
<rect x="295.50" y="183.50" width="16.23" height="3.67" fill="#0000db"/>
<rect x="311.48" y="183.50" width="20.21" height="3.67" fill="#0000d9"/>
<rect x="331.44" y="183.50" width="10.23" height="3.67" fill="#0000db"/>
<rect x="341.42" y="183.50" width="10.23" height="3.67" fill="#0000d9"/>
<rect x="351.40" y="183.50" width="10.23" height="3.67" fill="#0000db"/>
<rect x="361.38" y="183.50" width="10.23" height="3.67" fill="#0000d9"/>
<rect x="371.35" y="183.50" width="10.23" height="3.67" fill="#0000db"/>
<rect x="381.33" y="183.50" width="10.23" height="3.67" fill="#0000d9"/>
<rect x="391.31" y="183.50" width="10.23" height="3.67" fill="#0000db"/>
<rect x="401.29" y="183.50" width="10.23" height="3.67" fill="#0000d9"/>
<rect x="411.27" y="183.50" width="10.23" height="3.67" fill="#0000db"/>
<rect x="421.25" y="183.50" width="10.23" height="3.67" fill="#0000d9"/>
<rect x="431.23" y="183.50" width="10.23" height="3.67" fill="#0000db"/>
<rect x="441.21" y="183.50" width="10.23" height="3.67" fill="#0000d9"/>
<rect x="451.19" y="183.50" width="10.23" height="3.67" fill="#0000db"/>
<rect x="461.17" y="183.50" width="10.23" height="3.67" fill="#0000d9"/>
<rect x="471.15" y="183.50" width="10.23" height="3.67" fill="#0000db"/>
<rect x="481.12" y="183.50" width="20.21" height="3.67" fill="#0000d9"/>
<rect x="501.08" y="183.50" width="10.23" height="3.67" fill="#0000db"/>
<rect x="511.06" y="183.50" width="10.23" height="3.67" fill="#0000d9"/>
<rect x="521.04" y="183.50" width="10.23" height="3.67" fill="#0000db"/>
<rect x="531.02" y="183.50" width="16.23" height="3.67" fill="#0000d9"/>
<rect x="295.50" y="186.92" width="16.23" height="3.67" fill="#0000db"/>
<rect x="311.48" y="186.92" width="20.21" height="3.67" fill="#0000d9"/>
<rect x="331.44" y="186.92" width="10.23" height="3.67" fill="#0000db"/>
<rect x="341.42" y="186.92" width="10.23" height="3.67" fill="#0000d9"/>
<rect x="351.40" y="186.92" width="10.23" height="3.67" fill="#0000db"/>
<rect x="361.38" y="186.92" width="10.23" height="3.67" fill="#0000d9"/>
<rect x="371.35" y="186.92" width="10.23" height="3.67" fill="#0000db"/>
<rect x="381.33" y="186.92" width="10.23" height="3.67" fill="#0000d9"/>
<rect x="391.31" y="186.92" width="10.23" height="3.67" fill="#0000db"/>
<rect x="401.29" y="186.92" width="10.23" height="3.67" fill="#0000d9"/>
<rect x="411.27" y="186.92" width="10.23" height="3.67" fill="#0000db"/>
<rect x="421.25" y="186.92" width="10.23" height="3.67" fill="#0000d9"/>
<rect x="431.23" y="186.92" width="10.23" height="3.67" fill="#0000db"/>
<rect x="441.21" y="186.92" width="10.23" height="3.67" fill="#0000d9"/>
<rect x="451.19" y="186.92" width="10.23" height="3.67" fill="#0000db"/>
<rect x="461.17" y="186.92" width="10.23" height="3.67" fill="#0000d9"/>
<rect x="471.15" y="186.92" width="10.23" height="3.67" fill="#0000db"/>
<rect x="481.12" y="186.92" width="20.21" height="3.67" fill="#0000d9"/>
<rect x="501.08" y="186.92" width="10.23" height="3.67" fill="#0000db"/>
<rect x="511.06" y="186.92" width="10.23" height="3.67" fill="#0000d9"/>
<rect x="521.04" y="186.92" width="10.23" height="3.67" fill="#0000db"/>
<rect x="531.02" y="186.92" width="16.23" height="3.67" fill="#0000d9"/>
<rect x="295.50" y="190.34" width="16.23" height="3.67" fill="#0000dc"/>
<rect x="311.48" y="190.34" width="20.21" height="3.67" fill="#0000da"/>
<rect x="331.44" y="190.34" width="10.23" height="3.67" fill="#0000dc"/>
<rect x="341.42" y="190.34" width="10.23" height="3.67" fill="#0000da"/>
<rect x="351.40" y="190.34" width="10.23" height="3.67" fill="#0000dc"/>
<rect x="361.38" y="190.34" width="10.23" height="3.67" fill="#0000da"/>
<rect x="371.35" y="190.34" width="10.23" height="3.67" fill="#0000dc"/>
<rect x="381.33" y="190.34" width="10.23" height="3.67" fill="#0000da"/>
<rect x="391.31" y="190.34" width="10.23" height="3.67" fill="#0000dc"/>
<rect x="401.29" y="190.34" width="10.23" height="3.67" fill="#0000da"/>
<rect x="411.27" y="190.34" width="10.23" height="3.67" fill="#0000dc"/>
<rect x="421.25" y="190.34" width="10.23" height="3.67" fill="#0000da"/>
<rect x="431.23" y="190.34" width="10.23" height="3.67" fill="#0000dc"/>
<rect x="441.21" y="190.34" width="10.23" height="3.67" fill="#0000da"/>
<rect x="451.19" y="190.34" width="10.23" height="3.67" fill="#0000dc"/>
<rect x="461.17" y="190.34" width="10.23" height="3.67" fill="#0000da"/>
<rect x="471.15" y="190.34" width="10.23" height="3.67" fill="#0000dc"/>
<rect x="481.12" y="190.34" width="20.21" height="3.67" fill="#0000da"/>
<rect x="501.08" y="190.34" width="10.23" height="3.67" fill="#0000dc"/>
<rect x="511.06" y="190.34" width="10.23" height="3.67" fill="#0000da"/>
<rect x="521.04" y="190.34" width="10.23" height="3.67" fill="#0000dc"/>
<rect x="531.02" y="190.34" width="16.23" height="3.67" fill="#0000da"/>
<rect x="295.50" y="193.76" width="16.23" height="3.67" fill="#0000dc"/>
<rect x="311.48" y="193.76" width="20.21" height="3.67" fill="#0000da"/>
<rect x="331.44" y="193.76" width="10.23" height="3.67" fill="#0000dc"/>
<rect x="341.42" y="193.76" width="10.23" height="3.67" fill="#0000da"/>
<rect x="351.40" y="193.76" width="10.23" height="3.67" fill="#0000dc"/>
<rect x="361.38" y="193.76" width="10.23" height="3.67" fill="#0000da"/>
<rect x="371.35" y="193.76" width="10.23" height="3.67" fill="#0000dc"/>
<rect x="381.33" y="193.76" width="10.23" height="3.67" fill="#0000da"/>
<rect x="391.31" y="193.76" width="10.23" height="3.67" fill="#0000dc"/>
<rect x="401.29" y="193.76" width="10.23" height="3.67" fill="#0000da"/>
<rect x="411.27" y="193.76" width="10.23" height="3.67" fill="#0000dc"/>
<rect x="421.25" y="193.76" width="10.23" height="3.67" fill="#0000da"/>
<rect x="431.23" y="193.76" width="10.23" height="3.67" fill="#0000dc"/>
<rect x="441.21" y="193.76" width="10.23" height="3.67" fill="#0000da"/>
<rect x="451.19" y="193.76" width="10.23" height="3.67" fill="#0000dc"/>
<rect x="461.17" y="193.76" width="10.23" height="3.67" fill="#0000da"/>
<rect x="471.15" y="193.76" width="10.23" height="3.67" fill="#0000dc"/>
<rect x="481.12" y="193.76" width="20.21" height="3.67" fill="#0000da"/>
<rect x="501.08" y="193.76" width="10.23" height="3.67" fill="#0000dc"/>
<rect x="511.06" y="193.76" width="10.23" height="3.67" fill="#0000da"/>
<rect x="521.04" y="193.76" width="10.23" height="3.67" fill="#0000dc"/>
<rect x="531.02" y="193.76" width="16.23" height="3.67" fill="#0000da"/>
<rect x="295.50" y="197.18" width="16.23" height="9.67" fill="#0000dd"/>
<rect x="311.48" y="197.18" width="20.21" height="9.67" fill="#0000db"/>
<rect x="331.44" y="197.18" width="10.23" height="9.67" fill="#0000dd"/>
<rect x="341.42" y="197.18" width="10.23" height="9.67" fill="#0000db"/>
<rect x="351.40" y="197.18" width="10.23" height="9.67" fill="#0000dd"/>
<rect x="361.38" y="197.18" width="10.23" height="9.67" fill="#0000db"/>
<rect x="371.35" y="197.18" width="10.23" height="9.67" fill="#0000dd"/>
<rect x="381.33" y="197.18" width="10.23" height="9.67" fill="#0000db"/>
<rect x="391.31" y="197.18" width="10.23" height="9.67" fill="#0000dd"/>
<rect x="401.29" y="197.18" width="10.23" height="9.67" fill="#0000db"/>
<rect x="411.27" y="197.18" width="10.23" height="9.67" fill="#0000dd"/>
<rect x="421.25" y="197.18" width="10.23" height="9.67" fill="#0000db"/>
<rect x="431.23" y="197.18" width="10.23" height="9.67" fill="#0000dd"/>
<rect x="441.21" y="197.18" width="10.23" height="9.67" fill="#0000db"/>
<rect x="451.19" y="197.18" width="10.23" height="9.67" fill="#0000dd"/>
<rect x="461.17" y="197.18" width="10.23" height="9.67" fill="#0000db"/>
<rect x="471.15" y="197.18" width="10.23" height="9.67" fill="#0000dd"/>
<rect x="481.12" y="197.18" width="20.21" height="9.67" fill="#0000db"/>
<rect x="501.08" y="197.18" width="10.23" height="9.67" fill="#0000dd"/>
<rect x="511.06" y="197.18" width="10.23" height="9.67" fill="#0000db"/>
<rect x="521.04" y="197.18" width="10.23" height="9.67" fill="#0000dd"/>
<rect x="531.02" y="197.18" width="16.23" height="9.67" fill="#0000db"/>
</g></g>
<clipPath id="k9"><rect x="326.80" y="115.10" width="11.00" height="85.50"/></clipPath>
<filter id="k10" x="-10%" y="-10%" width="120%" height="120%" color-interpolation-filters="sRGB"><feGaussianBlur stdDeviation="1.3 1.1"/></filter>
<g clip-path="url(#k9)">
<g filter="url(#k10)">
<rect x="320.80" y="109.10" width="11.75" height="7.10" fill="#00ffff"/>
<rect x="332.30" y="109.10" width="11.75" height="7.10" fill="#00a8ff"/>
<rect x="320.80" y="115.95" width="11.75" height="1.10" fill="#00ffff"/>
<rect x="332.30" y="115.95" width="11.75" height="1.10" fill="#00a8ff"/>
<rect x="320.80" y="116.79" width="11.75" height="1.10" fill="#00ffff"/>
<rect x="332.30" y="116.79" width="11.75" height="1.10" fill="#00a8ff"/>
<rect x="320.80" y="117.64" width="11.75" height="1.10" fill="#00ffff"/>
<rect x="332.30" y="117.64" width="11.75" height="1.10" fill="#00a8ff"/>
<rect x="320.80" y="118.49" width="11.75" height="1.10" fill="#00ffff"/>
<rect x="332.30" y="118.49" width="11.75" height="1.10" fill="#00a8ff"/>
<rect x="320.80" y="119.33" width="23.25" height="1.10" fill="#00a8ff"/>
<rect x="320.80" y="120.18" width="23.25" height="1.10" fill="#00a8ff"/>
<rect x="320.80" y="121.03" width="23.25" height="1.10" fill="#00a8ff"/>
<rect x="320.80" y="121.87" width="23.25" height="1.10" fill="#004dff"/>
<rect x="320.80" y="122.72" width="23.25" height="1.10" fill="#004dff"/>
<rect x="320.80" y="123.57" width="23.25" height="1.10" fill="#004dff"/>
<rect x="320.80" y="124.41" width="23.25" height="1.10" fill="#004dff"/>
<rect x="320.80" y="125.26" width="23.25" height="1.10" fill="#004dff"/>
<rect x="320.80" y="126.10" width="23.25" height="1.10" fill="#004dff"/>
<rect x="320.80" y="126.95" width="23.25" height="1.10" fill="#004dff"/>
<rect x="320.80" y="127.80" width="23.25" height="1.10" fill="#00ffff"/>
<rect x="320.80" y="128.64" width="23.25" height="1.10" fill="#00ffff"/>
<rect x="320.80" y="129.49" width="23.25" height="1.10" fill="#00ffff"/>
<rect x="320.80" y="130.34" width="23.25" height="1.10" fill="#00ffff"/>
<rect x="320.80" y="131.18" width="11.75" height="1.10" fill="#ff9e00"/>
<rect x="332.30" y="131.18" width="11.75" height="1.10" fill="#fff000"/>
<rect x="320.80" y="132.03" width="11.75" height="1.10" fill="#ff9e00"/>
<rect x="332.30" y="132.03" width="11.75" height="1.10" fill="#fff000"/>
<rect x="320.80" y="132.88" width="23.25" height="1.10" fill="#ff9e00"/>
<rect x="320.80" y="133.72" width="23.25" height="1.10" fill="#ff9e00"/>
<rect x="320.80" y="134.57" width="23.25" height="1.10" fill="#ff9e00"/>
<rect x="320.80" y="135.42" width="23.25" height="1.10" fill="#fff000"/>
<rect x="320.80" y="136.26" width="23.25" height="1.10" fill="#fff000"/>
<rect x="320.80" y="137.11" width="23.25" height="1.10" fill="#fff000"/>
<rect x="320.80" y="137.96" width="23.25" height="1.10" fill="#d1ff2e"/>
<rect x="320.80" y="138.80" width="23.25" height="1.10" fill="#d1ff2e"/>
<rect x="320.80" y="139.65" width="23.25" height="1.10" fill="#d1ff2e"/>
<rect x="320.80" y="140.50" width="23.25" height="1.10" fill="#d1ff2e"/>
<rect x="320.80" y="141.34" width="23.25" height="1.10" fill="#d1ff2e"/>
<rect x="320.80" y="142.19" width="23.25" height="1.10" fill="#d1ff2e"/>
<rect x="320.80" y="143.04" width="23.25" height="1.10" fill="#d1ff2e"/>
<rect x="320.80" y="143.88" width="23.25" height="1.10" fill="#d1ff2e"/>
<rect x="320.80" y="144.73" width="23.25" height="1.10" fill="#d1ff2e"/>
<rect x="320.80" y="145.58" width="23.25" height="1.10" fill="#d1ff2e"/>
<rect x="320.80" y="146.42" width="23.25" height="1.10" fill="#d1ff2e"/>
<rect x="320.80" y="147.27" width="23.25" height="1.10" fill="#00ffff"/>
<rect x="320.80" y="148.11" width="23.25" height="1.10" fill="#00ffff"/>
<rect x="320.80" y="148.96" width="23.25" height="1.10" fill="#004dff"/>
<rect x="320.80" y="149.81" width="23.25" height="1.10" fill="#004dff"/>
<rect x="320.80" y="150.65" width="23.25" height="1.10" fill="#00ffff"/>
<rect x="320.80" y="151.50" width="23.25" height="1.10" fill="#00ffff"/>
<rect x="320.80" y="152.35" width="23.25" height="1.10" fill="#00ffff"/>
<rect x="320.80" y="153.19" width="23.25" height="1.10" fill="#fff000"/>
<rect x="320.80" y="154.04" width="23.25" height="1.10" fill="#fff000"/>
<rect x="320.80" y="154.89" width="23.25" height="1.10" fill="#fff000"/>
<rect x="320.80" y="155.73" width="23.25" height="1.10" fill="#fff000"/>
<rect x="320.80" y="156.58" width="23.25" height="1.10" fill="#fff000"/>
<rect x="320.80" y="157.43" width="23.25" height="1.10" fill="#fff000"/>
<rect x="320.80" y="158.27" width="11.75" height="1.10" fill="#d1ff2e"/>
<rect x="332.30" y="158.27" width="11.75" height="1.10" fill="#00ffff"/>
<rect x="320.80" y="159.12" width="11.75" height="1.10" fill="#d1ff2e"/>
<rect x="332.30" y="159.12" width="11.75" height="1.10" fill="#00ffff"/>
<rect x="320.80" y="159.97" width="11.75" height="1.10" fill="#004dff"/>
<rect x="332.30" y="159.97" width="11.75" height="1.10" fill="#00ffff"/>
<rect x="320.80" y="160.81" width="11.75" height="1.10" fill="#004dff"/>
<rect x="332.30" y="160.81" width="11.75" height="1.10" fill="#00ffff"/>
<rect x="320.80" y="161.66" width="23.25" height="1.10" fill="#d1ff2e"/>
<rect x="320.80" y="162.51" width="23.25" height="1.10" fill="#d1ff2e"/>
<rect x="320.80" y="163.35" width="23.25" height="1.10" fill="#d1ff2e"/>
<rect x="320.80" y="164.20" width="23.25" height="1.10" fill="#d1ff2e"/>
<rect x="320.80" y="165.05" width="23.25" height="1.10" fill="#ff9e00"/>
<rect x="320.80" y="165.89" width="23.25" height="1.10" fill="#ff9e00"/>
<rect x="320.80" y="166.74" width="23.25" height="1.10" fill="#ff1a00"/>
<rect x="320.80" y="167.59" width="23.25" height="1.10" fill="#ff1a00"/>
<rect x="320.80" y="168.43" width="23.25" height="1.10" fill="#ff1a00"/>
<rect x="320.80" y="169.28" width="11.75" height="1.10" fill="#9e0000"/>
<rect x="332.30" y="169.28" width="11.75" height="1.10" fill="#ff1a00"/>
<rect x="320.80" y="170.12" width="11.75" height="1.10" fill="#9e0000"/>
<rect x="332.30" y="170.12" width="11.75" height="1.10" fill="#ff1a00"/>
<rect x="320.80" y="170.97" width="11.75" height="1.10" fill="#9e0000"/>
<rect x="332.30" y="170.97" width="11.75" height="1.10" fill="#ff1a00"/>
<rect x="320.80" y="171.82" width="11.75" height="1.10" fill="#9e0000"/>
<rect x="332.30" y="171.82" width="11.75" height="1.10" fill="#ff1a00"/>
<rect x="320.80" y="172.66" width="23.25" height="1.10" fill="#ff1a00"/>
<rect x="320.80" y="173.51" width="11.75" height="1.10" fill="#fff000"/>
<rect x="332.30" y="173.51" width="11.75" height="1.10" fill="#ff9e00"/>
<rect x="320.80" y="174.36" width="11.75" height="1.10" fill="#fff000"/>
<rect x="332.30" y="174.36" width="11.75" height="1.10" fill="#ff9e00"/>
<rect x="320.80" y="175.20" width="11.75" height="1.10" fill="#fff000"/>
<rect x="332.30" y="175.20" width="11.75" height="1.10" fill="#ff9e00"/>
<rect x="320.80" y="176.05" width="11.75" height="1.10" fill="#d1ff2e"/>
<rect x="332.30" y="176.05" width="11.75" height="1.10" fill="#00ffff"/>
<rect x="320.80" y="176.90" width="11.75" height="1.10" fill="#d1ff2e"/>
<rect x="332.30" y="176.90" width="11.75" height="1.10" fill="#00ffff"/>
<rect x="320.80" y="177.74" width="11.75" height="1.10" fill="#d1ff2e"/>
<rect x="332.30" y="177.74" width="11.75" height="1.10" fill="#00ffff"/>
<rect x="320.80" y="178.59" width="11.75" height="1.10" fill="#d1ff2e"/>
<rect x="332.30" y="178.59" width="11.75" height="1.10" fill="#00ffff"/>
<rect x="320.80" y="179.44" width="11.75" height="1.10" fill="#d1ff2e"/>
<rect x="332.30" y="179.44" width="11.75" height="1.10" fill="#00ffff"/>
<rect x="320.80" y="180.28" width="23.25" height="1.10" fill="#00ffff"/>
<rect x="320.80" y="181.13" width="23.25" height="1.10" fill="#00ffff"/>
<rect x="320.80" y="181.98" width="23.25" height="1.10" fill="#00ffff"/>
<rect x="320.80" y="182.82" width="23.25" height="1.10" fill="#00ffff"/>
<rect x="320.80" y="183.67" width="23.25" height="1.10" fill="#00ffff"/>
<rect x="320.80" y="184.52" width="11.75" height="1.10" fill="#d1ff2e"/>
<rect x="332.30" y="184.52" width="11.75" height="1.10" fill="#00ffff"/>
<rect x="320.80" y="185.36" width="11.75" height="1.10" fill="#d1ff2e"/>
<rect x="332.30" y="185.36" width="11.75" height="1.10" fill="#00ffff"/>
<rect x="320.80" y="186.21" width="11.75" height="1.10" fill="#d1ff2e"/>
<rect x="332.30" y="186.21" width="11.75" height="1.10" fill="#00ffff"/>
<rect x="320.80" y="187.06" width="11.75" height="1.10" fill="#d1ff2e"/>
<rect x="332.30" y="187.06" width="11.75" height="1.10" fill="#00ffff"/>
<rect x="320.80" y="187.90" width="23.25" height="1.10" fill="#00ffff"/>
<rect x="320.80" y="188.75" width="23.25" height="1.10" fill="#00ffff"/>
<rect x="320.80" y="189.60" width="23.25" height="1.10" fill="#00ffff"/>
<rect x="320.80" y="190.44" width="23.25" height="1.10" fill="#00ffff"/>
<rect x="320.80" y="191.29" width="23.25" height="1.10" fill="#00ffff"/>
<rect x="320.80" y="192.13" width="23.25" height="1.10" fill="#00ffff"/>
<rect x="320.80" y="192.98" width="23.25" height="1.10" fill="#00ffff"/>
<rect x="320.80" y="193.83" width="23.25" height="1.10" fill="#00ffff"/>
<rect x="320.80" y="194.67" width="23.25" height="1.10" fill="#00ffff"/>
<rect x="320.80" y="195.52" width="23.25" height="1.10" fill="#00ffff"/>
<rect x="320.80" y="196.37" width="23.25" height="1.10" fill="#00a8ff"/>
<rect x="320.80" y="197.21" width="23.25" height="1.10" fill="#00a8ff"/>
<rect x="320.80" y="198.06" width="23.25" height="1.10" fill="#00a8ff"/>
<rect x="320.80" y="198.91" width="23.25" height="1.10" fill="#00a8ff"/>
<rect x="320.80" y="199.75" width="23.25" height="7.10" fill="#00a8ff"/>
<ellipse cx="332.50" cy="182.30" rx="1.60" ry="1.30" fill="#0000e6"/>
<ellipse cx="335.80" cy="186.80" rx="1.50" ry="1.30" fill="#004dff"/>
<ellipse cx="329.50" cy="190.40" rx="1.50" ry="1.30" fill="#004dff"/>
<ellipse cx="329.00" cy="194.80" rx="2.00" ry="1.60" fill="#0000e6"/>
<ellipse cx="334.00" cy="198.50" rx="1.50" ry="1.30" fill="#004dff"/>
</g></g>
<clipPath id="k11"><rect x="360.90" y="115.10" width="13.10" height="85.50"/></clipPath>
<filter id="k12" x="-10%" y="-10%" width="120%" height="120%" color-interpolation-filters="sRGB"><feGaussianBlur stdDeviation="1.3 1.1"/></filter>
<g clip-path="url(#k11)">
<g filter="url(#k12)">
<rect x="354.90" y="109.10" width="25.35" height="7.10" fill="#fff000"/>
<rect x="354.90" y="115.95" width="25.35" height="1.10" fill="#fff000"/>
<rect x="354.90" y="116.79" width="25.35" height="1.10" fill="#fff000"/>
<rect x="354.90" y="117.64" width="25.35" height="1.10" fill="#fff000"/>
<rect x="354.90" y="118.49" width="25.35" height="1.10" fill="#00ffff"/>
<rect x="354.90" y="119.33" width="25.35" height="1.10" fill="#00a8ff"/>
<rect x="354.90" y="120.18" width="25.35" height="1.10" fill="#00a8ff"/>
<rect x="354.90" y="121.03" width="12.80" height="1.10" fill="#0000e6"/>
<rect x="367.45" y="121.03" width="12.80" height="1.10" fill="#004dff"/>
<rect x="354.90" y="121.87" width="12.80" height="1.10" fill="#0000e6"/>
<rect x="367.45" y="121.87" width="12.80" height="1.10" fill="#004dff"/>
<rect x="354.90" y="122.72" width="12.80" height="1.10" fill="#0000e6"/>
<rect x="367.45" y="122.72" width="12.80" height="1.10" fill="#004dff"/>
<rect x="354.90" y="123.57" width="12.80" height="1.10" fill="#0000e6"/>
<rect x="367.45" y="123.57" width="12.80" height="1.10" fill="#004dff"/>
<rect x="354.90" y="124.41" width="25.35" height="1.10" fill="#00a8ff"/>
<rect x="354.90" y="125.26" width="25.35" height="1.10" fill="#00a8ff"/>
<rect x="354.90" y="126.10" width="25.35" height="1.10" fill="#00a8ff"/>
<rect x="354.90" y="126.95" width="25.35" height="1.10" fill="#00a8ff"/>
<rect x="354.90" y="127.80" width="25.35" height="1.10" fill="#00ffff"/>
<rect x="354.90" y="128.64" width="25.35" height="1.10" fill="#00ffff"/>
<rect x="354.90" y="129.49" width="25.35" height="1.10" fill="#00ffff"/>
<rect x="354.90" y="130.34" width="25.35" height="1.10" fill="#00ffff"/>
<rect x="354.90" y="131.18" width="25.35" height="1.10" fill="#00ffff"/>
<rect x="354.90" y="132.03" width="25.35" height="1.10" fill="#00ffff"/>
<rect x="354.90" y="132.88" width="25.35" height="1.10" fill="#00ffff"/>
<rect x="354.90" y="133.72" width="12.80" height="1.10" fill="#00a8ff"/>
<rect x="367.45" y="133.72" width="12.80" height="1.10" fill="#004dff"/>
<rect x="354.90" y="134.57" width="12.80" height="1.10" fill="#00a8ff"/>
<rect x="367.45" y="134.57" width="12.80" height="1.10" fill="#004dff"/>
<rect x="354.90" y="135.42" width="12.80" height="1.10" fill="#00a8ff"/>
<rect x="367.45" y="135.42" width="12.80" height="1.10" fill="#004dff"/>
<rect x="354.90" y="136.26" width="12.80" height="1.10" fill="#00a8ff"/>
<rect x="367.45" y="136.26" width="12.80" height="1.10" fill="#004dff"/>
<rect x="354.90" y="137.11" width="25.35" height="1.10" fill="#00ffff"/>
<rect x="354.90" y="137.96" width="25.35" height="1.10" fill="#00ffff"/>
<rect x="354.90" y="138.80" width="25.35" height="1.10" fill="#00ffff"/>
<rect x="354.90" y="139.65" width="25.35" height="1.10" fill="#00ffff"/>
<rect x="354.90" y="140.50" width="25.35" height="1.10" fill="#0000e6"/>
<rect x="354.90" y="141.34" width="25.35" height="1.10" fill="#0000e6"/>
<rect x="354.90" y="142.19" width="25.35" height="1.10" fill="#00a8ff"/>
<rect x="354.90" y="143.04" width="25.35" height="1.10" fill="#00a8ff"/>
<rect x="354.90" y="143.88" width="12.80" height="1.10" fill="#d1ff2e"/>
<rect x="367.45" y="143.88" width="12.80" height="1.10" fill="#00ffff"/>
<rect x="354.90" y="144.73" width="12.80" height="1.10" fill="#d1ff2e"/>
<rect x="367.45" y="144.73" width="12.80" height="1.10" fill="#00ffff"/>
<rect x="354.90" y="145.58" width="12.80" height="1.10" fill="#d1ff2e"/>
<rect x="367.45" y="145.58" width="12.80" height="1.10" fill="#00ffff"/>
<rect x="354.90" y="146.42" width="12.80" height="1.10" fill="#d1ff2e"/>
<rect x="367.45" y="146.42" width="12.80" height="1.10" fill="#00ffff"/>
<rect x="354.90" y="147.27" width="12.80" height="1.10" fill="#d1ff2e"/>
<rect x="367.45" y="147.27" width="12.80" height="1.10" fill="#00ffff"/>
<rect x="354.90" y="148.11" width="12.80" height="1.10" fill="#d1ff2e"/>
<rect x="367.45" y="148.11" width="12.80" height="1.10" fill="#00ffff"/>
<rect x="354.90" y="148.96" width="12.80" height="1.10" fill="#000094"/>
<rect x="367.45" y="148.96" width="12.80" height="1.10" fill="#0000e6"/>
<rect x="354.90" y="149.81" width="12.80" height="1.10" fill="#000094"/>
<rect x="367.45" y="149.81" width="12.80" height="1.10" fill="#0000e6"/>
<rect x="354.90" y="150.65" width="12.80" height="1.10" fill="#000094"/>
<rect x="367.45" y="150.65" width="12.80" height="1.10" fill="#0000e6"/>
<rect x="354.90" y="151.50" width="12.80" height="1.10" fill="#000094"/>
<rect x="367.45" y="151.50" width="12.80" height="1.10" fill="#0000e6"/>
<rect x="354.90" y="152.35" width="25.35" height="1.10" fill="#00ffff"/>
<rect x="354.90" y="153.19" width="25.35" height="1.10" fill="#00ffff"/>
<rect x="354.90" y="154.04" width="25.35" height="1.10" fill="#d1ff2e"/>
<rect x="354.90" y="154.89" width="25.35" height="1.10" fill="#d1ff2e"/>
<rect x="354.90" y="155.73" width="25.35" height="1.10" fill="#d1ff2e"/>
<rect x="354.90" y="156.58" width="25.35" height="1.10" fill="#d1ff2e"/>
<rect x="354.90" y="157.43" width="25.35" height="1.10" fill="#d1ff2e"/>
<rect x="354.90" y="158.27" width="25.35" height="1.10" fill="#d1ff2e"/>
<rect x="354.90" y="159.12" width="25.35" height="1.10" fill="#d1ff2e"/>
<rect x="354.90" y="159.97" width="25.35" height="1.10" fill="#d1ff2e"/>
<rect x="354.90" y="160.81" width="12.80" height="1.10" fill="#d1ff2e"/>
<rect x="367.45" y="160.81" width="12.80" height="1.10" fill="#00ffff"/>
<rect x="354.90" y="161.66" width="12.80" height="1.10" fill="#d1ff2e"/>
<rect x="367.45" y="161.66" width="12.80" height="1.10" fill="#00ffff"/>
<rect x="354.90" y="162.51" width="12.80" height="1.10" fill="#d1ff2e"/>
<rect x="367.45" y="162.51" width="12.80" height="1.10" fill="#00ffff"/>
<rect x="354.90" y="163.35" width="12.80" height="1.10" fill="#d1ff2e"/>
<rect x="367.45" y="163.35" width="12.80" height="1.10" fill="#00ffff"/>
<rect x="354.90" y="164.20" width="12.80" height="1.10" fill="#d1ff2e"/>
<rect x="367.45" y="164.20" width="12.80" height="1.10" fill="#00ffff"/>
<rect x="354.90" y="165.05" width="12.80" height="1.10" fill="#d1ff2e"/>
<rect x="367.45" y="165.05" width="12.80" height="1.10" fill="#00ffff"/>
<rect x="354.90" y="165.89" width="12.80" height="1.10" fill="#d1ff2e"/>
<rect x="367.45" y="165.89" width="12.80" height="1.10" fill="#00ffff"/>
<rect x="354.90" y="166.74" width="25.35" height="1.10" fill="#ff9e00"/>
<rect x="354.90" y="167.59" width="25.35" height="1.10" fill="#ff9e00"/>
<rect x="354.90" y="168.43" width="25.35" height="1.10" fill="#ff9e00"/>
<rect x="354.90" y="169.28" width="25.35" height="1.10" fill="#ff1a00"/>
<rect x="354.90" y="170.12" width="25.35" height="1.10" fill="#ff1a00"/>
<rect x="354.90" y="170.97" width="25.35" height="1.10" fill="#ff1a00"/>
<rect x="354.90" y="171.82" width="12.80" height="1.10" fill="#ff1a00"/>
<rect x="367.45" y="171.82" width="12.80" height="1.10" fill="#9e0000"/>
<rect x="354.90" y="172.66" width="12.80" height="1.10" fill="#ff1a00"/>
<rect x="367.45" y="172.66" width="12.80" height="1.10" fill="#9e0000"/>
<rect x="354.90" y="173.51" width="12.80" height="1.10" fill="#ff1a00"/>
<rect x="367.45" y="173.51" width="12.80" height="1.10" fill="#9e0000"/>
<rect x="354.90" y="174.36" width="12.80" height="1.10" fill="#ff9e00"/>
<rect x="367.45" y="174.36" width="12.80" height="1.10" fill="#fff000"/>
<rect x="354.90" y="175.20" width="12.80" height="1.10" fill="#ff9e00"/>
<rect x="367.45" y="175.20" width="12.80" height="1.10" fill="#fff000"/>
<rect x="354.90" y="176.05" width="12.80" height="1.10" fill="#ff9e00"/>
<rect x="367.45" y="176.05" width="12.80" height="1.10" fill="#fff000"/>
<rect x="354.90" y="176.90" width="25.35" height="1.10" fill="#d1ff2e"/>
<rect x="354.90" y="177.74" width="25.35" height="1.10" fill="#d1ff2e"/>
<rect x="354.90" y="178.59" width="25.35" height="1.10" fill="#d1ff2e"/>
<rect x="354.90" y="179.44" width="25.35" height="1.10" fill="#d1ff2e"/>
<rect x="354.90" y="180.28" width="12.80" height="1.10" fill="#d1ff2e"/>
<rect x="367.45" y="180.28" width="12.80" height="1.10" fill="#00ffff"/>
<rect x="354.90" y="181.13" width="12.80" height="1.10" fill="#d1ff2e"/>
<rect x="367.45" y="181.13" width="12.80" height="1.10" fill="#00ffff"/>
<rect x="354.90" y="181.98" width="12.80" height="1.10" fill="#d1ff2e"/>
<rect x="367.45" y="181.98" width="12.80" height="1.10" fill="#00ffff"/>
<rect x="354.90" y="182.82" width="12.80" height="1.10" fill="#d1ff2e"/>
<rect x="367.45" y="182.82" width="12.80" height="1.10" fill="#00ffff"/>
<rect x="354.90" y="183.67" width="12.80" height="1.10" fill="#d1ff2e"/>
<rect x="367.45" y="183.67" width="12.80" height="1.10" fill="#00ffff"/>
<rect x="354.90" y="184.52" width="12.80" height="1.10" fill="#d1ff2e"/>
<rect x="367.45" y="184.52" width="12.80" height="1.10" fill="#00ffff"/>
<rect x="354.90" y="185.36" width="12.80" height="1.10" fill="#d1ff2e"/>
<rect x="367.45" y="185.36" width="12.80" height="1.10" fill="#00ffff"/>
<rect x="354.90" y="186.21" width="25.35" height="1.10" fill="#00ffff"/>
<rect x="354.90" y="187.06" width="25.35" height="1.10" fill="#00ffff"/>
<rect x="354.90" y="187.90" width="25.35" height="1.10" fill="#00ffff"/>
<rect x="354.90" y="188.75" width="25.35" height="1.10" fill="#00ffff"/>
<rect x="354.90" y="189.60" width="25.35" height="1.10" fill="#00ffff"/>
<rect x="354.90" y="190.44" width="25.35" height="1.10" fill="#00ffff"/>
<rect x="354.90" y="191.29" width="25.35" height="1.10" fill="#00ffff"/>
<rect x="354.90" y="192.13" width="25.35" height="1.10" fill="#00ffff"/>
<rect x="354.90" y="192.98" width="25.35" height="1.10" fill="#00ffff"/>
<rect x="354.90" y="193.83" width="25.35" height="1.10" fill="#00ffff"/>
<rect x="354.90" y="194.67" width="25.35" height="1.10" fill="#00ffff"/>
<rect x="354.90" y="195.52" width="25.35" height="1.10" fill="#00ffff"/>
<rect x="354.90" y="196.37" width="25.35" height="1.10" fill="#00ffff"/>
<rect x="354.90" y="197.21" width="25.35" height="1.10" fill="#00ffff"/>
<rect x="354.90" y="198.06" width="25.35" height="1.10" fill="#00ffff"/>
<rect x="354.90" y="198.91" width="25.35" height="1.10" fill="#00ffff"/>
<rect x="354.90" y="199.75" width="25.35" height="7.10" fill="#00ffff"/>
<ellipse cx="369.50" cy="165.30" rx="2.00" ry="1.30" fill="#0000e6"/>
<ellipse cx="367.50" cy="179.00" rx="1.60" ry="1.30" fill="#0000e6"/>
<ellipse cx="371.50" cy="184.70" rx="1.60" ry="1.60" fill="#0000e6"/>
<ellipse cx="362.50" cy="188.50" rx="1.60" ry="1.60" fill="#0000e6"/>
<ellipse cx="369.50" cy="191.80" rx="1.60" ry="1.60" fill="#0000e6"/>
<ellipse cx="366.50" cy="196.50" rx="1.60" ry="1.60" fill="#0000e6"/>
</g></g>
<clipPath id="k13"><rect x="406.50" y="115.10" width="17.60" height="85.50"/></clipPath>
<filter id="k14" x="-10%" y="-10%" width="120%" height="120%" color-interpolation-filters="sRGB"><feGaussianBlur stdDeviation="1.3 1.1"/></filter>
<g clip-path="url(#k13)">
<g filter="url(#k14)">
<rect x="400.50" y="109.10" width="12.12" height="7.10" fill="#fff000"/>
<rect x="412.37" y="109.10" width="6.12" height="7.10" fill="#ff9e00"/>
<rect x="418.23" y="109.10" width="12.12" height="7.10" fill="#fff000"/>
<rect x="400.50" y="115.95" width="12.12" height="1.10" fill="#fff000"/>
<rect x="412.37" y="115.95" width="6.12" height="1.10" fill="#ff9e00"/>
<rect x="418.23" y="115.95" width="12.12" height="1.10" fill="#fff000"/>
<rect x="400.50" y="116.79" width="12.12" height="1.10" fill="#fff000"/>
<rect x="412.37" y="116.79" width="6.12" height="1.10" fill="#ff9e00"/>
<rect x="418.23" y="116.79" width="12.12" height="1.10" fill="#fff000"/>
<rect x="400.50" y="117.64" width="12.12" height="1.10" fill="#fff000"/>
<rect x="412.37" y="117.64" width="6.12" height="1.10" fill="#ff9e00"/>
<rect x="418.23" y="117.64" width="12.12" height="1.10" fill="#fff000"/>
<rect x="400.50" y="118.49" width="12.12" height="1.10" fill="#d1ff2e"/>
<rect x="412.37" y="118.49" width="17.98" height="1.10" fill="#00ffff"/>
<rect x="400.50" y="119.33" width="12.12" height="1.10" fill="#d1ff2e"/>
<rect x="412.37" y="119.33" width="17.98" height="1.10" fill="#00ffff"/>
<rect x="400.50" y="120.18" width="12.12" height="1.10" fill="#d1ff2e"/>
<rect x="412.37" y="120.18" width="17.98" height="1.10" fill="#00ffff"/>
<rect x="400.50" y="121.03" width="12.12" height="1.10" fill="#d1ff2e"/>
<rect x="412.37" y="121.03" width="17.98" height="1.10" fill="#00ffff"/>
<rect x="400.50" y="121.87" width="12.12" height="1.10" fill="#004dff"/>
<rect x="412.37" y="121.87" width="17.98" height="1.10" fill="#00a8ff"/>
<rect x="400.50" y="122.72" width="12.12" height="1.10" fill="#004dff"/>
<rect x="412.37" y="122.72" width="17.98" height="1.10" fill="#00a8ff"/>
<rect x="400.50" y="123.57" width="12.12" height="1.10" fill="#004dff"/>
<rect x="412.37" y="123.57" width="17.98" height="1.10" fill="#00a8ff"/>
<rect x="400.50" y="124.41" width="29.85" height="1.10" fill="#00ffff"/>
<rect x="400.50" y="125.26" width="29.85" height="1.10" fill="#00ffff"/>
<rect x="400.50" y="126.10" width="29.85" height="1.10" fill="#00ffff"/>
<rect x="400.50" y="126.95" width="29.85" height="1.10" fill="#00ffff"/>
<rect x="400.50" y="127.80" width="12.12" height="1.10" fill="#00a8ff"/>
<rect x="412.37" y="127.80" width="17.98" height="1.10" fill="#00ffff"/>
<rect x="400.50" y="128.64" width="12.12" height="1.10" fill="#00a8ff"/>
<rect x="412.37" y="128.64" width="17.98" height="1.10" fill="#00ffff"/>
<rect x="400.50" y="129.49" width="12.12" height="1.10" fill="#00a8ff"/>
<rect x="412.37" y="129.49" width="17.98" height="1.10" fill="#00ffff"/>
<rect x="400.50" y="130.34" width="12.12" height="1.10" fill="#00a8ff"/>
<rect x="412.37" y="130.34" width="17.98" height="1.10" fill="#00ffff"/>
<rect x="400.50" y="131.18" width="17.98" height="1.10" fill="#0000e6"/>
<rect x="418.23" y="131.18" width="12.12" height="1.10" fill="#004dff"/>
<rect x="400.50" y="132.03" width="17.98" height="1.10" fill="#0000e6"/>
<rect x="418.23" y="132.03" width="12.12" height="1.10" fill="#004dff"/>
<rect x="400.50" y="132.88" width="17.98" height="1.10" fill="#0000e6"/>
<rect x="418.23" y="132.88" width="12.12" height="1.10" fill="#004dff"/>
<rect x="400.50" y="133.72" width="17.98" height="1.10" fill="#0000e6"/>
<rect x="418.23" y="133.72" width="12.12" height="1.10" fill="#004dff"/>
<rect x="400.50" y="134.57" width="12.12" height="1.10" fill="#004dff"/>
<rect x="412.37" y="134.57" width="17.98" height="1.10" fill="#00a8ff"/>
<rect x="400.50" y="135.42" width="12.12" height="1.10" fill="#004dff"/>
<rect x="412.37" y="135.42" width="17.98" height="1.10" fill="#00a8ff"/>
<rect x="400.50" y="136.26" width="12.12" height="1.10" fill="#004dff"/>
<rect x="412.37" y="136.26" width="17.98" height="1.10" fill="#00a8ff"/>
<rect x="400.50" y="137.11" width="12.12" height="1.10" fill="#004dff"/>
<rect x="412.37" y="137.11" width="17.98" height="1.10" fill="#00a8ff"/>
<rect x="400.50" y="137.96" width="12.12" height="1.10" fill="#004dff"/>
<rect x="412.37" y="137.96" width="17.98" height="1.10" fill="#00a8ff"/>
<rect x="400.50" y="138.80" width="12.12" height="1.10" fill="#004dff"/>
<rect x="412.37" y="138.80" width="17.98" height="1.10" fill="#00a8ff"/>
<rect x="400.50" y="139.65" width="29.85" height="1.10" fill="#00ffff"/>
<rect x="400.50" y="140.50" width="29.85" height="1.10" fill="#00ffff"/>
<rect x="400.50" y="141.34" width="29.85" height="1.10" fill="#00ffff"/>
<rect x="400.50" y="142.19" width="29.85" height="1.10" fill="#00ffff"/>
<rect x="400.50" y="143.04" width="29.85" height="1.10" fill="#00ffff"/>
<rect x="400.50" y="143.88" width="12.12" height="1.10" fill="#00ffff"/>
<rect x="412.37" y="143.88" width="17.98" height="1.10" fill="#d1ff2e"/>
<rect x="400.50" y="144.73" width="12.12" height="1.10" fill="#00ffff"/>
<rect x="412.37" y="144.73" width="17.98" height="1.10" fill="#d1ff2e"/>
<rect x="400.50" y="145.58" width="12.12" height="1.10" fill="#00ffff"/>
<rect x="412.37" y="145.58" width="17.98" height="1.10" fill="#d1ff2e"/>
<rect x="400.50" y="146.42" width="12.12" height="1.10" fill="#00ffff"/>
<rect x="412.37" y="146.42" width="17.98" height="1.10" fill="#d1ff2e"/>
<rect x="400.50" y="147.27" width="12.12" height="1.10" fill="#0000e6"/>
<rect x="412.37" y="147.27" width="17.98" height="1.10" fill="#00ffff"/>
<rect x="400.50" y="148.11" width="12.12" height="1.10" fill="#0000e6"/>
<rect x="412.37" y="148.11" width="17.98" height="1.10" fill="#00ffff"/>
<rect x="400.50" y="148.96" width="29.85" height="1.10" fill="#fff000"/>
<rect x="400.50" y="149.81" width="29.85" height="1.10" fill="#fff000"/>
<rect x="400.50" y="150.65" width="29.85" height="1.10" fill="#ff1a00"/>
<rect x="400.50" y="151.50" width="29.85" height="1.10" fill="#ff1a00"/>
<rect x="400.50" y="152.35" width="12.12" height="1.10" fill="#ff1a00"/>
<rect x="412.37" y="152.35" width="6.12" height="1.10" fill="#9e0000"/>
<rect x="418.23" y="152.35" width="12.12" height="1.10" fill="#ff1a00"/>
<rect x="400.50" y="153.19" width="12.12" height="1.10" fill="#ff1a00"/>
<rect x="412.37" y="153.19" width="6.12" height="1.10" fill="#9e0000"/>
<rect x="418.23" y="153.19" width="12.12" height="1.10" fill="#ff1a00"/>
<rect x="400.50" y="154.04" width="12.12" height="1.10" fill="#ff1a00"/>
<rect x="412.37" y="154.04" width="6.12" height="1.10" fill="#9e0000"/>
<rect x="418.23" y="154.04" width="12.12" height="1.10" fill="#ff1a00"/>
<rect x="400.50" y="154.89" width="12.12" height="1.10" fill="#ff1a00"/>
<rect x="412.37" y="154.89" width="6.12" height="1.10" fill="#9e0000"/>
<rect x="418.23" y="154.89" width="12.12" height="1.10" fill="#ff1a00"/>
<rect x="400.50" y="155.73" width="12.12" height="1.10" fill="#ff1a00"/>
<rect x="412.37" y="155.73" width="6.12" height="1.10" fill="#9e0000"/>
<rect x="418.23" y="155.73" width="12.12" height="1.10" fill="#ff1a00"/>
<rect x="400.50" y="156.58" width="29.85" height="1.10" fill="#ff1a00"/>
<rect x="400.50" y="157.43" width="29.85" height="1.10" fill="#ff1a00"/>
<rect x="400.50" y="158.27" width="29.85" height="1.10" fill="#ff1a00"/>
<rect x="400.50" y="159.12" width="17.98" height="1.10" fill="#fff000"/>
<rect x="418.23" y="159.12" width="12.12" height="1.10" fill="#d1ff2e"/>
<rect x="400.50" y="159.97" width="17.98" height="1.10" fill="#fff000"/>
<rect x="418.23" y="159.97" width="12.12" height="1.10" fill="#d1ff2e"/>
<rect x="400.50" y="160.81" width="17.98" height="1.10" fill="#fff000"/>
<rect x="418.23" y="160.81" width="12.12" height="1.10" fill="#d1ff2e"/>
<rect x="400.50" y="161.66" width="29.85" height="1.10" fill="#d1ff2e"/>
<rect x="400.50" y="162.51" width="29.85" height="1.10" fill="#d1ff2e"/>
<rect x="400.50" y="163.35" width="29.85" height="1.10" fill="#d1ff2e"/>
<rect x="400.50" y="164.20" width="29.85" height="1.10" fill="#d1ff2e"/>
<rect x="400.50" y="165.05" width="29.85" height="1.10" fill="#d1ff2e"/>
<rect x="400.50" y="165.89" width="12.12" height="1.10" fill="#0000e6"/>
<rect x="412.37" y="165.89" width="6.12" height="1.10" fill="#d1ff2e"/>
<rect x="418.23" y="165.89" width="12.12" height="1.10" fill="#00ffff"/>
<rect x="400.50" y="166.74" width="12.12" height="1.10" fill="#0000e6"/>
<rect x="412.37" y="166.74" width="6.12" height="1.10" fill="#d1ff2e"/>
<rect x="418.23" y="166.74" width="12.12" height="1.10" fill="#00ffff"/>
<rect x="400.50" y="167.59" width="12.12" height="1.10" fill="#0000e6"/>
<rect x="412.37" y="167.59" width="6.12" height="1.10" fill="#d1ff2e"/>
<rect x="418.23" y="167.59" width="12.12" height="1.10" fill="#00ffff"/>
<rect x="400.50" y="168.43" width="12.12" height="1.10" fill="#0000e6"/>
<rect x="412.37" y="168.43" width="6.12" height="1.10" fill="#d1ff2e"/>
<rect x="418.23" y="168.43" width="12.12" height="1.10" fill="#00ffff"/>
<rect x="400.50" y="169.28" width="12.12" height="1.10" fill="#fff000"/>
<rect x="412.37" y="169.28" width="17.98" height="1.10" fill="#ff1a00"/>
<rect x="400.50" y="170.12" width="12.12" height="1.10" fill="#fff000"/>
<rect x="412.37" y="170.12" width="17.98" height="1.10" fill="#ff1a00"/>
<rect x="400.50" y="170.97" width="12.12" height="1.10" fill="#fff000"/>
<rect x="412.37" y="170.97" width="17.98" height="1.10" fill="#ff1a00"/>
<rect x="400.50" y="171.82" width="12.12" height="1.10" fill="#d1ff2e"/>
<rect x="412.37" y="171.82" width="6.12" height="1.10" fill="#ff9e00"/>
<rect x="418.23" y="171.82" width="12.12" height="1.10" fill="#ff1a00"/>
<rect x="400.50" y="172.66" width="12.12" height="1.10" fill="#d1ff2e"/>
<rect x="412.37" y="172.66" width="6.12" height="1.10" fill="#ff9e00"/>
<rect x="418.23" y="172.66" width="12.12" height="1.10" fill="#ff1a00"/>
<rect x="400.50" y="173.51" width="12.12" height="1.10" fill="#d1ff2e"/>
<rect x="412.37" y="173.51" width="6.12" height="1.10" fill="#ff9e00"/>
<rect x="418.23" y="173.51" width="12.12" height="1.10" fill="#ff1a00"/>
<rect x="400.50" y="174.36" width="12.12" height="1.10" fill="#d1ff2e"/>
<rect x="412.37" y="174.36" width="6.12" height="1.10" fill="#ff9e00"/>
<rect x="418.23" y="174.36" width="12.12" height="1.10" fill="#ff1a00"/>
<rect x="400.50" y="175.20" width="17.98" height="1.10" fill="#d1ff2e"/>
<rect x="418.23" y="175.20" width="12.12" height="1.10" fill="#00ffff"/>
<rect x="400.50" y="176.05" width="17.98" height="1.10" fill="#d1ff2e"/>
<rect x="418.23" y="176.05" width="12.12" height="1.10" fill="#00ffff"/>
<rect x="400.50" y="176.90" width="17.98" height="1.10" fill="#d1ff2e"/>
<rect x="418.23" y="176.90" width="12.12" height="1.10" fill="#00ffff"/>
<rect x="400.50" y="177.74" width="17.98" height="1.10" fill="#d1ff2e"/>
<rect x="418.23" y="177.74" width="12.12" height="1.10" fill="#00ffff"/>
<rect x="400.50" y="178.59" width="17.98" height="1.10" fill="#00ffff"/>
<rect x="418.23" y="178.59" width="12.12" height="1.10" fill="#0000e6"/>
<rect x="400.50" y="179.44" width="17.98" height="1.10" fill="#00ffff"/>
<rect x="418.23" y="179.44" width="12.12" height="1.10" fill="#0000e6"/>
<rect x="400.50" y="180.28" width="17.98" height="1.10" fill="#00ffff"/>
<rect x="418.23" y="180.28" width="12.12" height="1.10" fill="#0000e6"/>
<rect x="400.50" y="181.13" width="17.98" height="1.10" fill="#00ffff"/>
<rect x="418.23" y="181.13" width="12.12" height="1.10" fill="#0000e6"/>
<rect x="400.50" y="181.98" width="17.98" height="1.10" fill="#00ffff"/>
<rect x="418.23" y="181.98" width="12.12" height="1.10" fill="#0000e6"/>
<rect x="400.50" y="182.82" width="17.98" height="1.10" fill="#00ffff"/>
<rect x="418.23" y="182.82" width="12.12" height="1.10" fill="#0000e6"/>
<rect x="400.50" y="183.67" width="17.98" height="1.10" fill="#00ffff"/>
<rect x="418.23" y="183.67" width="12.12" height="1.10" fill="#0000e6"/>
<rect x="400.50" y="184.52" width="12.12" height="1.10" fill="#00ffff"/>
<rect x="412.37" y="184.52" width="6.12" height="1.10" fill="#fff000"/>
<rect x="418.23" y="184.52" width="12.12" height="1.10" fill="#00ffff"/>
<rect x="400.50" y="185.36" width="12.12" height="1.10" fill="#00ffff"/>
<rect x="412.37" y="185.36" width="6.12" height="1.10" fill="#fff000"/>
<rect x="418.23" y="185.36" width="12.12" height="1.10" fill="#00ffff"/>
<rect x="400.50" y="186.21" width="12.12" height="1.10" fill="#00ffff"/>
<rect x="412.37" y="186.21" width="6.12" height="1.10" fill="#fff000"/>
<rect x="418.23" y="186.21" width="12.12" height="1.10" fill="#00ffff"/>
<rect x="400.50" y="187.06" width="12.12" height="1.10" fill="#00ffff"/>
<rect x="412.37" y="187.06" width="6.12" height="1.10" fill="#fff000"/>
<rect x="418.23" y="187.06" width="12.12" height="1.10" fill="#00ffff"/>
<rect x="400.50" y="187.90" width="12.12" height="1.10" fill="#00ffff"/>
<rect x="412.37" y="187.90" width="6.12" height="1.10" fill="#fff000"/>
<rect x="418.23" y="187.90" width="12.12" height="1.10" fill="#00ffff"/>
<rect x="400.50" y="188.75" width="12.12" height="1.10" fill="#00ffff"/>
<rect x="412.37" y="188.75" width="6.12" height="1.10" fill="#fff000"/>
<rect x="418.23" y="188.75" width="12.12" height="1.10" fill="#00ffff"/>
<rect x="400.50" y="189.60" width="12.12" height="1.10" fill="#00ffff"/>
<rect x="412.37" y="189.60" width="6.12" height="1.10" fill="#fff000"/>
<rect x="418.23" y="189.60" width="12.12" height="1.10" fill="#00ffff"/>
<rect x="400.50" y="190.44" width="12.12" height="1.10" fill="#00ffff"/>
<rect x="412.37" y="190.44" width="6.12" height="1.10" fill="#fff000"/>
<rect x="418.23" y="190.44" width="12.12" height="1.10" fill="#00ffff"/>
<rect x="400.50" y="191.29" width="17.98" height="1.10" fill="#00ffff"/>
<rect x="418.23" y="191.29" width="12.12" height="1.10" fill="#00a8ff"/>
<rect x="400.50" y="192.13" width="17.98" height="1.10" fill="#00ffff"/>
<rect x="418.23" y="192.13" width="12.12" height="1.10" fill="#00a8ff"/>
<rect x="400.50" y="192.98" width="17.98" height="1.10" fill="#00ffff"/>
<rect x="418.23" y="192.98" width="12.12" height="1.10" fill="#00a8ff"/>
<rect x="400.50" y="193.83" width="17.98" height="1.10" fill="#00ffff"/>
<rect x="418.23" y="193.83" width="12.12" height="1.10" fill="#00a8ff"/>
<rect x="400.50" y="194.67" width="17.98" height="1.10" fill="#00ffff"/>
<rect x="418.23" y="194.67" width="12.12" height="1.10" fill="#00a8ff"/>
<rect x="400.50" y="195.52" width="17.98" height="1.10" fill="#00ffff"/>
<rect x="418.23" y="195.52" width="12.12" height="1.10" fill="#00a8ff"/>
<rect x="400.50" y="196.37" width="17.98" height="1.10" fill="#00ffff"/>
<rect x="418.23" y="196.37" width="12.12" height="1.10" fill="#00a8ff"/>
<rect x="400.50" y="197.21" width="17.98" height="1.10" fill="#00ffff"/>
<rect x="418.23" y="197.21" width="12.12" height="1.10" fill="#00a8ff"/>
<rect x="400.50" y="198.06" width="17.98" height="1.10" fill="#00ffff"/>
<rect x="418.23" y="198.06" width="12.12" height="1.10" fill="#00a8ff"/>
<rect x="400.50" y="198.91" width="17.98" height="1.10" fill="#00ffff"/>
<rect x="418.23" y="198.91" width="12.12" height="1.10" fill="#00a8ff"/>
<rect x="400.50" y="199.75" width="17.98" height="7.10" fill="#00ffff"/>
<rect x="418.23" y="199.75" width="12.12" height="7.10" fill="#00a8ff"/>
<ellipse cx="423.00" cy="162.00" rx="2.00" ry="1.20" fill="#0000e6"/>
<ellipse cx="421.00" cy="181.00" rx="3.00" ry="3.00" fill="#0000e6"/>
<ellipse cx="409.50" cy="191.00" rx="1.60" ry="1.60" fill="#0000e6"/>
<ellipse cx="420.00" cy="193.50" rx="2.50" ry="2.50" fill="#0000e6"/>
<ellipse cx="409.50" cy="198.00" rx="1.60" ry="1.60" fill="#0000e6"/>
</g></g>
<text x="421.25" y="112.20" font-family="Liberation Sans, sans-serif" font-size="9" font-weight="bold" fill="#000" text-anchor="middle">(d) T-CAB output</text>
<text transform="translate(298.10,188.25) scale(1,1.15)" font-family="Liberation Sans, sans-serif" font-size="8.0" fill="#262626" text-anchor="end">10</text>
<text transform="translate(298.10,170.80) scale(1,1.15)" font-family="Liberation Sans, sans-serif" font-size="8.0" fill="#262626" text-anchor="end">20</text>
<text transform="translate(298.10,153.35) scale(1,1.15)" font-family="Liberation Sans, sans-serif" font-size="8.0" fill="#262626" text-anchor="end">30</text>
<text transform="translate(298.10,135.90) scale(1,1.15)" font-family="Liberation Sans, sans-serif" font-size="8.0" fill="#262626" text-anchor="end">40</text>
<text transform="translate(298.10,118.45) scale(1,1.15)" font-family="Liberation Sans, sans-serif" font-size="8.0" fill="#262626" text-anchor="end">50</text>
<text transform="translate(283.70,152.05) rotate(-90)" x="0" y="0" font-family="Liberation Sans, sans-serif" font-size="9.0" fill="#262626" text-anchor="middle">Frequency (Hz)</text>
<rect x="29.5" y="218.2" width="239.0" height="83.80" fill="#000"/>
<rect x="29.5" y="254.8" width="239.0" height="7.60" fill="#fff"/>
<rect x="29.5" y="269.1" width="239.0" height="10.50" fill="#fff"/>
<rect x="29.5" y="290.1" width="239.0" height="3.60" fill="#fff"/>
<text x="149.00" y="215.30" font-family="Liberation Sans, sans-serif" font-size="9" font-weight="bold" fill="#000" text-anchor="middle">(e) Attention map by Spectral ConvSAT</text>
<text transform="translate(26.10,289.96) scale(1,1.15)" font-family="Liberation Sans, sans-serif" font-size="8.0" fill="#262626" text-anchor="end">10</text>
<text transform="translate(26.10,272.86) scale(1,1.15)" font-family="Liberation Sans, sans-serif" font-size="8.0" fill="#262626" text-anchor="end">20</text>
<text transform="translate(26.10,255.75) scale(1,1.15)" font-family="Liberation Sans, sans-serif" font-size="8.0" fill="#262626" text-anchor="end">30</text>
<text transform="translate(26.10,238.65) scale(1,1.15)" font-family="Liberation Sans, sans-serif" font-size="8.0" fill="#262626" text-anchor="end">40</text>
<text transform="translate(26.10,221.55) scale(1,1.15)" font-family="Liberation Sans, sans-serif" font-size="8.0" fill="#262626" text-anchor="end">50</text>
<text transform="translate(11.70,254.30) rotate(-90)" x="0" y="0" font-family="Liberation Sans, sans-serif" font-size="9.0" fill="#262626" text-anchor="middle">Frequency (Hz)</text>
<text transform="translate(63.64,314.35) scale(1,1.15)" font-family="Liberation Sans, sans-serif" font-size="8.0" fill="#262626" text-anchor="middle">0.5</text>
<text transform="translate(97.79,314.35) scale(1,1.15)" font-family="Liberation Sans, sans-serif" font-size="8.0" fill="#262626" text-anchor="middle">1</text>
<text transform="translate(131.93,314.35) scale(1,1.15)" font-family="Liberation Sans, sans-serif" font-size="8.0" fill="#262626" text-anchor="middle">1.5</text>
<text transform="translate(166.07,314.35) scale(1,1.15)" font-family="Liberation Sans, sans-serif" font-size="8.0" fill="#262626" text-anchor="middle">2</text>
<text transform="translate(200.21,314.35) scale(1,1.15)" font-family="Liberation Sans, sans-serif" font-size="8.0" fill="#262626" text-anchor="middle">2.5</text>
<text transform="translate(234.36,314.35) scale(1,1.15)" font-family="Liberation Sans, sans-serif" font-size="8.0" fill="#262626" text-anchor="middle">3</text>
<text transform="translate(268.50,314.35) scale(1,1.15)" font-family="Liberation Sans, sans-serif" font-size="8.0" fill="#262626" text-anchor="middle">3.5</text>
<text x="149.00" y="324.50" font-family="Liberation Sans, sans-serif" font-size="8.9" fill="#262626" text-anchor="middle">Time (s)</text>
<clipPath id="k15"><rect x="301.50" y="218.00" width="239.50" height="85.80"/></clipPath>
<filter id="k16" x="-10%" y="-10%" width="120%" height="120%" color-interpolation-filters="sRGB"><feGaussianBlur stdDeviation="2.5 1.2"/></filter>
<g clip-path="url(#k15)">
<g filter="url(#k16)">
<rect x="295.50" y="212.00" width="46.17" height="9.68" fill="#0000d0"/>
<rect x="341.42" y="212.00" width="10.23" height="9.68" fill="#0000d8"/>
<rect x="351.40" y="212.00" width="30.19" height="9.68" fill="#0000db"/>
<rect x="381.33" y="212.00" width="10.23" height="9.68" fill="#0000e3"/>
<rect x="391.31" y="212.00" width="10.23" height="9.68" fill="#0000e7"/>
<rect x="401.29" y="212.00" width="20.21" height="9.68" fill="#0000ea"/>
<rect x="421.25" y="212.00" width="20.21" height="9.68" fill="#0000e7"/>
<rect x="441.21" y="212.00" width="30.19" height="9.68" fill="#0000e3"/>
<rect x="471.15" y="212.00" width="30.19" height="9.68" fill="#0000db"/>
<rect x="501.08" y="212.00" width="20.21" height="9.68" fill="#0000d8"/>
<rect x="521.04" y="212.00" width="10.23" height="9.68" fill="#0000d4"/>
<rect x="531.02" y="212.00" width="16.23" height="9.68" fill="#0000d0"/>
<rect x="295.50" y="221.43" width="46.17" height="3.68" fill="#0000d4"/>
<rect x="341.42" y="221.43" width="40.17" height="3.68" fill="#0000d8"/>
<rect x="381.33" y="221.43" width="20.21" height="3.68" fill="#0000db"/>
<rect x="401.29" y="221.43" width="80.08" height="3.68" fill="#0000e3"/>
<rect x="481.12" y="221.43" width="50.15" height="3.68" fill="#0000db"/>
<rect x="531.02" y="221.43" width="16.23" height="3.68" fill="#0000d8"/>
<rect x="295.50" y="224.86" width="116.02" height="3.68" fill="#0000cd"/>
<rect x="411.27" y="224.86" width="10.23" height="3.68" fill="#0000d0"/>
<rect x="421.25" y="224.86" width="80.08" height="3.68" fill="#0000db"/>
<rect x="501.08" y="224.86" width="46.17" height="3.68" fill="#0000d8"/>
<rect x="295.50" y="228.30" width="66.12" height="3.68" fill="#0000cd"/>
<rect x="361.38" y="228.30" width="50.15" height="3.68" fill="#0000d0"/>
<rect x="411.27" y="228.30" width="10.23" height="3.68" fill="#0000d8"/>
<rect x="421.25" y="228.30" width="30.19" height="3.68" fill="#0000db"/>
<rect x="451.19" y="228.30" width="30.19" height="3.68" fill="#0000d8"/>
<rect x="481.12" y="228.30" width="10.23" height="3.68" fill="#0000d4"/>
<rect x="491.10" y="228.30" width="56.15" height="3.68" fill="#0000d0"/>
<rect x="295.50" y="231.73" width="26.21" height="3.68" fill="#0000db"/>
<rect x="321.46" y="231.73" width="40.17" height="3.68" fill="#0000e3"/>
<rect x="361.38" y="231.73" width="20.21" height="3.68" fill="#0000db"/>
<rect x="381.33" y="231.73" width="40.17" height="3.68" fill="#0000d8"/>
<rect x="421.25" y="231.73" width="30.19" height="3.68" fill="#0000d4"/>
<rect x="451.19" y="231.73" width="96.06" height="3.68" fill="#0000d0"/>
<rect x="295.50" y="235.16" width="36.19" height="3.68" fill="#0000ea"/>
<rect x="331.44" y="235.16" width="20.21" height="3.68" fill="#0000e7"/>
<rect x="351.40" y="235.16" width="10.23" height="3.68" fill="#0000e3"/>
<rect x="361.38" y="235.16" width="10.23" height="3.68" fill="#0000db"/>
<rect x="371.35" y="235.16" width="10.23" height="3.68" fill="#0000d0"/>
<rect x="381.33" y="235.16" width="165.92" height="3.68" fill="#0000cd"/>
<rect x="295.50" y="238.59" width="16.23" height="3.68" fill="#0000d8"/>
<rect x="311.48" y="238.59" width="10.23" height="3.68" fill="#0000db"/>
<rect x="321.46" y="238.59" width="40.17" height="3.68" fill="#0000e3"/>
<rect x="361.38" y="238.59" width="20.21" height="3.68" fill="#0000db"/>
<rect x="381.33" y="238.59" width="40.17" height="3.68" fill="#0000d8"/>
<rect x="421.25" y="238.59" width="70.10" height="3.68" fill="#0000d4"/>
<rect x="491.10" y="238.59" width="56.15" height="3.68" fill="#0000d0"/>
<rect x="295.50" y="242.02" width="16.23" height="3.68" fill="#0000d0"/>
<rect x="311.48" y="242.02" width="10.23" height="3.68" fill="#0000db"/>
<rect x="321.46" y="242.02" width="30.19" height="3.68" fill="#0000e3"/>
<rect x="351.40" y="242.02" width="10.23" height="3.68" fill="#0000db"/>
<rect x="361.38" y="242.02" width="20.21" height="3.68" fill="#0000d0"/>
<rect x="381.33" y="242.02" width="40.17" height="3.68" fill="#0000db"/>
<rect x="421.25" y="242.02" width="10.23" height="3.68" fill="#0000d4"/>
<rect x="431.23" y="242.02" width="10.23" height="3.68" fill="#0000d0"/>
<rect x="441.21" y="242.02" width="106.04" height="3.68" fill="#0000d8"/>
<rect x="295.50" y="245.46" width="16.23" height="3.68" fill="#0000d0"/>
<rect x="311.48" y="245.46" width="10.23" height="3.68" fill="#0000db"/>
<rect x="321.46" y="245.46" width="40.17" height="3.68" fill="#0000e3"/>
<rect x="361.38" y="245.46" width="20.21" height="3.68" fill="#0000db"/>
<rect x="381.33" y="245.46" width="30.19" height="3.68" fill="#0000e3"/>
<rect x="411.27" y="245.46" width="10.23" height="3.68" fill="#0000db"/>
<rect x="421.25" y="245.46" width="30.19" height="3.68" fill="#0000d8"/>
<rect x="451.19" y="245.46" width="10.23" height="3.68" fill="#0000d4"/>
<rect x="461.17" y="245.46" width="10.23" height="3.68" fill="#0000d0"/>
<rect x="471.15" y="245.46" width="10.23" height="3.68" fill="#0000d4"/>
<rect x="481.12" y="245.46" width="66.12" height="3.68" fill="#0000d8"/>
<rect x="295.50" y="248.89" width="36.19" height="3.68" fill="#0000db"/>
<rect x="331.44" y="248.89" width="20.21" height="3.68" fill="#0000d0"/>
<rect x="351.40" y="248.89" width="10.23" height="3.68" fill="#0000d4"/>
<rect x="361.38" y="248.89" width="20.21" height="3.68" fill="#0000d0"/>
<rect x="381.33" y="248.89" width="10.23" height="3.68" fill="#0000db"/>
<rect x="391.31" y="248.89" width="10.23" height="3.68" fill="#0000d8"/>
<rect x="401.29" y="248.89" width="10.23" height="3.68" fill="#0000d0"/>
<rect x="411.27" y="248.89" width="10.23" height="3.68" fill="#0000d4"/>
<rect x="421.25" y="248.89" width="30.19" height="3.68" fill="#0000d8"/>
<rect x="451.19" y="248.89" width="20.21" height="3.68" fill="#0000d0"/>
<rect x="471.15" y="248.89" width="10.23" height="3.68" fill="#0000d4"/>
<rect x="481.12" y="248.89" width="20.21" height="3.68" fill="#0000d8"/>
<rect x="501.08" y="248.89" width="10.23" height="3.68" fill="#0000d0"/>
<rect x="511.06" y="248.89" width="10.23" height="3.68" fill="#0000d4"/>
<rect x="521.04" y="248.89" width="26.21" height="3.68" fill="#0000d8"/>
<rect x="295.50" y="252.32" width="16.23" height="3.68" fill="#0000d8"/>
<rect x="311.48" y="252.32" width="50.15" height="3.68" fill="#0000db"/>
<rect x="361.38" y="252.32" width="20.21" height="3.68" fill="#0000e3"/>
<rect x="381.33" y="252.32" width="20.21" height="3.68" fill="#0000e7"/>
<rect x="401.29" y="252.32" width="10.23" height="3.68" fill="#0000ea"/>
<rect x="411.27" y="252.32" width="10.23" height="3.68" fill="#0000ef"/>
<rect x="421.25" y="252.32" width="10.23" height="3.68" fill="#0000ea"/>
<rect x="431.23" y="252.32" width="20.21" height="3.68" fill="#0000db"/>
<rect x="451.19" y="252.32" width="96.06" height="3.68" fill="#0000d8"/>
<rect x="295.50" y="255.75" width="16.23" height="3.68" fill="#0000db"/>
<rect x="311.48" y="255.75" width="10.23" height="3.68" fill="#0000e3"/>
<rect x="321.46" y="255.75" width="10.23" height="3.68" fill="#0000e7"/>
<rect x="331.44" y="255.75" width="50.15" height="3.68" fill="#0000e3"/>
<rect x="381.33" y="255.75" width="10.23" height="3.68" fill="#0000e7"/>
<rect x="391.31" y="255.75" width="10.23" height="3.68" fill="#0000ea"/>
<rect x="401.29" y="255.75" width="10.23" height="3.68" fill="#0000ef"/>
<rect x="411.27" y="255.75" width="10.23" height="3.68" fill="#0000f4"/>
<rect x="421.25" y="255.75" width="10.23" height="3.68" fill="#0000ef"/>
<rect x="431.23" y="255.75" width="10.23" height="3.68" fill="#0000d4"/>
<rect x="441.21" y="255.75" width="10.23" height="3.68" fill="#0000d0"/>
<rect x="451.19" y="255.75" width="20.21" height="3.68" fill="#0000d8"/>
<rect x="471.15" y="255.75" width="10.23" height="3.68" fill="#0000d0"/>
<rect x="481.12" y="255.75" width="10.23" height="3.68" fill="#0000d4"/>
<rect x="491.10" y="255.75" width="20.21" height="3.68" fill="#0000db"/>
<rect x="511.06" y="255.75" width="10.23" height="3.68" fill="#0000d4"/>
<rect x="521.04" y="255.75" width="26.21" height="3.68" fill="#0000d0"/>
<rect x="295.50" y="259.18" width="16.23" height="3.68" fill="#0000e3"/>
<rect x="311.48" y="259.18" width="50.15" height="3.68" fill="#0000e7"/>
<rect x="361.38" y="259.18" width="40.17" height="3.68" fill="#0000e3"/>
<rect x="401.29" y="259.18" width="10.23" height="3.68" fill="#0000ea"/>
<rect x="411.27" y="259.18" width="20.21" height="3.68" fill="#0000ef"/>
<rect x="431.23" y="259.18" width="60.12" height="3.68" fill="#0000db"/>
<rect x="491.10" y="259.18" width="30.19" height="3.68" fill="#0000e7"/>
<rect x="521.04" y="259.18" width="26.21" height="3.68" fill="#0000d4"/>
<rect x="295.50" y="262.62" width="66.12" height="3.68" fill="#0000db"/>
<rect x="361.38" y="262.62" width="50.15" height="3.68" fill="#0000e3"/>
<rect x="411.27" y="262.62" width="70.10" height="3.68" fill="#0000db"/>
<rect x="481.12" y="262.62" width="40.17" height="3.68" fill="#0000e3"/>
<rect x="521.04" y="262.62" width="26.21" height="3.68" fill="#0000d8"/>
<rect x="295.50" y="266.05" width="251.75" height="3.68" fill="#0000db"/>
<rect x="295.50" y="269.48" width="251.75" height="3.68" fill="#0000db"/>
<rect x="295.50" y="272.91" width="16.23" height="3.68" fill="#0000db"/>
<rect x="311.48" y="272.91" width="20.21" height="3.68" fill="#0000d8"/>
<rect x="331.44" y="272.91" width="10.23" height="3.68" fill="#0000db"/>
<rect x="341.42" y="272.91" width="10.23" height="3.68" fill="#0000d8"/>
<rect x="351.40" y="272.91" width="10.23" height="3.68" fill="#0000db"/>
<rect x="361.38" y="272.91" width="10.23" height="3.68" fill="#0000d8"/>
<rect x="371.35" y="272.91" width="10.23" height="3.68" fill="#0000db"/>
<rect x="381.33" y="272.91" width="10.23" height="3.68" fill="#0000d8"/>
<rect x="391.31" y="272.91" width="10.23" height="3.68" fill="#0000db"/>
<rect x="401.29" y="272.91" width="10.23" height="3.68" fill="#0000d8"/>
<rect x="411.27" y="272.91" width="10.23" height="3.68" fill="#0000db"/>
<rect x="421.25" y="272.91" width="10.23" height="3.68" fill="#0000d8"/>
<rect x="431.23" y="272.91" width="10.23" height="3.68" fill="#0000db"/>
<rect x="441.21" y="272.91" width="10.23" height="3.68" fill="#0000d8"/>
<rect x="451.19" y="272.91" width="10.23" height="3.68" fill="#0000db"/>
<rect x="461.17" y="272.91" width="10.23" height="3.68" fill="#0000d8"/>
<rect x="471.15" y="272.91" width="10.23" height="3.68" fill="#0000db"/>
<rect x="481.12" y="272.91" width="20.21" height="3.68" fill="#0000d8"/>
<rect x="501.08" y="272.91" width="10.23" height="3.68" fill="#0000db"/>
<rect x="511.06" y="272.91" width="10.23" height="3.68" fill="#0000d8"/>
<rect x="521.04" y="272.91" width="10.23" height="3.68" fill="#0000db"/>
<rect x="531.02" y="272.91" width="16.23" height="3.68" fill="#0000d8"/>
<rect x="295.50" y="276.34" width="16.23" height="3.68" fill="#0000db"/>
<rect x="311.48" y="276.34" width="20.21" height="3.68" fill="#0000d8"/>
<rect x="331.44" y="276.34" width="10.23" height="3.68" fill="#0000db"/>
<rect x="341.42" y="276.34" width="10.23" height="3.68" fill="#0000d8"/>
<rect x="351.40" y="276.34" width="10.23" height="3.68" fill="#0000db"/>
<rect x="361.38" y="276.34" width="10.23" height="3.68" fill="#0000d8"/>
<rect x="371.35" y="276.34" width="10.23" height="3.68" fill="#0000db"/>
<rect x="381.33" y="276.34" width="10.23" height="3.68" fill="#0000d8"/>
<rect x="391.31" y="276.34" width="10.23" height="3.68" fill="#0000db"/>
<rect x="401.29" y="276.34" width="10.23" height="3.68" fill="#0000d8"/>
<rect x="411.27" y="276.34" width="10.23" height="3.68" fill="#0000db"/>
<rect x="421.25" y="276.34" width="10.23" height="3.68" fill="#0000d8"/>
<rect x="431.23" y="276.34" width="10.23" height="3.68" fill="#0000db"/>
<rect x="441.21" y="276.34" width="10.23" height="3.68" fill="#0000d8"/>
<rect x="451.19" y="276.34" width="10.23" height="3.68" fill="#0000db"/>
<rect x="461.17" y="276.34" width="10.23" height="3.68" fill="#0000d8"/>
<rect x="471.15" y="276.34" width="10.23" height="3.68" fill="#0000db"/>
<rect x="481.12" y="276.34" width="20.21" height="3.68" fill="#0000d8"/>
<rect x="501.08" y="276.34" width="10.23" height="3.68" fill="#0000db"/>
<rect x="511.06" y="276.34" width="10.23" height="3.68" fill="#0000d8"/>
<rect x="521.04" y="276.34" width="10.23" height="3.68" fill="#0000db"/>
<rect x="531.02" y="276.34" width="16.23" height="3.68" fill="#0000d8"/>
<rect x="295.50" y="279.78" width="16.23" height="3.68" fill="#0000db"/>
<rect x="311.48" y="279.78" width="20.21" height="3.68" fill="#0000d8"/>
<rect x="331.44" y="279.78" width="10.23" height="3.68" fill="#0000db"/>
<rect x="341.42" y="279.78" width="10.23" height="3.68" fill="#0000d8"/>
<rect x="351.40" y="279.78" width="10.23" height="3.68" fill="#0000db"/>
<rect x="361.38" y="279.78" width="10.23" height="3.68" fill="#0000d8"/>
<rect x="371.35" y="279.78" width="10.23" height="3.68" fill="#0000db"/>
<rect x="381.33" y="279.78" width="10.23" height="3.68" fill="#0000d8"/>
<rect x="391.31" y="279.78" width="10.23" height="3.68" fill="#0000db"/>
<rect x="401.29" y="279.78" width="10.23" height="3.68" fill="#0000d8"/>
<rect x="411.27" y="279.78" width="10.23" height="3.68" fill="#0000db"/>
<rect x="421.25" y="279.78" width="10.23" height="3.68" fill="#0000d8"/>
<rect x="431.23" y="279.78" width="10.23" height="3.68" fill="#0000db"/>
<rect x="441.21" y="279.78" width="10.23" height="3.68" fill="#0000d8"/>
<rect x="451.19" y="279.78" width="10.23" height="3.68" fill="#0000db"/>
<rect x="461.17" y="279.78" width="10.23" height="3.68" fill="#0000d8"/>
<rect x="471.15" y="279.78" width="10.23" height="3.68" fill="#0000db"/>
<rect x="481.12" y="279.78" width="20.21" height="3.68" fill="#0000d8"/>
<rect x="501.08" y="279.78" width="10.23" height="3.68" fill="#0000db"/>
<rect x="511.06" y="279.78" width="10.23" height="3.68" fill="#0000d8"/>
<rect x="521.04" y="279.78" width="10.23" height="3.68" fill="#0000db"/>
<rect x="531.02" y="279.78" width="16.23" height="3.68" fill="#0000d8"/>
<rect x="295.50" y="283.21" width="16.23" height="3.68" fill="#0000db"/>
<rect x="311.48" y="283.21" width="20.21" height="3.68" fill="#0000d8"/>
<rect x="331.44" y="283.21" width="10.23" height="3.68" fill="#0000db"/>
<rect x="341.42" y="283.21" width="10.23" height="3.68" fill="#0000d8"/>
<rect x="351.40" y="283.21" width="10.23" height="3.68" fill="#0000db"/>
<rect x="361.38" y="283.21" width="10.23" height="3.68" fill="#0000d8"/>
<rect x="371.35" y="283.21" width="10.23" height="3.68" fill="#0000db"/>
<rect x="381.33" y="283.21" width="10.23" height="3.68" fill="#0000d8"/>
<rect x="391.31" y="283.21" width="10.23" height="3.68" fill="#0000db"/>
<rect x="401.29" y="283.21" width="10.23" height="3.68" fill="#0000d8"/>
<rect x="411.27" y="283.21" width="10.23" height="3.68" fill="#0000db"/>
<rect x="421.25" y="283.21" width="10.23" height="3.68" fill="#0000d8"/>
<rect x="431.23" y="283.21" width="10.23" height="3.68" fill="#0000db"/>
<rect x="441.21" y="283.21" width="10.23" height="3.68" fill="#0000d8"/>
<rect x="451.19" y="283.21" width="10.23" height="3.68" fill="#0000db"/>
<rect x="461.17" y="283.21" width="10.23" height="3.68" fill="#0000d8"/>
<rect x="471.15" y="283.21" width="10.23" height="3.68" fill="#0000db"/>
<rect x="481.12" y="283.21" width="20.21" height="3.68" fill="#0000d8"/>
<rect x="501.08" y="283.21" width="10.23" height="3.68" fill="#0000db"/>
<rect x="511.06" y="283.21" width="10.23" height="3.68" fill="#0000d8"/>
<rect x="521.04" y="283.21" width="10.23" height="3.68" fill="#0000db"/>
<rect x="531.02" y="283.21" width="16.23" height="3.68" fill="#0000d8"/>
<rect x="295.50" y="286.64" width="16.23" height="3.68" fill="#0000db"/>
<rect x="311.48" y="286.64" width="20.21" height="3.68" fill="#0000d8"/>
<rect x="331.44" y="286.64" width="10.23" height="3.68" fill="#0000db"/>
<rect x="341.42" y="286.64" width="10.23" height="3.68" fill="#0000d8"/>
<rect x="351.40" y="286.64" width="10.23" height="3.68" fill="#0000db"/>
<rect x="361.38" y="286.64" width="10.23" height="3.68" fill="#0000d8"/>
<rect x="371.35" y="286.64" width="10.23" height="3.68" fill="#0000db"/>
<rect x="381.33" y="286.64" width="10.23" height="3.68" fill="#0000d8"/>
<rect x="391.31" y="286.64" width="10.23" height="3.68" fill="#0000db"/>
<rect x="401.29" y="286.64" width="10.23" height="3.68" fill="#0000d8"/>
<rect x="411.27" y="286.64" width="10.23" height="3.68" fill="#0000db"/>
<rect x="421.25" y="286.64" width="10.23" height="3.68" fill="#0000d8"/>
<rect x="431.23" y="286.64" width="10.23" height="3.68" fill="#0000db"/>
<rect x="441.21" y="286.64" width="10.23" height="3.68" fill="#0000d8"/>
<rect x="451.19" y="286.64" width="10.23" height="3.68" fill="#0000db"/>
<rect x="461.17" y="286.64" width="10.23" height="3.68" fill="#0000d8"/>
<rect x="471.15" y="286.64" width="10.23" height="3.68" fill="#0000db"/>
<rect x="481.12" y="286.64" width="20.21" height="3.68" fill="#0000d8"/>
<rect x="501.08" y="286.64" width="10.23" height="3.68" fill="#0000db"/>
<rect x="511.06" y="286.64" width="10.23" height="3.68" fill="#0000d8"/>
<rect x="521.04" y="286.64" width="10.23" height="3.68" fill="#0000db"/>
<rect x="531.02" y="286.64" width="16.23" height="3.68" fill="#0000d8"/>
<rect x="295.50" y="290.07" width="16.23" height="3.68" fill="#0000db"/>
<rect x="311.48" y="290.07" width="20.21" height="3.68" fill="#0000d8"/>
<rect x="331.44" y="290.07" width="10.23" height="3.68" fill="#0000db"/>
<rect x="341.42" y="290.07" width="10.23" height="3.68" fill="#0000d8"/>
<rect x="351.40" y="290.07" width="10.23" height="3.68" fill="#0000db"/>
<rect x="361.38" y="290.07" width="10.23" height="3.68" fill="#0000d8"/>
<rect x="371.35" y="290.07" width="10.23" height="3.68" fill="#0000db"/>
<rect x="381.33" y="290.07" width="10.23" height="3.68" fill="#0000d8"/>
<rect x="391.31" y="290.07" width="10.23" height="3.68" fill="#0000db"/>
<rect x="401.29" y="290.07" width="10.23" height="3.68" fill="#0000d8"/>
<rect x="411.27" y="290.07" width="10.23" height="3.68" fill="#0000db"/>
<rect x="421.25" y="290.07" width="10.23" height="3.68" fill="#0000d8"/>
<rect x="431.23" y="290.07" width="10.23" height="3.68" fill="#0000db"/>
<rect x="441.21" y="290.07" width="10.23" height="3.68" fill="#0000d8"/>
<rect x="451.19" y="290.07" width="10.23" height="3.68" fill="#0000db"/>
<rect x="461.17" y="290.07" width="10.23" height="3.68" fill="#0000d8"/>
<rect x="471.15" y="290.07" width="10.23" height="3.68" fill="#0000db"/>
<rect x="481.12" y="290.07" width="20.21" height="3.68" fill="#0000d8"/>
<rect x="501.08" y="290.07" width="10.23" height="3.68" fill="#0000db"/>
<rect x="511.06" y="290.07" width="10.23" height="3.68" fill="#0000d8"/>
<rect x="521.04" y="290.07" width="10.23" height="3.68" fill="#0000db"/>
<rect x="531.02" y="290.07" width="16.23" height="3.68" fill="#0000d8"/>
<rect x="295.50" y="293.50" width="16.23" height="3.68" fill="#0000db"/>
<rect x="311.48" y="293.50" width="20.21" height="3.68" fill="#0000d8"/>
<rect x="331.44" y="293.50" width="10.23" height="3.68" fill="#0000db"/>
<rect x="341.42" y="293.50" width="10.23" height="3.68" fill="#0000d8"/>
<rect x="351.40" y="293.50" width="10.23" height="3.68" fill="#0000db"/>
<rect x="361.38" y="293.50" width="10.23" height="3.68" fill="#0000d8"/>
<rect x="371.35" y="293.50" width="10.23" height="3.68" fill="#0000db"/>
<rect x="381.33" y="293.50" width="10.23" height="3.68" fill="#0000d8"/>
<rect x="391.31" y="293.50" width="10.23" height="3.68" fill="#0000db"/>
<rect x="401.29" y="293.50" width="10.23" height="3.68" fill="#0000d8"/>
<rect x="411.27" y="293.50" width="10.23" height="3.68" fill="#0000db"/>
<rect x="421.25" y="293.50" width="10.23" height="3.68" fill="#0000d8"/>
<rect x="431.23" y="293.50" width="10.23" height="3.68" fill="#0000db"/>
<rect x="441.21" y="293.50" width="10.23" height="3.68" fill="#0000d8"/>
<rect x="451.19" y="293.50" width="10.23" height="3.68" fill="#0000db"/>
<rect x="461.17" y="293.50" width="10.23" height="3.68" fill="#0000d8"/>
<rect x="471.15" y="293.50" width="10.23" height="3.68" fill="#0000db"/>
<rect x="481.12" y="293.50" width="20.21" height="3.68" fill="#0000d8"/>
<rect x="501.08" y="293.50" width="10.23" height="3.68" fill="#0000db"/>
<rect x="511.06" y="293.50" width="10.23" height="3.68" fill="#0000d8"/>
<rect x="521.04" y="293.50" width="10.23" height="3.68" fill="#0000db"/>
<rect x="531.02" y="293.50" width="16.23" height="3.68" fill="#0000d8"/>
<rect x="295.50" y="296.94" width="16.23" height="3.68" fill="#0000db"/>
<rect x="311.48" y="296.94" width="20.21" height="3.68" fill="#0000d8"/>
<rect x="331.44" y="296.94" width="10.23" height="3.68" fill="#0000db"/>
<rect x="341.42" y="296.94" width="10.23" height="3.68" fill="#0000d8"/>
<rect x="351.40" y="296.94" width="10.23" height="3.68" fill="#0000db"/>
<rect x="361.38" y="296.94" width="10.23" height="3.68" fill="#0000d8"/>
<rect x="371.35" y="296.94" width="10.23" height="3.68" fill="#0000db"/>
<rect x="381.33" y="296.94" width="10.23" height="3.68" fill="#0000d8"/>
<rect x="391.31" y="296.94" width="10.23" height="3.68" fill="#0000db"/>
<rect x="401.29" y="296.94" width="10.23" height="3.68" fill="#0000d8"/>
<rect x="411.27" y="296.94" width="10.23" height="3.68" fill="#0000db"/>
<rect x="421.25" y="296.94" width="10.23" height="3.68" fill="#0000d8"/>
<rect x="431.23" y="296.94" width="10.23" height="3.68" fill="#0000db"/>
<rect x="441.21" y="296.94" width="10.23" height="3.68" fill="#0000d8"/>
<rect x="451.19" y="296.94" width="10.23" height="3.68" fill="#0000db"/>
<rect x="461.17" y="296.94" width="10.23" height="3.68" fill="#0000d8"/>
<rect x="471.15" y="296.94" width="10.23" height="3.68" fill="#0000db"/>
<rect x="481.12" y="296.94" width="20.21" height="3.68" fill="#0000d8"/>
<rect x="501.08" y="296.94" width="10.23" height="3.68" fill="#0000db"/>
<rect x="511.06" y="296.94" width="10.23" height="3.68" fill="#0000d8"/>
<rect x="521.04" y="296.94" width="10.23" height="3.68" fill="#0000db"/>
<rect x="531.02" y="296.94" width="16.23" height="3.68" fill="#0000d8"/>
<rect x="295.50" y="300.37" width="16.23" height="9.68" fill="#0000db"/>
<rect x="311.48" y="300.37" width="20.21" height="9.68" fill="#0000d8"/>
<rect x="331.44" y="300.37" width="10.23" height="9.68" fill="#0000db"/>
<rect x="341.42" y="300.37" width="10.23" height="9.68" fill="#0000d8"/>
<rect x="351.40" y="300.37" width="10.23" height="9.68" fill="#0000db"/>
<rect x="361.38" y="300.37" width="10.23" height="9.68" fill="#0000d8"/>
<rect x="371.35" y="300.37" width="10.23" height="9.68" fill="#0000db"/>
<rect x="381.33" y="300.37" width="10.23" height="9.68" fill="#0000d8"/>
<rect x="391.31" y="300.37" width="10.23" height="9.68" fill="#0000db"/>
<rect x="401.29" y="300.37" width="10.23" height="9.68" fill="#0000d8"/>
<rect x="411.27" y="300.37" width="10.23" height="9.68" fill="#0000db"/>
<rect x="421.25" y="300.37" width="10.23" height="9.68" fill="#0000d8"/>
<rect x="431.23" y="300.37" width="10.23" height="9.68" fill="#0000db"/>
<rect x="441.21" y="300.37" width="10.23" height="9.68" fill="#0000d8"/>
<rect x="451.19" y="300.37" width="10.23" height="9.68" fill="#0000db"/>
<rect x="461.17" y="300.37" width="10.23" height="9.68" fill="#0000d8"/>
<rect x="471.15" y="300.37" width="10.23" height="9.68" fill="#0000db"/>
<rect x="481.12" y="300.37" width="20.21" height="9.68" fill="#0000d8"/>
<rect x="501.08" y="300.37" width="10.23" height="9.68" fill="#0000db"/>
<rect x="511.06" y="300.37" width="10.23" height="9.68" fill="#0000d8"/>
<rect x="521.04" y="300.37" width="10.23" height="9.68" fill="#0000db"/>
<rect x="531.02" y="300.37" width="16.23" height="9.68" fill="#0000d8"/>
<ellipse cx="313.00" cy="303.00" rx="3.00" ry="1.00" fill="#00b2ff"/>
<ellipse cx="339.00" cy="303.00" rx="2.50" ry="0.90" fill="#0080ff"/>
<ellipse cx="364.50" cy="303.00" rx="3.00" ry="1.00" fill="#1affe5"/>
<ellipse cx="414.50" cy="303.00" rx="3.00" ry="1.00" fill="#00e5ff"/>
<ellipse cx="450.00" cy="303.00" rx="3.00" ry="1.00" fill="#00b2ff"/>
<ellipse cx="505.00" cy="303.00" rx="3.00" ry="1.00" fill="#0080ff"/>
</g></g>
<clipPath id="k17"><rect x="301.50" y="255.50" width="239.50" height="7.40"/></clipPath>
<filter id="k18" x="-10%" y="-10%" width="120%" height="120%" color-interpolation-filters="sRGB"><feGaussianBlur stdDeviation="1.5 0.6"/></filter>
<g clip-path="url(#k17)">
<g filter="url(#k18)">
<rect x="295.50" y="249.50" width="31.20" height="8.72" fill="#00ffff"/>
<rect x="326.45" y="249.50" width="20.21" height="8.72" fill="#d1ff2e"/>
<rect x="346.41" y="249.50" width="25.20" height="8.72" fill="#00ffff"/>
<rect x="371.35" y="249.50" width="5.24" height="8.72" fill="#00a8ff"/>
<rect x="376.34" y="249.50" width="10.23" height="8.72" fill="#00ffff"/>
<rect x="386.32" y="249.50" width="15.22" height="8.72" fill="#d1ff2e"/>
<rect x="401.29" y="249.50" width="5.24" height="8.72" fill="#ff9e00"/>
<rect x="406.28" y="249.50" width="5.24" height="8.72" fill="#ff1a00"/>
<rect x="411.27" y="249.50" width="10.23" height="8.72" fill="#9e0000"/>
<rect x="421.25" y="249.50" width="5.24" height="8.72" fill="#ff1a00"/>
<rect x="426.24" y="249.50" width="5.24" height="8.72" fill="#fff000"/>
<rect x="431.23" y="249.50" width="5.24" height="8.72" fill="#00ffff"/>
<rect x="436.22" y="249.50" width="10.23" height="8.72" fill="#00a8ff"/>
<rect x="446.20" y="249.50" width="10.23" height="8.72" fill="#00ffff"/>
<rect x="456.18" y="249.50" width="10.23" height="8.72" fill="#00a8ff"/>
<rect x="466.16" y="249.50" width="10.23" height="8.72" fill="#004dff"/>
<rect x="476.14" y="249.50" width="10.23" height="8.72" fill="#00a8ff"/>
<rect x="486.11" y="249.50" width="30.19" height="8.72" fill="#00ffff"/>
<rect x="516.05" y="249.50" width="5.24" height="8.72" fill="#00a8ff"/>
<rect x="521.04" y="249.50" width="26.21" height="8.72" fill="#004dff"/>
<rect x="295.50" y="257.97" width="11.24" height="2.72" fill="#00ffff"/>
<rect x="306.49" y="257.97" width="15.22" height="2.72" fill="#d1ff2e"/>
<rect x="321.46" y="257.97" width="25.20" height="2.72" fill="#fff000"/>
<rect x="346.41" y="257.97" width="5.24" height="2.72" fill="#d1ff2e"/>
<rect x="351.40" y="257.97" width="5.24" height="2.72" fill="#00ffff"/>
<rect x="356.39" y="257.97" width="5.24" height="2.72" fill="#d1ff2e"/>
<rect x="361.38" y="257.97" width="10.23" height="2.72" fill="#00ffff"/>
<rect x="371.35" y="257.97" width="5.24" height="2.72" fill="#00a8ff"/>
<rect x="376.34" y="257.97" width="5.24" height="2.72" fill="#004dff"/>
<rect x="381.33" y="257.97" width="5.24" height="2.72" fill="#0000e6"/>
<rect x="386.32" y="257.97" width="5.24" height="2.72" fill="#00ffff"/>
<rect x="391.31" y="257.97" width="10.23" height="2.72" fill="#d1ff2e"/>
<rect x="401.29" y="257.97" width="5.24" height="2.72" fill="#ff9e00"/>
<rect x="406.28" y="257.97" width="5.24" height="2.72" fill="#ff1a00"/>
<rect x="411.27" y="257.97" width="10.23" height="2.72" fill="#9e0000"/>
<rect x="421.25" y="257.97" width="5.24" height="2.72" fill="#ff1a00"/>
<rect x="426.24" y="257.97" width="5.24" height="2.72" fill="#fff000"/>
<rect x="431.23" y="257.97" width="5.24" height="2.72" fill="#00ffff"/>
<rect x="436.22" y="257.97" width="5.24" height="2.72" fill="#004dff"/>
<rect x="441.21" y="257.97" width="5.24" height="2.72" fill="#0000e6"/>
<rect x="446.20" y="257.97" width="5.24" height="2.72" fill="#004dff"/>
<rect x="451.19" y="257.97" width="5.24" height="2.72" fill="#00ffff"/>
<rect x="456.18" y="257.97" width="10.23" height="2.72" fill="#00a8ff"/>
<rect x="466.16" y="257.97" width="10.23" height="2.72" fill="#0000e6"/>
<rect x="476.14" y="257.97" width="5.24" height="2.72" fill="#00a8ff"/>
<rect x="481.12" y="257.97" width="10.23" height="2.72" fill="#00ffff"/>
<rect x="491.10" y="257.97" width="20.21" height="2.72" fill="#d1ff2e"/>
<rect x="511.06" y="257.97" width="5.24" height="2.72" fill="#00ffff"/>
<rect x="516.05" y="257.97" width="5.24" height="2.72" fill="#00a8ff"/>
<rect x="521.04" y="257.97" width="26.21" height="2.72" fill="#004dff"/>
<rect x="295.50" y="260.43" width="21.22" height="8.72" fill="#00ffff"/>
<rect x="316.47" y="260.43" width="5.24" height="8.72" fill="#d1ff2e"/>
<rect x="321.46" y="260.43" width="15.22" height="8.72" fill="#fff000"/>
<rect x="336.43" y="260.43" width="5.24" height="8.72" fill="#d1ff2e"/>
<rect x="341.42" y="260.43" width="5.24" height="8.72" fill="#00ffff"/>
<rect x="346.41" y="260.43" width="10.23" height="8.72" fill="#004dff"/>
<rect x="356.39" y="260.43" width="10.23" height="8.72" fill="#00ffff"/>
<rect x="366.36" y="260.43" width="25.20" height="8.72" fill="#00a8ff"/>
<rect x="391.31" y="260.43" width="10.23" height="8.72" fill="#004dff"/>
<rect x="401.29" y="260.43" width="5.24" height="8.72" fill="#00ffff"/>
<rect x="406.28" y="260.43" width="5.24" height="8.72" fill="#ff9e00"/>
<rect x="411.27" y="260.43" width="10.23" height="8.72" fill="#ff1a00"/>
<rect x="421.25" y="260.43" width="5.24" height="8.72" fill="#ff9e00"/>
<rect x="426.24" y="260.43" width="5.24" height="8.72" fill="#d1ff2e"/>
<rect x="431.23" y="260.43" width="10.23" height="8.72" fill="#00ffff"/>
<rect x="441.21" y="260.43" width="5.24" height="8.72" fill="#00a8ff"/>
<rect x="446.20" y="260.43" width="10.23" height="8.72" fill="#00ffff"/>
<rect x="456.18" y="260.43" width="25.20" height="8.72" fill="#00a8ff"/>
<rect x="481.12" y="260.43" width="5.24" height="8.72" fill="#00ffff"/>
<rect x="486.11" y="260.43" width="5.24" height="8.72" fill="#d1ff2e"/>
<rect x="491.10" y="260.43" width="20.21" height="8.72" fill="#fff000"/>
<rect x="511.06" y="260.43" width="5.24" height="8.72" fill="#d1ff2e"/>
<rect x="516.05" y="260.43" width="15.22" height="8.72" fill="#00ffff"/>
<rect x="531.02" y="260.43" width="16.23" height="8.72" fill="#00a8ff"/>
<ellipse cx="416.00" cy="259.00" rx="12.00" ry="3.70" fill="#ff1a00"/>
<ellipse cx="416.00" cy="259.20" rx="7.00" ry="2.40" fill="#9e0000"/>
<ellipse cx="381.00" cy="259.00" rx="3.00" ry="1.60" fill="#0000e6"/>
<ellipse cx="442.50" cy="258.80" rx="5.50" ry="1.60" fill="#0000e6"/>
<ellipse cx="470.50" cy="258.50" rx="5.50" ry="1.60" fill="#0000e6"/>
<ellipse cx="351.50" cy="262.20" rx="4.00" ry="1.30" fill="#004dff"/>
<ellipse cx="400.50" cy="262.20" rx="5.50" ry="1.30" fill="#004dff"/>
<ellipse cx="500.00" cy="261.30" rx="12.00" ry="1.40" fill="#fff000"/>
<ellipse cx="330.00" cy="259.00" rx="12.00" ry="1.80" fill="#fff000"/>
</g></g>
<clipPath id="k19"><rect x="301.50" y="269.70" width="239.50" height="10.30"/></clipPath>
<filter id="k20" x="-10%" y="-10%" width="120%" height="120%" color-interpolation-filters="sRGB"><feGaussianBlur stdDeviation="1.5 0.6"/></filter>
<g clip-path="url(#k19)">
<g filter="url(#k20)">
<rect x="295.50" y="263.70" width="26.21" height="9.68" fill="#00ffff"/>
<rect x="321.46" y="263.70" width="5.24" height="9.68" fill="#d1ff2e"/>
<rect x="326.45" y="263.70" width="10.23" height="9.68" fill="#ff1a00"/>
<rect x="336.43" y="263.70" width="5.24" height="9.68" fill="#ff9e00"/>
<rect x="341.42" y="263.70" width="10.23" height="9.68" fill="#00ffff"/>
<rect x="351.40" y="263.70" width="5.24" height="9.68" fill="#d1ff2e"/>
<rect x="356.39" y="263.70" width="5.24" height="9.68" fill="#ff9e00"/>
<rect x="361.38" y="263.70" width="10.23" height="9.68" fill="#ff1a00"/>
<rect x="371.35" y="263.70" width="5.24" height="9.68" fill="#ff9e00"/>
<rect x="376.34" y="263.70" width="5.24" height="9.68" fill="#fff000"/>
<rect x="381.33" y="263.70" width="25.20" height="9.68" fill="#00ffff"/>
<rect x="406.28" y="263.70" width="5.24" height="9.68" fill="#d1ff2e"/>
<rect x="411.27" y="263.70" width="5.24" height="9.68" fill="#ff9e00"/>
<rect x="416.26" y="263.70" width="5.24" height="9.68" fill="#ff1a00"/>
<rect x="421.25" y="263.70" width="5.24" height="9.68" fill="#fff000"/>
<rect x="426.24" y="263.70" width="20.21" height="9.68" fill="#00ffff"/>
<rect x="446.20" y="263.70" width="10.23" height="9.68" fill="#004dff"/>
<rect x="456.18" y="263.70" width="15.22" height="9.68" fill="#00ffff"/>
<rect x="471.15" y="263.70" width="5.24" height="9.68" fill="#004dff"/>
<rect x="476.14" y="263.70" width="5.24" height="9.68" fill="#0000e6"/>
<rect x="481.12" y="263.70" width="5.24" height="9.68" fill="#004dff"/>
<rect x="486.11" y="263.70" width="15.22" height="9.68" fill="#00ffff"/>
<rect x="501.08" y="263.70" width="10.23" height="9.68" fill="#004dff"/>
<rect x="511.06" y="263.70" width="10.23" height="9.68" fill="#00ffff"/>
<rect x="521.04" y="263.70" width="5.24" height="9.68" fill="#d1ff2e"/>
<rect x="526.03" y="263.70" width="5.24" height="9.68" fill="#fff000"/>
<rect x="531.02" y="263.70" width="16.23" height="9.68" fill="#ff9e00"/>
<rect x="295.50" y="273.13" width="11.24" height="3.68" fill="#00ffff"/>
<rect x="306.49" y="273.13" width="5.24" height="3.68" fill="#004dff"/>
<rect x="311.48" y="273.13" width="5.24" height="3.68" fill="#0000e6"/>
<rect x="316.47" y="273.13" width="5.24" height="3.68" fill="#00a8ff"/>
<rect x="321.46" y="273.13" width="5.24" height="3.68" fill="#fff000"/>
<rect x="326.45" y="273.13" width="5.24" height="3.68" fill="#ff1a00"/>
<rect x="331.44" y="273.13" width="5.24" height="3.68" fill="#9e0000"/>
<rect x="336.43" y="273.13" width="5.24" height="3.68" fill="#ff9e00"/>
<rect x="341.42" y="273.13" width="5.24" height="3.68" fill="#00a8ff"/>
<rect x="346.41" y="273.13" width="5.24" height="3.68" fill="#004dff"/>
<rect x="351.40" y="273.13" width="5.24" height="3.68" fill="#00ffff"/>
<rect x="356.39" y="273.13" width="5.24" height="3.68" fill="#fff000"/>
<rect x="361.38" y="273.13" width="15.22" height="3.68" fill="#ff1a00"/>
<rect x="376.34" y="273.13" width="5.24" height="3.68" fill="#ff9e00"/>
<rect x="381.33" y="273.13" width="10.23" height="3.68" fill="#004dff"/>
<rect x="391.31" y="273.13" width="5.24" height="3.68" fill="#00ffff"/>
<rect x="396.30" y="273.13" width="10.23" height="3.68" fill="#004dff"/>
<rect x="406.28" y="273.13" width="5.24" height="3.68" fill="#fff000"/>
<rect x="411.27" y="273.13" width="5.24" height="3.68" fill="#ff1a00"/>
<rect x="416.26" y="273.13" width="5.24" height="3.68" fill="#ff9e00"/>
<rect x="421.25" y="273.13" width="5.24" height="3.68" fill="#d1ff2e"/>
<rect x="426.24" y="273.13" width="5.24" height="3.68" fill="#00ffff"/>
<rect x="431.23" y="273.13" width="5.24" height="3.68" fill="#004dff"/>
<rect x="436.22" y="273.13" width="5.24" height="3.68" fill="#00a8ff"/>
<rect x="441.21" y="273.13" width="5.24" height="3.68" fill="#00ffff"/>
<rect x="446.20" y="273.13" width="5.24" height="3.68" fill="#00a8ff"/>
<rect x="451.19" y="273.13" width="10.23" height="3.68" fill="#00ffff"/>
<rect x="461.17" y="273.13" width="5.24" height="3.68" fill="#d1ff2e"/>
<rect x="466.16" y="273.13" width="5.24" height="3.68" fill="#00ffff"/>
<rect x="471.15" y="273.13" width="10.23" height="3.68" fill="#0000e6"/>
<rect x="481.12" y="273.13" width="5.24" height="3.68" fill="#004dff"/>
<rect x="486.11" y="273.13" width="35.18" height="3.68" fill="#00ffff"/>
<rect x="521.04" y="273.13" width="5.24" height="3.68" fill="#d1ff2e"/>
<rect x="526.03" y="273.13" width="21.22" height="3.68" fill="#fff000"/>
<rect x="295.50" y="276.57" width="11.24" height="9.68" fill="#00ffff"/>
<rect x="306.49" y="276.57" width="5.24" height="9.68" fill="#00a8ff"/>
<rect x="311.48" y="276.57" width="5.24" height="9.68" fill="#004dff"/>
<rect x="316.47" y="276.57" width="5.24" height="9.68" fill="#00ffff"/>
<rect x="321.46" y="276.57" width="5.24" height="9.68" fill="#d1ff2e"/>
<rect x="326.45" y="276.57" width="5.24" height="9.68" fill="#ff9e00"/>
<rect x="331.44" y="276.57" width="5.24" height="9.68" fill="#ff1a00"/>
<rect x="336.43" y="276.57" width="5.24" height="9.68" fill="#fff000"/>
<rect x="341.42" y="276.57" width="5.24" height="9.68" fill="#00ffff"/>
<rect x="346.41" y="276.57" width="5.24" height="9.68" fill="#00a8ff"/>
<rect x="351.40" y="276.57" width="5.24" height="9.68" fill="#00ffff"/>
<rect x="356.39" y="276.57" width="5.24" height="9.68" fill="#d1ff2e"/>
<rect x="361.38" y="276.57" width="5.24" height="9.68" fill="#fff000"/>
<rect x="366.36" y="276.57" width="10.23" height="9.68" fill="#ff1a00"/>
<rect x="376.34" y="276.57" width="5.24" height="9.68" fill="#d1ff2e"/>
<rect x="381.33" y="276.57" width="15.22" height="9.68" fill="#00ffff"/>
<rect x="396.30" y="276.57" width="5.24" height="9.68" fill="#00a8ff"/>
<rect x="401.29" y="276.57" width="5.24" height="9.68" fill="#00ffff"/>
<rect x="406.28" y="276.57" width="5.24" height="9.68" fill="#d1ff2e"/>
<rect x="411.27" y="276.57" width="5.24" height="9.68" fill="#fff000"/>
<rect x="416.26" y="276.57" width="5.24" height="9.68" fill="#d1ff2e"/>
<rect x="421.25" y="276.57" width="10.23" height="9.68" fill="#00ffff"/>
<rect x="431.23" y="276.57" width="5.24" height="9.68" fill="#00a8ff"/>
<rect x="436.22" y="276.57" width="30.19" height="9.68" fill="#00ffff"/>
<rect x="466.16" y="276.57" width="15.22" height="9.68" fill="#00a8ff"/>
<rect x="481.12" y="276.57" width="66.12" height="9.68" fill="#00ffff"/>
<ellipse cx="311.50" cy="275.50" rx="4.50" ry="2.50" fill="#0000e6"/>
<ellipse cx="331.50" cy="274.50" rx="6.50" ry="4.30" fill="#ff1a00"/>
<ellipse cx="331.00" cy="274.50" rx="3.50" ry="2.50" fill="#9e0000"/>
<ellipse cx="345.00" cy="277.00" rx="4.00" ry="2.50" fill="#0000e6"/>
<ellipse cx="366.00" cy="275.00" rx="10.00" ry="4.00" fill="#ff9e00"/>
<ellipse cx="368.00" cy="275.50" rx="7.00" ry="3.00" fill="#ff1a00"/>
<ellipse cx="369.50" cy="276.00" rx="3.50" ry="1.80" fill="#9e0000"/>
<ellipse cx="416.50" cy="274.00" rx="6.50" ry="4.00" fill="#ff9e00"/>
<ellipse cx="417.00" cy="274.00" rx="4.00" ry="2.50" fill="#ff1a00"/>
<ellipse cx="385.00" cy="275.00" rx="4.00" ry="3.00" fill="#0000e6"/>
<ellipse cx="400.50" cy="275.00" rx="5.50" ry="3.00" fill="#0000e6"/>
<ellipse cx="432.00" cy="276.00" rx="4.50" ry="2.00" fill="#0000e6"/>
<ellipse cx="450.00" cy="273.00" rx="5.00" ry="2.00" fill="#0000e6"/>
<ellipse cx="479.50" cy="275.00" rx="8.50" ry="3.00" fill="#0000e6"/>
<ellipse cx="506.00" cy="272.00" rx="5.50" ry="2.00" fill="#0000e6"/>
<ellipse cx="533.00" cy="273.00" rx="8.00" ry="3.00" fill="#ff9e00"/>
</g></g>
<clipPath id="k21"><rect x="301.50" y="290.50" width="239.50" height="3.60"/></clipPath>
<filter id="k22" x="-10%" y="-10%" width="120%" height="120%" color-interpolation-filters="sRGB"><feGaussianBlur stdDeviation="1.5 0.6"/></filter>
<g clip-path="url(#k21)">
<g filter="url(#k22)">
<rect x="295.50" y="284.50" width="11.24" height="15.85" fill="#00ffff"/>
<rect x="306.49" y="284.50" width="5.24" height="15.85" fill="#0000e6"/>
<rect x="311.48" y="284.50" width="5.24" height="15.85" fill="#d1ff2e"/>
<rect x="316.47" y="284.50" width="5.24" height="15.85" fill="#00ffff"/>
<rect x="321.46" y="284.50" width="5.24" height="15.85" fill="#004dff"/>
<rect x="326.45" y="284.50" width="5.24" height="15.85" fill="#00ffff"/>
<rect x="331.44" y="284.50" width="5.24" height="15.85" fill="#00a8ff"/>
<rect x="336.43" y="284.50" width="5.24" height="15.85" fill="#0000e6"/>
<rect x="341.42" y="284.50" width="10.23" height="15.85" fill="#00a8ff"/>
<rect x="351.40" y="284.50" width="10.23" height="15.85" fill="#0000e6"/>
<rect x="361.38" y="284.50" width="5.24" height="15.85" fill="#00a8ff"/>
<rect x="366.36" y="284.50" width="10.23" height="15.85" fill="#00ffff"/>
<rect x="376.34" y="284.50" width="10.23" height="15.85" fill="#004dff"/>
<rect x="386.32" y="284.50" width="5.24" height="15.85" fill="#00a8ff"/>
<rect x="391.31" y="284.50" width="5.24" height="15.85" fill="#00ffff"/>
<rect x="396.30" y="284.50" width="10.23" height="15.85" fill="#00a8ff"/>
<rect x="406.28" y="284.50" width="5.24" height="15.85" fill="#00ffff"/>
<rect x="411.27" y="284.50" width="10.23" height="15.85" fill="#fff000"/>
<rect x="421.25" y="284.50" width="5.24" height="15.85" fill="#00ffff"/>
<rect x="426.24" y="284.50" width="5.24" height="15.85" fill="#ff9e00"/>
<rect x="431.23" y="284.50" width="5.24" height="15.85" fill="#fff000"/>
<rect x="436.22" y="284.50" width="5.24" height="15.85" fill="#00a8ff"/>
<rect x="441.21" y="284.50" width="5.24" height="15.85" fill="#004dff"/>
<rect x="446.20" y="284.50" width="5.24" height="15.85" fill="#00ffff"/>
<rect x="451.19" y="284.50" width="5.24" height="15.85" fill="#00a8ff"/>
<rect x="456.18" y="284.50" width="15.22" height="15.85" fill="#004dff"/>
<rect x="471.15" y="284.50" width="5.24" height="15.85" fill="#00a8ff"/>
<rect x="476.14" y="284.50" width="5.24" height="15.85" fill="#fff000"/>
<rect x="481.12" y="284.50" width="5.24" height="15.85" fill="#00a8ff"/>
<rect x="486.11" y="284.50" width="5.24" height="15.85" fill="#0000e6"/>
<rect x="491.10" y="284.50" width="5.24" height="15.85" fill="#004dff"/>
<rect x="496.09" y="284.50" width="15.22" height="15.85" fill="#00a8ff"/>
<rect x="511.06" y="284.50" width="5.24" height="15.85" fill="#fff000"/>
<rect x="516.05" y="284.50" width="5.24" height="15.85" fill="#00ffff"/>
<rect x="521.04" y="284.50" width="10.23" height="15.85" fill="#004dff"/>
<rect x="531.02" y="284.50" width="16.23" height="15.85" fill="#00a8ff"/>
</g></g>
<text x="421.25" y="215.10" font-family="Liberation Sans, sans-serif" font-size="9" font-weight="bold" fill="#000" text-anchor="middle">(f) S-CAB output</text>
<text transform="translate(298.10,291.39) scale(1,1.15)" font-family="Liberation Sans, sans-serif" font-size="8.0" fill="#262626" text-anchor="end">10</text>
<text transform="translate(298.10,273.88) scale(1,1.15)" font-family="Liberation Sans, sans-serif" font-size="8.0" fill="#262626" text-anchor="end">20</text>
<text transform="translate(298.10,256.37) scale(1,1.15)" font-family="Liberation Sans, sans-serif" font-size="8.0" fill="#262626" text-anchor="end">30</text>
<text transform="translate(298.10,238.86) scale(1,1.15)" font-family="Liberation Sans, sans-serif" font-size="8.0" fill="#262626" text-anchor="end">40</text>
<text transform="translate(298.10,221.35) scale(1,1.15)" font-family="Liberation Sans, sans-serif" font-size="8.0" fill="#262626" text-anchor="end">50</text>
<text transform="translate(283.70,255.10) rotate(-90)" x="0" y="0" font-family="Liberation Sans, sans-serif" font-size="9.0" fill="#262626" text-anchor="middle">Frequency (Hz)</text>
<text transform="translate(335.71,314.85) scale(1,1.15)" font-family="Liberation Sans, sans-serif" font-size="8.0" fill="#262626" text-anchor="middle">0.5</text>
<text transform="translate(369.93,314.85) scale(1,1.15)" font-family="Liberation Sans, sans-serif" font-size="8.0" fill="#262626" text-anchor="middle">1</text>
<text transform="translate(404.14,314.85) scale(1,1.15)" font-family="Liberation Sans, sans-serif" font-size="8.0" fill="#262626" text-anchor="middle">1.5</text>
<text transform="translate(438.36,314.85) scale(1,1.15)" font-family="Liberation Sans, sans-serif" font-size="8.0" fill="#262626" text-anchor="middle">2</text>
<text transform="translate(472.57,314.85) scale(1,1.15)" font-family="Liberation Sans, sans-serif" font-size="8.0" fill="#262626" text-anchor="middle">2.5</text>
<text transform="translate(506.79,314.85) scale(1,1.15)" font-family="Liberation Sans, sans-serif" font-size="8.0" fill="#262626" text-anchor="middle">3</text>
<text transform="translate(541.00,314.85) scale(1,1.15)" font-family="Liberation Sans, sans-serif" font-size="8.0" fill="#262626" text-anchor="middle">3.5</text>
<text x="421.25" y="324.90" font-family="Liberation Sans, sans-serif" font-size="8.9" fill="#262626" text-anchor="middle">Time (s)</text>
<clipPath id="k23"><rect x="167.20" y="334.60" width="238.50" height="84.60"/></clipPath>
<filter id="k24" x="-10%" y="-10%" width="120%" height="120%" color-interpolation-filters="sRGB"><feGaussianBlur stdDeviation="2.0 1.0"/></filter>
<g clip-path="url(#k23)">
<g filter="url(#k24)">
<rect x="161.20" y="328.60" width="31.09" height="9.63" fill="#0000db"/>
<rect x="192.04" y="328.60" width="10.19" height="9.63" fill="#0000cc"/>
<rect x="201.98" y="328.60" width="25.09" height="9.63" fill="#0000bd"/>
<rect x="226.82" y="328.60" width="15.16" height="9.63" fill="#0000cc"/>
<rect x="241.73" y="328.60" width="30.06" height="9.63" fill="#0000bd"/>
<rect x="271.54" y="328.60" width="20.12" height="9.63" fill="#0000cc"/>
<rect x="291.42" y="328.60" width="120.53" height="9.63" fill="#0000b2"/>
<rect x="161.20" y="337.98" width="31.09" height="3.63" fill="#0000db"/>
<rect x="192.04" y="337.98" width="10.19" height="3.63" fill="#0000cc"/>
<rect x="201.98" y="337.98" width="25.09" height="3.63" fill="#0000bd"/>
<rect x="226.82" y="337.98" width="15.16" height="3.63" fill="#0000cc"/>
<rect x="241.73" y="337.98" width="30.06" height="3.63" fill="#0000bd"/>
<rect x="271.54" y="337.98" width="20.12" height="3.63" fill="#0000cc"/>
<rect x="291.42" y="337.98" width="120.53" height="3.63" fill="#0000b2"/>
<rect x="161.20" y="341.37" width="31.09" height="3.63" fill="#0000db"/>
<rect x="192.04" y="341.37" width="10.19" height="3.63" fill="#0000cc"/>
<rect x="201.98" y="341.37" width="25.09" height="3.63" fill="#0000bd"/>
<rect x="226.82" y="341.37" width="15.16" height="3.63" fill="#0000cc"/>
<rect x="241.73" y="341.37" width="30.06" height="3.63" fill="#0000bd"/>
<rect x="271.54" y="341.37" width="20.12" height="3.63" fill="#0000cc"/>
<rect x="291.42" y="341.37" width="120.53" height="3.63" fill="#0000b2"/>
<rect x="161.20" y="344.75" width="31.09" height="3.63" fill="#0000db"/>
<rect x="192.04" y="344.75" width="10.19" height="3.63" fill="#0000cc"/>
<rect x="201.98" y="344.75" width="25.09" height="3.63" fill="#0000bd"/>
<rect x="226.82" y="344.75" width="15.16" height="3.63" fill="#0000cc"/>
<rect x="241.73" y="344.75" width="30.06" height="3.63" fill="#0000bd"/>
<rect x="271.54" y="344.75" width="20.12" height="3.63" fill="#0000cc"/>
<rect x="291.42" y="344.75" width="120.53" height="3.63" fill="#0000b2"/>
<rect x="161.20" y="348.14" width="31.09" height="3.63" fill="#0000db"/>
<rect x="192.04" y="348.14" width="10.19" height="3.63" fill="#0000cc"/>
<rect x="201.98" y="348.14" width="25.09" height="3.63" fill="#0000bd"/>
<rect x="226.82" y="348.14" width="15.16" height="3.63" fill="#0000cc"/>
<rect x="241.73" y="348.14" width="30.06" height="3.63" fill="#0000bd"/>
<rect x="271.54" y="348.14" width="20.12" height="3.63" fill="#0000cc"/>
<rect x="291.42" y="348.14" width="120.53" height="3.63" fill="#0000b2"/>
<rect x="161.20" y="351.52" width="31.09" height="3.63" fill="#0000db"/>
<rect x="192.04" y="351.52" width="10.19" height="3.63" fill="#0000cc"/>
<rect x="201.98" y="351.52" width="25.09" height="3.63" fill="#0000bd"/>
<rect x="226.82" y="351.52" width="15.16" height="3.63" fill="#0000cc"/>
<rect x="241.73" y="351.52" width="30.06" height="3.63" fill="#0000bd"/>
<rect x="271.54" y="351.52" width="20.12" height="3.63" fill="#0000cc"/>
<rect x="291.42" y="351.52" width="120.53" height="3.63" fill="#0000b2"/>
<rect x="161.20" y="354.90" width="31.09" height="3.63" fill="#0000db"/>
<rect x="192.04" y="354.90" width="10.19" height="3.63" fill="#0000cc"/>
<rect x="201.98" y="354.90" width="25.09" height="3.63" fill="#0000bd"/>
<rect x="226.82" y="354.90" width="15.16" height="3.63" fill="#0000cc"/>
<rect x="241.73" y="354.90" width="30.06" height="3.63" fill="#0000bd"/>
<rect x="271.54" y="354.90" width="20.12" height="3.63" fill="#0000cc"/>
<rect x="291.42" y="354.90" width="120.53" height="3.63" fill="#0000b2"/>
<rect x="161.20" y="358.29" width="31.09" height="3.63" fill="#0000db"/>
<rect x="192.04" y="358.29" width="10.19" height="3.63" fill="#0000cc"/>
<rect x="201.98" y="358.29" width="25.09" height="3.63" fill="#0000bd"/>
<rect x="226.82" y="358.29" width="15.16" height="3.63" fill="#0000cc"/>
<rect x="241.73" y="358.29" width="30.06" height="3.63" fill="#0000bd"/>
<rect x="271.54" y="358.29" width="20.12" height="3.63" fill="#0000cc"/>
<rect x="291.42" y="358.29" width="120.53" height="3.63" fill="#0000b2"/>
<rect x="161.20" y="361.67" width="31.09" height="3.63" fill="#0000db"/>
<rect x="192.04" y="361.67" width="10.19" height="3.63" fill="#0000cc"/>
<rect x="201.98" y="361.67" width="25.09" height="3.63" fill="#0000bd"/>
<rect x="226.82" y="361.67" width="15.16" height="3.63" fill="#0000cc"/>
<rect x="241.73" y="361.67" width="30.06" height="3.63" fill="#0000bd"/>
<rect x="271.54" y="361.67" width="20.12" height="3.63" fill="#0000cc"/>
<rect x="291.42" y="361.67" width="120.53" height="3.63" fill="#0000b2"/>
<rect x="161.20" y="365.06" width="31.09" height="3.63" fill="#0000db"/>
<rect x="192.04" y="365.06" width="10.19" height="3.63" fill="#0000cc"/>
<rect x="201.98" y="365.06" width="25.09" height="3.63" fill="#0000bd"/>
<rect x="226.82" y="365.06" width="15.16" height="3.63" fill="#0000cc"/>
<rect x="241.73" y="365.06" width="30.06" height="3.63" fill="#0000bd"/>
<rect x="271.54" y="365.06" width="20.12" height="3.63" fill="#0000cc"/>
<rect x="291.42" y="365.06" width="120.53" height="3.63" fill="#0000b2"/>
<rect x="161.20" y="368.44" width="31.09" height="3.63" fill="#0000db"/>
<rect x="192.04" y="368.44" width="10.19" height="3.63" fill="#0000cc"/>
<rect x="201.98" y="368.44" width="25.09" height="3.63" fill="#0000bd"/>
<rect x="226.82" y="368.44" width="15.16" height="3.63" fill="#0000cc"/>
<rect x="241.73" y="368.44" width="30.06" height="3.63" fill="#0000bd"/>
<rect x="271.54" y="368.44" width="20.12" height="3.63" fill="#0000cc"/>
<rect x="291.42" y="368.44" width="120.53" height="3.63" fill="#0000b2"/>
<rect x="161.20" y="371.82" width="31.09" height="3.63" fill="#004dff"/>
<rect x="192.04" y="371.82" width="159.25" height="3.63" fill="#002eff"/>
<rect x="351.04" y="371.82" width="30.06" height="3.63" fill="#004dff"/>
<rect x="380.86" y="371.82" width="31.09" height="3.63" fill="#002eff"/>
<rect x="161.20" y="375.21" width="31.09" height="3.63" fill="#004dff"/>
<rect x="192.04" y="375.21" width="159.25" height="3.63" fill="#002eff"/>
<rect x="351.04" y="375.21" width="30.06" height="3.63" fill="#004dff"/>
<rect x="380.86" y="375.21" width="31.09" height="3.63" fill="#002eff"/>
<rect x="161.20" y="378.59" width="31.09" height="3.63" fill="#0000db"/>
<rect x="192.04" y="378.59" width="10.19" height="3.63" fill="#0000cc"/>
<rect x="201.98" y="378.59" width="25.09" height="3.63" fill="#0000bd"/>
<rect x="226.82" y="378.59" width="15.16" height="3.63" fill="#0000cc"/>
<rect x="241.73" y="378.59" width="30.06" height="3.63" fill="#0000bd"/>
<rect x="271.54" y="378.59" width="140.41" height="3.63" fill="#0000cc"/>
<rect x="161.20" y="381.98" width="31.09" height="3.63" fill="#0000db"/>
<rect x="192.04" y="381.98" width="10.19" height="3.63" fill="#0000cc"/>
<rect x="201.98" y="381.98" width="25.09" height="3.63" fill="#0000bd"/>
<rect x="226.82" y="381.98" width="15.16" height="3.63" fill="#0000cc"/>
<rect x="241.73" y="381.98" width="30.06" height="3.63" fill="#0000bd"/>
<rect x="271.54" y="381.98" width="140.41" height="3.63" fill="#0000cc"/>
<rect x="161.20" y="385.36" width="31.09" height="3.63" fill="#0024ff"/>
<rect x="192.04" y="385.36" width="194.03" height="3.63" fill="#0000e6"/>
<rect x="385.82" y="385.36" width="26.12" height="3.63" fill="#009eff"/>
<rect x="161.20" y="388.74" width="31.09" height="3.63" fill="#0024ff"/>
<rect x="192.04" y="388.74" width="194.03" height="3.63" fill="#0000e6"/>
<rect x="385.82" y="388.74" width="26.12" height="3.63" fill="#009eff"/>
<rect x="161.20" y="392.13" width="31.09" height="3.63" fill="#0000db"/>
<rect x="192.04" y="392.13" width="10.19" height="3.63" fill="#0000cc"/>
<rect x="201.98" y="392.13" width="25.09" height="3.63" fill="#0000bd"/>
<rect x="226.82" y="392.13" width="15.16" height="3.63" fill="#0000cc"/>
<rect x="241.73" y="392.13" width="30.06" height="3.63" fill="#0000bd"/>
<rect x="271.54" y="392.13" width="140.41" height="3.63" fill="#0000cc"/>
<rect x="161.20" y="395.51" width="31.09" height="3.63" fill="#0000db"/>
<rect x="192.04" y="395.51" width="10.19" height="3.63" fill="#0000cc"/>
<rect x="201.98" y="395.51" width="25.09" height="3.63" fill="#0000bd"/>
<rect x="226.82" y="395.51" width="15.16" height="3.63" fill="#0000cc"/>
<rect x="241.73" y="395.51" width="30.06" height="3.63" fill="#0000bd"/>
<rect x="271.54" y="395.51" width="140.41" height="3.63" fill="#0000cc"/>
<rect x="161.20" y="398.90" width="31.09" height="3.63" fill="#0000db"/>
<rect x="192.04" y="398.90" width="10.19" height="3.63" fill="#0000cc"/>
<rect x="201.98" y="398.90" width="25.09" height="3.63" fill="#0000bd"/>
<rect x="226.82" y="398.90" width="15.16" height="3.63" fill="#0000cc"/>
<rect x="241.73" y="398.90" width="30.06" height="3.63" fill="#0000bd"/>
<rect x="271.54" y="398.90" width="140.41" height="3.63" fill="#0000cc"/>
<rect x="161.20" y="402.28" width="31.09" height="3.63" fill="#0000db"/>
<rect x="192.04" y="402.28" width="10.19" height="3.63" fill="#0000cc"/>
<rect x="201.98" y="402.28" width="25.09" height="3.63" fill="#0000bd"/>
<rect x="226.82" y="402.28" width="15.16" height="3.63" fill="#0000cc"/>
<rect x="241.73" y="402.28" width="30.06" height="3.63" fill="#0000bd"/>
<rect x="271.54" y="402.28" width="140.41" height="3.63" fill="#0000cc"/>
<rect x="161.20" y="405.66" width="31.09" height="3.63" fill="#0000db"/>
<rect x="192.04" y="405.66" width="10.19" height="3.63" fill="#0000cc"/>
<rect x="201.98" y="405.66" width="25.09" height="3.63" fill="#0000bd"/>
<rect x="226.82" y="405.66" width="15.16" height="3.63" fill="#0000cc"/>
<rect x="241.73" y="405.66" width="30.06" height="3.63" fill="#0000bd"/>
<rect x="271.54" y="405.66" width="140.41" height="3.63" fill="#0000cc"/>
<rect x="161.20" y="409.05" width="31.09" height="3.63" fill="#0000db"/>
<rect x="192.04" y="409.05" width="10.19" height="3.63" fill="#0000cc"/>
<rect x="201.98" y="409.05" width="25.09" height="3.63" fill="#0000bd"/>
<rect x="226.82" y="409.05" width="15.16" height="3.63" fill="#0000cc"/>
<rect x="241.73" y="409.05" width="30.06" height="3.63" fill="#0000bd"/>
<rect x="271.54" y="409.05" width="140.41" height="3.63" fill="#0000cc"/>
<rect x="161.20" y="412.43" width="31.09" height="3.63" fill="#0000db"/>
<rect x="192.04" y="412.43" width="10.19" height="3.63" fill="#0000cc"/>
<rect x="201.98" y="412.43" width="25.09" height="3.63" fill="#0000bd"/>
<rect x="226.82" y="412.43" width="15.16" height="3.63" fill="#0000cc"/>
<rect x="241.73" y="412.43" width="30.06" height="3.63" fill="#0000bd"/>
<rect x="271.54" y="412.43" width="140.41" height="3.63" fill="#0000cc"/>
<rect x="161.20" y="415.82" width="31.09" height="9.63" fill="#0000db"/>
<rect x="192.04" y="415.82" width="10.19" height="9.63" fill="#0000cc"/>
<rect x="201.98" y="415.82" width="25.09" height="9.63" fill="#0000bd"/>
<rect x="226.82" y="415.82" width="15.16" height="9.63" fill="#0000cc"/>
<rect x="241.73" y="415.82" width="30.06" height="9.63" fill="#0000bd"/>
<rect x="271.54" y="415.82" width="140.41" height="9.63" fill="#0000cc"/>
<ellipse cx="293.00" cy="374.80" rx="8.00" ry="1.80" fill="#00b2ff"/>
<ellipse cx="241.50" cy="392.00" rx="2.00" ry="3.00" fill="#00e5ff"/>
<ellipse cx="180.50" cy="408.00" rx="3.50" ry="1.50" fill="#00b2ff"/>
<ellipse cx="345.50" cy="408.00" rx="3.00" ry="1.50" fill="#00b2ff"/>
<ellipse cx="380.00" cy="408.00" rx="3.50" ry="1.50" fill="#00b2ff"/>
<ellipse cx="401.00" cy="408.00" rx="2.50" ry="1.50" fill="#0061ff"/>
<ellipse cx="296.00" cy="408.00" rx="3.00" ry="1.60" fill="#00f0ff"/>
<ellipse cx="397.00" cy="388.00" rx="9.00" ry="3.50" fill="#00f0ff"/>
<ellipse cx="330.00" cy="390.00" rx="6.00" ry="3.00" fill="#004dff"/>
</g></g>
<clipPath id="k25"><rect x="192.00" y="334.60" width="11.00" height="84.60"/></clipPath>
<filter id="k26" x="-10%" y="-10%" width="120%" height="120%" color-interpolation-filters="sRGB"><feGaussianBlur stdDeviation="0.9 1.0"/></filter>
<g clip-path="url(#k25)">
<g filter="url(#k26)">
<rect x="186.00" y="328.60" width="23.25" height="7.10" fill="#004dff"/>
<rect x="186.00" y="335.45" width="23.25" height="1.10" fill="#004dff"/>
<rect x="186.00" y="336.29" width="23.25" height="1.10" fill="#004dff"/>
<rect x="186.00" y="337.14" width="23.25" height="1.10" fill="#004dff"/>
<rect x="186.00" y="337.98" width="23.25" height="1.10" fill="#004dff"/>
<rect x="186.00" y="338.83" width="23.25" height="1.10" fill="#004dff"/>
<rect x="186.00" y="339.68" width="23.25" height="1.10" fill="#004dff"/>
<rect x="186.00" y="340.52" width="23.25" height="1.10" fill="#004dff"/>
<rect x="186.00" y="341.37" width="23.25" height="1.10" fill="#004dff"/>
<rect x="186.00" y="342.21" width="23.25" height="1.10" fill="#004dff"/>
<rect x="186.00" y="343.06" width="23.25" height="1.10" fill="#004dff"/>
<rect x="186.00" y="343.91" width="23.25" height="1.10" fill="#004dff"/>
<rect x="186.00" y="344.75" width="23.25" height="1.10" fill="#004dff"/>
<rect x="186.00" y="345.60" width="23.25" height="1.10" fill="#004dff"/>
<rect x="186.00" y="346.44" width="23.25" height="1.10" fill="#004dff"/>
<rect x="186.00" y="347.29" width="23.25" height="1.10" fill="#004dff"/>
<rect x="186.00" y="348.14" width="23.25" height="1.10" fill="#00a8ff"/>
<rect x="186.00" y="348.98" width="23.25" height="1.10" fill="#00a8ff"/>
<rect x="186.00" y="349.83" width="23.25" height="1.10" fill="#00a8ff"/>
<rect x="186.00" y="350.67" width="23.25" height="1.10" fill="#00a8ff"/>
<rect x="186.00" y="351.52" width="23.25" height="1.10" fill="#00a8ff"/>
<rect x="186.00" y="352.37" width="23.25" height="1.10" fill="#00a8ff"/>
<rect x="186.00" y="353.21" width="23.25" height="1.10" fill="#00a8ff"/>
<rect x="186.00" y="354.06" width="23.25" height="1.10" fill="#00a8ff"/>
<rect x="186.00" y="354.90" width="23.25" height="1.10" fill="#00a8ff"/>
<rect x="186.00" y="355.75" width="23.25" height="1.10" fill="#00a8ff"/>
<rect x="186.00" y="356.60" width="23.25" height="1.10" fill="#00a8ff"/>
<rect x="186.00" y="357.44" width="23.25" height="1.10" fill="#00a8ff"/>
<rect x="186.00" y="358.29" width="23.25" height="1.10" fill="#004dff"/>
<rect x="186.00" y="359.13" width="23.25" height="1.10" fill="#004dff"/>
<rect x="186.00" y="359.98" width="23.25" height="1.10" fill="#004dff"/>
<rect x="186.00" y="360.83" width="23.25" height="1.10" fill="#004dff"/>
<rect x="186.00" y="361.67" width="23.25" height="1.10" fill="#004dff"/>
<rect x="186.00" y="362.52" width="23.25" height="1.10" fill="#004dff"/>
<rect x="186.00" y="363.36" width="23.25" height="1.10" fill="#004dff"/>
<rect x="186.00" y="364.21" width="23.25" height="1.10" fill="#004dff"/>
<rect x="186.00" y="365.06" width="23.25" height="1.10" fill="#004dff"/>
<rect x="186.00" y="365.90" width="23.25" height="1.10" fill="#004dff"/>
<rect x="186.00" y="366.75" width="23.25" height="1.10" fill="#004dff"/>
<rect x="186.00" y="367.59" width="23.25" height="1.10" fill="#004dff"/>
<rect x="186.00" y="368.44" width="23.25" height="1.10" fill="#004dff"/>
<rect x="186.00" y="369.29" width="23.25" height="1.10" fill="#004dff"/>
<rect x="186.00" y="370.13" width="23.25" height="1.10" fill="#004dff"/>
<rect x="186.00" y="370.98" width="23.25" height="1.10" fill="#004dff"/>
<rect x="186.00" y="371.82" width="23.25" height="1.10" fill="#00ffff"/>
<rect x="186.00" y="372.67" width="23.25" height="1.10" fill="#00ffff"/>
<rect x="186.00" y="373.52" width="23.25" height="1.10" fill="#00ffff"/>
<rect x="186.00" y="374.36" width="23.25" height="1.10" fill="#00ffff"/>
<rect x="186.00" y="375.21" width="23.25" height="1.10" fill="#00ffff"/>
<rect x="186.00" y="376.05" width="23.25" height="1.10" fill="#00ffff"/>
<rect x="186.00" y="376.90" width="23.25" height="1.10" fill="#001aff"/>
<rect x="186.00" y="377.75" width="23.25" height="1.10" fill="#001aff"/>
<rect x="186.00" y="378.59" width="23.25" height="1.10" fill="#001aff"/>
<rect x="186.00" y="379.44" width="23.25" height="1.10" fill="#001aff"/>
<rect x="186.00" y="380.28" width="23.25" height="1.10" fill="#001aff"/>
<rect x="186.00" y="381.13" width="23.25" height="1.10" fill="#001aff"/>
<rect x="186.00" y="381.98" width="23.25" height="1.10" fill="#001aff"/>
<rect x="186.00" y="382.82" width="23.25" height="1.10" fill="#001aff"/>
<rect x="186.00" y="383.67" width="23.25" height="1.10" fill="#001aff"/>
<rect x="186.00" y="384.51" width="23.25" height="1.10" fill="#001aff"/>
<rect x="186.00" y="385.36" width="23.25" height="1.10" fill="#80ff80"/>
<rect x="186.00" y="386.21" width="23.25" height="1.10" fill="#80ff80"/>
<rect x="186.00" y="387.05" width="23.25" height="1.10" fill="#80ff80"/>
<rect x="186.00" y="387.90" width="23.25" height="1.10" fill="#80ff80"/>
<rect x="186.00" y="388.74" width="23.25" height="1.10" fill="#80ff80"/>
<rect x="186.00" y="389.59" width="23.25" height="1.10" fill="#80ff80"/>
<rect x="186.00" y="390.44" width="23.25" height="1.10" fill="#80ff80"/>
<rect x="186.00" y="391.28" width="23.25" height="1.10" fill="#80ff80"/>
<rect x="186.00" y="392.13" width="23.25" height="1.10" fill="#80ff80"/>
<rect x="186.00" y="392.97" width="23.25" height="1.10" fill="#80ff80"/>
<rect x="186.00" y="393.82" width="23.25" height="1.10" fill="#80ff80"/>
<rect x="186.00" y="394.67" width="23.25" height="1.10" fill="#80ff80"/>
<rect x="186.00" y="395.51" width="23.25" height="1.10" fill="#80ff80"/>
<rect x="186.00" y="396.36" width="23.25" height="1.10" fill="#80ff80"/>
<rect x="186.00" y="397.20" width="23.25" height="1.10" fill="#80ff80"/>
<rect x="186.00" y="398.05" width="23.25" height="1.10" fill="#0000fa"/>
<rect x="186.00" y="398.90" width="23.25" height="1.10" fill="#0000fa"/>
<rect x="186.00" y="399.74" width="23.25" height="1.10" fill="#0000fa"/>
<rect x="186.00" y="400.59" width="23.25" height="1.10" fill="#0000fa"/>
<rect x="186.00" y="401.43" width="23.25" height="1.10" fill="#0000fa"/>
<rect x="186.00" y="402.28" width="23.25" height="1.10" fill="#0000fa"/>
<rect x="186.00" y="403.13" width="23.25" height="1.10" fill="#0000fa"/>
<rect x="186.00" y="403.97" width="23.25" height="1.10" fill="#0000fa"/>
<rect x="186.00" y="404.82" width="23.25" height="1.10" fill="#0000fa"/>
<rect x="186.00" y="405.66" width="23.25" height="1.10" fill="#0000fa"/>
<rect x="186.00" y="406.51" width="23.25" height="1.10" fill="#0000fa"/>
<rect x="186.00" y="407.36" width="23.25" height="1.10" fill="#0000fa"/>
<rect x="186.00" y="408.20" width="23.25" height="1.10" fill="#0000fa"/>
<rect x="186.00" y="409.05" width="23.25" height="1.10" fill="#0000fa"/>
<rect x="186.00" y="409.89" width="23.25" height="1.10" fill="#0000fa"/>
<rect x="186.00" y="410.74" width="23.25" height="1.10" fill="#0000fa"/>
<rect x="186.00" y="411.59" width="23.25" height="1.10" fill="#0000fa"/>
<rect x="186.00" y="412.43" width="23.25" height="1.10" fill="#0000fa"/>
<rect x="186.00" y="413.28" width="23.25" height="1.10" fill="#0000fa"/>
<rect x="186.00" y="414.12" width="23.25" height="1.10" fill="#0000fa"/>
<rect x="186.00" y="414.97" width="23.25" height="1.10" fill="#0000fa"/>
<rect x="186.00" y="415.82" width="23.25" height="1.10" fill="#0000fa"/>
<rect x="186.00" y="416.66" width="23.25" height="1.10" fill="#0000fa"/>
<rect x="186.00" y="417.51" width="23.25" height="1.10" fill="#0000fa"/>
<rect x="186.00" y="418.35" width="23.25" height="7.10" fill="#0000fa"/>
<ellipse cx="197.50" cy="391.50" rx="5.50" ry="5.00" fill="#faff05"/>
<ellipse cx="197.50" cy="391.50" rx="4.20" ry="3.60" fill="#ff3800"/>
<ellipse cx="196.80" cy="391.00" rx="2.40" ry="2.00" fill="#a80000"/>
<ellipse cx="195.00" cy="408.00" rx="2.50" ry="1.80" fill="#00e5ff"/>
</g></g>
<clipPath id="k27"><rect x="226.00" y="334.60" width="14.00" height="84.60"/></clipPath>
<filter id="k28" x="-10%" y="-10%" width="120%" height="120%" color-interpolation-filters="sRGB"><feGaussianBlur stdDeviation="0.9 1.0"/></filter>
<g clip-path="url(#k27)">
<g filter="url(#k28)">
<rect x="220.00" y="328.60" width="26.25" height="7.10" fill="#000fff"/>
<rect x="220.00" y="335.45" width="26.25" height="1.10" fill="#000fff"/>
<rect x="220.00" y="336.29" width="26.25" height="1.10" fill="#000fff"/>
<rect x="220.00" y="337.14" width="26.25" height="1.10" fill="#000fff"/>
<rect x="220.00" y="337.98" width="26.25" height="1.10" fill="#000fff"/>
<rect x="220.00" y="338.83" width="26.25" height="1.10" fill="#000fff"/>
<rect x="220.00" y="339.68" width="26.25" height="1.10" fill="#000fff"/>
<rect x="220.00" y="340.52" width="26.25" height="1.10" fill="#000fff"/>
<rect x="220.00" y="341.37" width="26.25" height="1.10" fill="#000fff"/>
<rect x="220.00" y="342.21" width="26.25" height="1.10" fill="#000fff"/>
<rect x="220.00" y="343.06" width="26.25" height="1.10" fill="#000fff"/>
<rect x="220.00" y="343.91" width="26.25" height="1.10" fill="#000fff"/>
<rect x="220.00" y="344.75" width="26.25" height="1.10" fill="#000fff"/>
<rect x="220.00" y="345.60" width="26.25" height="1.10" fill="#0038ff"/>
<rect x="220.00" y="346.44" width="26.25" height="1.10" fill="#0038ff"/>
<rect x="220.00" y="347.29" width="26.25" height="1.10" fill="#0038ff"/>
<rect x="220.00" y="348.14" width="26.25" height="1.10" fill="#0038ff"/>
<rect x="220.00" y="348.98" width="26.25" height="1.10" fill="#0005ff"/>
<rect x="220.00" y="349.83" width="26.25" height="1.10" fill="#0005ff"/>
<rect x="220.00" y="350.67" width="26.25" height="1.10" fill="#0005ff"/>
<rect x="220.00" y="351.52" width="26.25" height="1.10" fill="#0005ff"/>
<rect x="220.00" y="352.37" width="26.25" height="1.10" fill="#0005ff"/>
<rect x="220.00" y="353.21" width="26.25" height="1.10" fill="#0005ff"/>
<rect x="220.00" y="354.06" width="26.25" height="1.10" fill="#0005ff"/>
<rect x="220.00" y="354.90" width="26.25" height="1.10" fill="#0005ff"/>
<rect x="220.00" y="355.75" width="26.25" height="1.10" fill="#0038ff"/>
<rect x="220.00" y="356.60" width="26.25" height="1.10" fill="#0038ff"/>
<rect x="220.00" y="357.44" width="26.25" height="1.10" fill="#0038ff"/>
<rect x="220.00" y="358.29" width="26.25" height="1.10" fill="#0038ff"/>
<rect x="220.00" y="359.13" width="26.25" height="1.10" fill="#0005ff"/>
<rect x="220.00" y="359.98" width="26.25" height="1.10" fill="#0005ff"/>
<rect x="220.00" y="360.83" width="26.25" height="1.10" fill="#0005ff"/>
<rect x="220.00" y="361.67" width="26.25" height="1.10" fill="#0005ff"/>
<rect x="220.00" y="362.52" width="26.25" height="1.10" fill="#0005ff"/>
<rect x="220.00" y="363.36" width="26.25" height="1.10" fill="#0005ff"/>
<rect x="220.00" y="364.21" width="26.25" height="1.10" fill="#0005ff"/>
<rect x="220.00" y="365.06" width="26.25" height="1.10" fill="#0005ff"/>
<rect x="220.00" y="365.90" width="26.25" height="1.10" fill="#0005ff"/>
<rect x="220.00" y="366.75" width="26.25" height="1.10" fill="#0005ff"/>
<rect x="220.00" y="367.59" width="26.25" height="1.10" fill="#0005ff"/>
<rect x="220.00" y="368.44" width="26.25" height="1.10" fill="#0005ff"/>
<rect x="220.00" y="369.29" width="26.25" height="1.10" fill="#0005ff"/>
<rect x="220.00" y="370.13" width="26.25" height="1.10" fill="#0061ff"/>
<rect x="220.00" y="370.98" width="26.25" height="1.10" fill="#0061ff"/>
<rect x="220.00" y="371.82" width="26.25" height="1.10" fill="#0061ff"/>
<rect x="220.00" y="372.67" width="26.25" height="1.10" fill="#0061ff"/>
<rect x="220.00" y="373.52" width="26.25" height="1.10" fill="#0061ff"/>
<rect x="220.00" y="374.36" width="26.25" height="1.10" fill="#0061ff"/>
<rect x="220.00" y="375.21" width="26.25" height="1.10" fill="#0061ff"/>
<rect x="220.00" y="376.05" width="26.25" height="1.10" fill="#0061ff"/>
<rect x="220.00" y="376.90" width="26.25" height="1.10" fill="#0061ff"/>
<rect x="220.00" y="377.75" width="26.25" height="1.10" fill="#0000fa"/>
<rect x="220.00" y="378.59" width="26.25" height="1.10" fill="#0000fa"/>
<rect x="220.00" y="379.44" width="26.25" height="1.10" fill="#0000fa"/>
<rect x="220.00" y="380.28" width="26.25" height="1.10" fill="#0000fa"/>
<rect x="220.00" y="381.13" width="26.25" height="1.10" fill="#0000fa"/>
<rect x="220.00" y="381.98" width="26.25" height="1.10" fill="#0000fa"/>
<rect x="220.00" y="382.82" width="26.25" height="1.10" fill="#0000fa"/>
<rect x="220.00" y="383.67" width="26.25" height="1.10" fill="#0000fa"/>
<rect x="220.00" y="384.51" width="26.25" height="1.10" fill="#0000fa"/>
<rect x="220.00" y="385.36" width="26.25" height="1.10" fill="#0000fa"/>
<rect x="220.00" y="386.21" width="26.25" height="1.10" fill="#4dffb2"/>
<rect x="220.00" y="387.05" width="26.25" height="1.10" fill="#4dffb2"/>
<rect x="220.00" y="387.90" width="26.25" height="1.10" fill="#4dffb2"/>
<rect x="220.00" y="388.74" width="26.25" height="1.10" fill="#4dffb2"/>
<rect x="220.00" y="389.59" width="26.25" height="1.10" fill="#4dffb2"/>
<rect x="220.00" y="390.44" width="26.25" height="1.10" fill="#4dffb2"/>
<rect x="220.00" y="391.28" width="26.25" height="1.10" fill="#4dffb2"/>
<rect x="220.00" y="392.13" width="26.25" height="1.10" fill="#4dffb2"/>
<rect x="220.00" y="392.97" width="26.25" height="1.10" fill="#4dffb2"/>
<rect x="220.00" y="393.82" width="26.25" height="1.10" fill="#4dffb2"/>
<rect x="220.00" y="394.67" width="26.25" height="1.10" fill="#4dffb2"/>
<rect x="220.00" y="395.51" width="26.25" height="1.10" fill="#4dffb2"/>
<rect x="220.00" y="396.36" width="26.25" height="1.10" fill="#4dffb2"/>
<rect x="220.00" y="397.20" width="26.25" height="1.10" fill="#0000f0"/>
<rect x="220.00" y="398.05" width="26.25" height="1.10" fill="#0000f0"/>
<rect x="220.00" y="398.90" width="26.25" height="1.10" fill="#0000f0"/>
<rect x="220.00" y="399.74" width="26.25" height="1.10" fill="#0000f0"/>
<rect x="220.00" y="400.59" width="26.25" height="1.10" fill="#0000f0"/>
<rect x="220.00" y="401.43" width="26.25" height="1.10" fill="#0000f0"/>
<rect x="220.00" y="402.28" width="26.25" height="1.10" fill="#0000f0"/>
<rect x="220.00" y="403.13" width="26.25" height="1.10" fill="#0000f0"/>
<rect x="220.00" y="403.97" width="26.25" height="1.10" fill="#0000f0"/>
<rect x="220.00" y="404.82" width="26.25" height="1.10" fill="#0000f0"/>
<rect x="220.00" y="405.66" width="26.25" height="1.10" fill="#0000f0"/>
<rect x="220.00" y="406.51" width="26.25" height="1.10" fill="#0000f0"/>
<rect x="220.00" y="407.36" width="26.25" height="1.10" fill="#0000f0"/>
<rect x="220.00" y="408.20" width="26.25" height="1.10" fill="#0000f0"/>
<rect x="220.00" y="409.05" width="26.25" height="1.10" fill="#0000f0"/>
<rect x="220.00" y="409.89" width="26.25" height="1.10" fill="#0000f0"/>
<rect x="220.00" y="410.74" width="26.25" height="1.10" fill="#0000f0"/>
<rect x="220.00" y="411.59" width="26.25" height="1.10" fill="#0000f0"/>
<rect x="220.00" y="412.43" width="26.25" height="1.10" fill="#0000f0"/>
<rect x="220.00" y="413.28" width="26.25" height="1.10" fill="#0000f0"/>
<rect x="220.00" y="414.12" width="26.25" height="1.10" fill="#0000f0"/>
<rect x="220.00" y="414.97" width="26.25" height="1.10" fill="#0000f0"/>
<rect x="220.00" y="415.82" width="26.25" height="1.10" fill="#0000f0"/>
<rect x="220.00" y="416.66" width="26.25" height="1.10" fill="#0000f0"/>
<rect x="220.00" y="417.51" width="26.25" height="1.10" fill="#0000f0"/>
<rect x="220.00" y="418.35" width="26.25" height="7.10" fill="#0000f0"/>
<ellipse cx="233.00" cy="392.00" rx="7.00" ry="4.20" fill="#faff05"/>
<ellipse cx="233.50" cy="392.50" rx="5.00" ry="3.00" fill="#ff3800"/>
<ellipse cx="234.50" cy="393.00" rx="3.00" ry="1.80" fill="#a80000"/>
</g></g>
<clipPath id="k29"><rect x="272.00" y="334.60" width="17.00" height="84.60"/></clipPath>
<filter id="k30" x="-10%" y="-10%" width="120%" height="120%" color-interpolation-filters="sRGB"><feGaussianBlur stdDeviation="0.9 1.0"/></filter>
<g clip-path="url(#k29)">
<g filter="url(#k30)">
<rect x="266.00" y="328.60" width="29.25" height="7.10" fill="#0075ff"/>
<rect x="266.00" y="335.45" width="29.25" height="1.10" fill="#0075ff"/>
<rect x="266.00" y="336.29" width="29.25" height="1.10" fill="#0075ff"/>
<rect x="266.00" y="337.14" width="29.25" height="1.10" fill="#0075ff"/>
<rect x="266.00" y="337.98" width="29.25" height="1.10" fill="#0075ff"/>
<rect x="266.00" y="338.83" width="29.25" height="1.10" fill="#0075ff"/>
<rect x="266.00" y="339.68" width="29.25" height="1.10" fill="#0075ff"/>
<rect x="266.00" y="340.52" width="29.25" height="1.10" fill="#0075ff"/>
<rect x="266.00" y="341.37" width="29.25" height="1.10" fill="#0024ff"/>
<rect x="266.00" y="342.21" width="29.25" height="1.10" fill="#0024ff"/>
<rect x="266.00" y="343.06" width="29.25" height="1.10" fill="#0024ff"/>
<rect x="266.00" y="343.91" width="29.25" height="1.10" fill="#0024ff"/>
<rect x="266.00" y="344.75" width="29.25" height="1.10" fill="#0024ff"/>
<rect x="266.00" y="345.60" width="29.25" height="1.10" fill="#0024ff"/>
<rect x="266.00" y="346.44" width="29.25" height="1.10" fill="#0024ff"/>
<rect x="266.00" y="347.29" width="29.25" height="1.10" fill="#0024ff"/>
<rect x="266.00" y="348.14" width="29.25" height="1.10" fill="#0024ff"/>
<rect x="266.00" y="348.98" width="29.25" height="1.10" fill="#0024ff"/>
<rect x="266.00" y="349.83" width="29.25" height="1.10" fill="#0024ff"/>
<rect x="266.00" y="350.67" width="29.25" height="1.10" fill="#0024ff"/>
<rect x="266.00" y="351.52" width="29.25" height="1.10" fill="#0024ff"/>
<rect x="266.00" y="352.37" width="29.25" height="1.10" fill="#0024ff"/>
<rect x="266.00" y="353.21" width="29.25" height="1.10" fill="#0024ff"/>
<rect x="266.00" y="354.06" width="29.25" height="1.10" fill="#0024ff"/>
<rect x="266.00" y="354.90" width="29.25" height="1.10" fill="#0024ff"/>
<rect x="266.00" y="355.75" width="29.25" height="1.10" fill="#0024ff"/>
<rect x="266.00" y="356.60" width="29.25" height="1.10" fill="#0024ff"/>
<rect x="266.00" y="357.44" width="29.25" height="1.10" fill="#0024ff"/>
<rect x="266.00" y="358.29" width="29.25" height="1.10" fill="#0024ff"/>
<rect x="266.00" y="359.13" width="29.25" height="1.10" fill="#0024ff"/>
<rect x="266.00" y="359.98" width="29.25" height="1.10" fill="#0024ff"/>
<rect x="266.00" y="360.83" width="29.25" height="1.10" fill="#0024ff"/>
<rect x="266.00" y="361.67" width="29.25" height="1.10" fill="#0061ff"/>
<rect x="266.00" y="362.52" width="29.25" height="1.10" fill="#0061ff"/>
<rect x="266.00" y="363.36" width="29.25" height="1.10" fill="#0061ff"/>
<rect x="266.00" y="364.21" width="29.25" height="1.10" fill="#0061ff"/>
<rect x="266.00" y="365.06" width="29.25" height="1.10" fill="#0061ff"/>
<rect x="266.00" y="365.90" width="29.25" height="1.10" fill="#0024ff"/>
<rect x="266.00" y="366.75" width="29.25" height="1.10" fill="#0024ff"/>
<rect x="266.00" y="367.59" width="29.25" height="1.10" fill="#0024ff"/>
<rect x="266.00" y="368.44" width="29.25" height="1.10" fill="#0024ff"/>
<rect x="266.00" y="369.29" width="29.25" height="1.10" fill="#0024ff"/>
<rect x="266.00" y="370.13" width="29.25" height="1.10" fill="#0024ff"/>
<rect x="266.00" y="370.98" width="29.25" height="1.10" fill="#e5ff1a"/>
<rect x="266.00" y="371.82" width="29.25" height="1.10" fill="#e5ff1a"/>
<rect x="266.00" y="372.67" width="29.25" height="1.10" fill="#e5ff1a"/>
<rect x="266.00" y="373.52" width="29.25" height="1.10" fill="#e5ff1a"/>
<rect x="266.00" y="374.36" width="29.25" height="1.10" fill="#e5ff1a"/>
<rect x="266.00" y="375.21" width="29.25" height="1.10" fill="#e5ff1a"/>
<rect x="266.00" y="376.05" width="29.25" height="1.10" fill="#e5ff1a"/>
<rect x="266.00" y="376.90" width="29.25" height="1.10" fill="#e5ff1a"/>
<rect x="266.00" y="377.75" width="29.25" height="1.10" fill="#000fff"/>
<rect x="266.00" y="378.59" width="29.25" height="1.10" fill="#000fff"/>
<rect x="266.00" y="379.44" width="29.25" height="1.10" fill="#000fff"/>
<rect x="266.00" y="380.28" width="29.25" height="1.10" fill="#000fff"/>
<rect x="266.00" y="381.13" width="29.25" height="1.10" fill="#000fff"/>
<rect x="266.00" y="381.98" width="29.25" height="1.10" fill="#000fff"/>
<rect x="266.00" y="382.82" width="29.25" height="1.10" fill="#000fff"/>
<rect x="266.00" y="383.67" width="29.25" height="1.10" fill="#000fff"/>
<rect x="266.00" y="384.51" width="29.25" height="1.10" fill="#000fff"/>
<rect x="266.00" y="385.36" width="29.25" height="1.10" fill="#00b2ff"/>
<rect x="266.00" y="386.21" width="29.25" height="1.10" fill="#00b2ff"/>
<rect x="266.00" y="387.05" width="29.25" height="1.10" fill="#00b2ff"/>
<rect x="266.00" y="387.90" width="29.25" height="1.10" fill="#00b2ff"/>
<rect x="266.00" y="388.74" width="29.25" height="1.10" fill="#00b2ff"/>
<rect x="266.00" y="389.59" width="29.25" height="1.10" fill="#00b2ff"/>
<rect x="266.00" y="390.44" width="29.25" height="1.10" fill="#00b2ff"/>
<rect x="266.00" y="391.28" width="29.25" height="1.10" fill="#00b2ff"/>
<rect x="266.00" y="392.13" width="29.25" height="1.10" fill="#00b2ff"/>
<rect x="266.00" y="392.97" width="29.25" height="1.10" fill="#00b2ff"/>
<rect x="266.00" y="393.82" width="29.25" height="1.10" fill="#00b2ff"/>
<rect x="266.00" y="394.67" width="29.25" height="1.10" fill="#00b2ff"/>
<rect x="266.00" y="395.51" width="29.25" height="1.10" fill="#00b2ff"/>
<rect x="266.00" y="396.36" width="29.25" height="1.10" fill="#000fff"/>
<rect x="266.00" y="397.20" width="29.25" height="1.10" fill="#000fff"/>
<rect x="266.00" y="398.05" width="29.25" height="1.10" fill="#000fff"/>
<rect x="266.00" y="398.90" width="29.25" height="1.10" fill="#000fff"/>
<rect x="266.00" y="399.74" width="29.25" height="1.10" fill="#000fff"/>
<rect x="266.00" y="400.59" width="29.25" height="1.10" fill="#000fff"/>
<rect x="266.00" y="401.43" width="29.25" height="1.10" fill="#000fff"/>
<rect x="266.00" y="402.28" width="29.25" height="1.10" fill="#000fff"/>
<rect x="266.00" y="403.13" width="29.25" height="1.10" fill="#000fff"/>
<rect x="266.00" y="403.97" width="29.25" height="1.10" fill="#000fff"/>
<rect x="266.00" y="404.82" width="29.25" height="1.10" fill="#000fff"/>
<rect x="266.00" y="405.66" width="29.25" height="1.10" fill="#000fff"/>
<rect x="266.00" y="406.51" width="29.25" height="1.10" fill="#000fff"/>
<rect x="266.00" y="407.36" width="29.25" height="1.10" fill="#000fff"/>
<rect x="266.00" y="408.20" width="29.25" height="1.10" fill="#000fff"/>
<rect x="266.00" y="409.05" width="29.25" height="1.10" fill="#000fff"/>
<rect x="266.00" y="409.89" width="29.25" height="1.10" fill="#000fff"/>
<rect x="266.00" y="410.74" width="29.25" height="1.10" fill="#000fff"/>
<rect x="266.00" y="411.59" width="29.25" height="1.10" fill="#000fff"/>
<rect x="266.00" y="412.43" width="29.25" height="1.10" fill="#000fff"/>
<rect x="266.00" y="413.28" width="29.25" height="1.10" fill="#000fff"/>
<rect x="266.00" y="414.12" width="29.25" height="1.10" fill="#000fff"/>
<rect x="266.00" y="414.97" width="29.25" height="1.10" fill="#000fff"/>
<rect x="266.00" y="415.82" width="29.25" height="1.10" fill="#000fff"/>
<rect x="266.00" y="416.66" width="29.25" height="1.10" fill="#000fff"/>
<rect x="266.00" y="417.51" width="29.25" height="1.10" fill="#000fff"/>
<rect x="266.00" y="418.35" width="29.25" height="7.10" fill="#000fff"/>
<ellipse cx="280.50" cy="374.50" rx="8.50" ry="3.60" fill="#ffc700"/>
<ellipse cx="280.50" cy="374.50" rx="6.50" ry="2.60" fill="#ff0f00"/>
<ellipse cx="280.50" cy="374.50" rx="4.00" ry="1.50" fill="#9e0000"/>
<ellipse cx="281.00" cy="390.50" rx="7.50" ry="5.00" fill="#4dffb2"/>
<ellipse cx="282.00" cy="390.00" rx="4.50" ry="3.20" fill="#e5ff1a"/>
<ellipse cx="283.00" cy="389.50" rx="2.20" ry="1.60" fill="#ff9e00"/>
<ellipse cx="280.00" cy="408.00" rx="3.00" ry="1.80" fill="#05fffa"/>
</g></g>
<text x="286.45" y="331.70" font-family="Liberation Sans, sans-serif" font-size="9" font-weight="bold" fill="#000" text-anchor="middle">(g) SEB output</text>
<text transform="translate(163.80,407.01) scale(1,1.15)" font-family="Liberation Sans, sans-serif" font-size="8.0" fill="#262626" text-anchor="end">10</text>
<text transform="translate(163.80,389.75) scale(1,1.15)" font-family="Liberation Sans, sans-serif" font-size="8.0" fill="#262626" text-anchor="end">20</text>
<text transform="translate(163.80,372.48) scale(1,1.15)" font-family="Liberation Sans, sans-serif" font-size="8.0" fill="#262626" text-anchor="end">30</text>
<text transform="translate(163.80,355.22) scale(1,1.15)" font-family="Liberation Sans, sans-serif" font-size="8.0" fill="#262626" text-anchor="end">40</text>
<text transform="translate(163.80,337.95) scale(1,1.15)" font-family="Liberation Sans, sans-serif" font-size="8.0" fill="#262626" text-anchor="end">50</text>
<text transform="translate(149.40,371.10) rotate(-90)" x="0" y="0" font-family="Liberation Sans, sans-serif" font-size="9.0" fill="#262626" text-anchor="middle">Frequency (Hz)</text>
<text transform="translate(201.27,431.55) scale(1,1.15)" font-family="Liberation Sans, sans-serif" font-size="8.0" fill="#262626" text-anchor="middle">0.5</text>
<text transform="translate(235.34,431.55) scale(1,1.15)" font-family="Liberation Sans, sans-serif" font-size="8.0" fill="#262626" text-anchor="middle">1</text>
<text transform="translate(269.41,431.55) scale(1,1.15)" font-family="Liberation Sans, sans-serif" font-size="8.0" fill="#262626" text-anchor="middle">1.5</text>
<text transform="translate(303.49,431.55) scale(1,1.15)" font-family="Liberation Sans, sans-serif" font-size="8.0" fill="#262626" text-anchor="middle">2</text>
<text transform="translate(337.56,431.55) scale(1,1.15)" font-family="Liberation Sans, sans-serif" font-size="8.0" fill="#262626" text-anchor="middle">2.5</text>
<text transform="translate(371.63,431.55) scale(1,1.15)" font-family="Liberation Sans, sans-serif" font-size="8.0" fill="#262626" text-anchor="middle">3</text>
<text transform="translate(405.70,431.55) scale(1,1.15)" font-family="Liberation Sans, sans-serif" font-size="8.0" fill="#262626" text-anchor="middle">3.5</text>
<text x="286.45" y="441.70" font-family="Liberation Sans, sans-serif" font-size="8.9" fill="#262626" text-anchor="middle">Time (s)</text>
<linearGradient id="cbg" x1="0" y1="1" x2="0" y2="0"><stop offset="0.000" stop-color="#000080"/><stop offset="0.062" stop-color="#0000bf"/><stop offset="0.125" stop-color="#0000ff"/><stop offset="0.188" stop-color="#0040ff"/><stop offset="0.250" stop-color="#0080ff"/><stop offset="0.312" stop-color="#00bfff"/><stop offset="0.375" stop-color="#00ffff"/><stop offset="0.438" stop-color="#40ffbf"/><stop offset="0.500" stop-color="#80ff80"/><stop offset="0.562" stop-color="#bfff40"/><stop offset="0.625" stop-color="#ffff00"/><stop offset="0.688" stop-color="#ffbf00"/><stop offset="0.750" stop-color="#ff8000"/><stop offset="0.812" stop-color="#ff4000"/><stop offset="0.875" stop-color="#ff0000"/><stop offset="0.938" stop-color="#bf0000"/><stop offset="1.000" stop-color="#800000"/></linearGradient>
<rect x="419.2" y="335.5" width="10.40" height="83.70" fill="url(#cbg)"/>
<text transform="translate(432.80,408.27) scale(1,1.15)" font-family="Liberation Sans, sans-serif" font-size="8.0" fill="#262626" text-anchor="start">1</text>
<text transform="translate(432.80,393.98) scale(1,1.15)" font-family="Liberation Sans, sans-serif" font-size="8.0" fill="#262626" text-anchor="start">2</text>
<text transform="translate(432.80,379.70) scale(1,1.15)" font-family="Liberation Sans, sans-serif" font-size="8.0" fill="#262626" text-anchor="start">3</text>
<text transform="translate(432.80,365.42) scale(1,1.15)" font-family="Liberation Sans, sans-serif" font-size="8.0" fill="#262626" text-anchor="start">4</text>
<text transform="translate(432.80,351.13) scale(1,1.15)" font-family="Liberation Sans, sans-serif" font-size="8.0" fill="#262626" text-anchor="start">5</text>
<text transform="translate(446.80,376.45) rotate(-90)" x="0" y="0" font-family="Liberation Sans, sans-serif" font-size="8.3" fill="#262626" text-anchor="middle">Amplitude (<tspan font-style="italic">μ</tspan>V)</text>
</svg>
</body></html>
